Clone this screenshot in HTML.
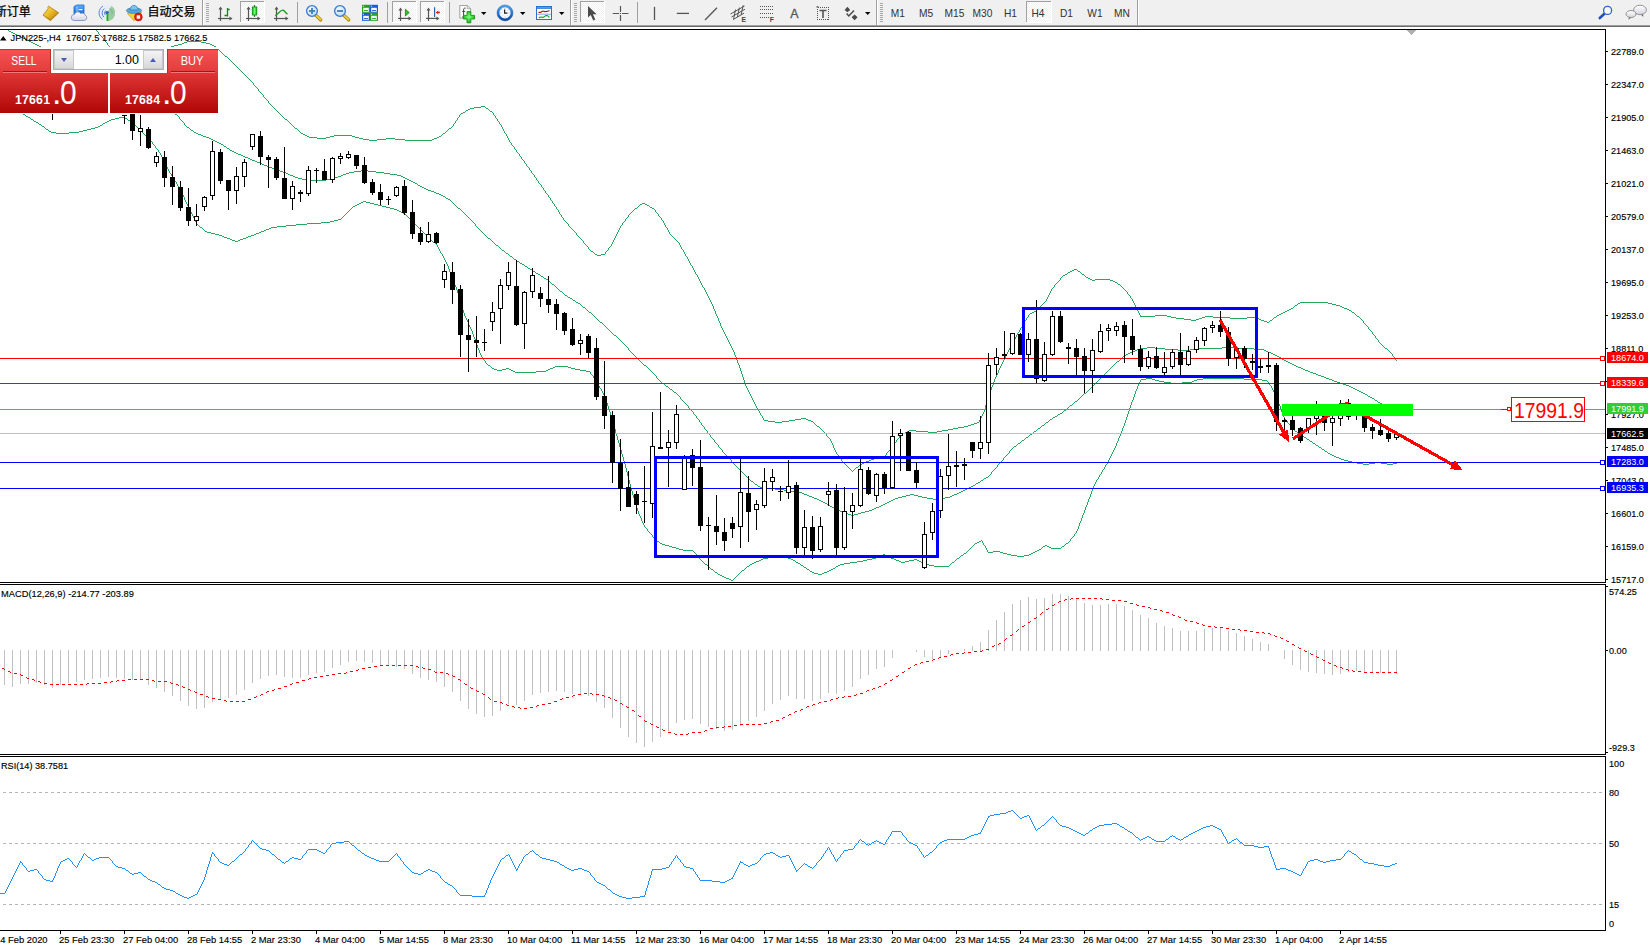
<!DOCTYPE html>
<html><head><meta charset="utf-8"><title>JPN225 H4</title>
<style>
html,body{margin:0;padding:0;background:#fff;}
body{width:1650px;height:950px;position:relative;overflow:hidden;font-family:'Liberation Sans',sans-serif;}
#tb{position:absolute;left:0;top:0;width:1650px;height:25px;background:#f0f0f0;}
#tbl1{position:absolute;left:0;top:25px;width:1650px;height:1px;background:#a0a0a0;}
#tbl2{position:absolute;left:0;top:26px;width:1650px;height:1px;background:#696969;}
#panelbg{position:absolute;left:0;top:47px;width:218px;height:67px;background:#fff;}
#panel{position:absolute;left:0;top:49px;width:218px;height:64px;}
#panel div{position:absolute;box-sizing:border-box;}
.sellT{left:0;top:0;width:51px;height:25px;background:linear-gradient(#f45252,#e23a3a);border-top:1px solid #c93030;border-right:1px solid #c02c2c;}
.buyT{left:167px;top:0;width:51px;height:25px;background:linear-gradient(#f45252,#e23a3a);border-top:1px solid #c93030;border-left:1px solid #c02c2c;}
.sellT span,.buyT span{position:absolute;left:0;right:0;top:4px;text-align:center;color:#fff;font-size:12px;line-height:14px;}
.sellT span{transform:scaleX(0.86);left:-2px}.buyT span{transform:scaleX(0.92);left:-2px}
.sellT:after,.buyT:after{content:"";position:absolute;left:3px;right:3px;top:21px;height:1px;background:#a81414;border-bottom:1px solid #f07878;}
.sellB{left:0;top:24px;width:108px;height:40px;background:linear-gradient(#df3535,#b00606);}
.buyB{left:110px;top:24px;width:108px;height:40px;background:linear-gradient(#df3535,#b00606);}
.sellB span,.buyB span{position:absolute;color:#fff;}
.s{font-size:12.3px;font-weight:bold;left:15px;top:20px;line-height:14px;letter-spacing:0.2px}
.dot{font-size:34px;left:52px;top:-0.5px;line-height:38px;}
.b{font-size:34px;left:60px;top:-0.5px;line-height:38px;transform:scaleX(0.88);transform-origin:left;}
.vol{left:53px;top:0;width:111px;height:21px;background:#fff;border:1px solid #a9b0bd;}
.sp{top:0;width:20px;height:19px;background:linear-gradient(#f4f4f4,#d8d8d8);border:1px solid #c8c8c8;}
.sp.l{left:0}.sp.r{right:0}
.inp{left:21px;top:0;width:67px;height:19px;text-align:right;padding-right:3px;font-size:12.5px;line-height:20px;color:#000;}
i.dn{position:absolute;left:6px;top:7px;border:3.5px solid transparent;border-top:4px solid #4a5bb5;border-bottom:0;}
i.up{position:absolute;left:6px;top:7px;border:3.5px solid transparent;border-bottom:4px solid #4a5bb5;border-top:0;}
</style></head>
<body>
<svg id="chart" width="1650" height="950" viewBox="0 0 1650 950" style="position:absolute;left:0;top:0"><defs><clipPath id="cm"><rect x="0" y="30" width="1605" height="552"/></clipPath></defs>
<g clip-path="url(#cm)" shape-rendering="crispEdges">
<path d="M96 30h1v1h-1zM97 31h1v1h-1zM98 32h1v1h-1zM98 33h1v1h-1zM99 34h1v1h-1zM100 35h1v1h-1zM101 36h1v1h-1zM102 37h1v1h-1zM103 38h1v1h-1zM103 39h1v1h-1zM104 40h1v1h-1zM105 41h1v1h-1zM187 41h14v1h-14zM106 42h1v1h-1zM184 42h3v1h-3zM201 42h5v1h-5zM107 43h1v1h-1zM182 43h2v1h-2zM206 43h4v1h-4zM107 44h1v1h-1zM178 44h4v1h-4zM210 44h2v1h-2zM108 45h1v1h-1zM174 45h4v1h-4zM212 45h2v1h-2zM109 46h1v1h-1zM171 46h3v1h-3zM214 46h2v1h-2zM110 47h1v1h-1zM169 47h2v1h-2zM216 47h1v1h-1zM111 48h2v1h-2zM167 48h2v1h-2zM217 48h1v1h-1zM113 49h1v1h-1zM166 49h1v1h-1zM218 49h1v1h-1zM114 50h1v1h-1zM164 50h2v1h-2zM219 50h1v1h-1zM115 51h2v1h-2zM163 51h1v1h-1zM220 51h1v1h-1zM117 52h1v1h-1zM161 52h2v1h-2zM221 52h1v1h-1zM118 53h1v1h-1zM159 53h2v1h-2zM222 53h1v1h-1zM119 54h2v1h-2zM158 54h1v1h-1zM223 54h1v1h-1zM121 55h1v1h-1zM156 55h2v1h-2zM224 55h1v1h-1zM122 56h1v1h-1zM154 56h2v1h-2zM225 56h2v1h-2zM123 57h2v1h-2zM152 57h2v1h-2zM227 57h1v1h-1zM125 58h2v1h-2zM149 58h3v1h-3zM228 58h1v1h-1zM127 59h4v1h-4zM147 59h2v1h-2zM229 59h1v1h-1zM131 60h4v1h-4zM144 60h3v1h-3zM230 60h1v1h-1zM135 61h4v1h-4zM142 61h2v1h-2zM231 61h1v1h-1zM139 62h3v1h-3zM232 62h1v1h-1zM233 63h1v1h-1zM234 64h1v1h-1zM235 65h1v1h-1zM236 66h1v1h-1zM237 67h1v1h-1zM238 68h1v1h-1zM239 69h1v1h-1zM240 70h1v1h-1zM241 71h1v1h-1zM242 72h1v1h-1zM243 73h1v1h-1zM244 74h1v1h-1zM245 75h1v1h-1zM246 76h1v1h-1zM247 77h1v1h-1zM248 78h1v1h-1zM249 79h1v1h-1zM250 80h1v1h-1zM251 81h1v1h-1zM252 82h1v1h-1zM253 83h1v1h-1zM253 84h1v1h-1zM254 85h1v1h-1zM255 86h1v1h-1zM256 87h1v1h-1zM257 88h1v1h-1zM258 89h1v1h-1zM258 90h1v1h-1zM259 91h1v1h-1zM260 92h1v1h-1zM261 93h1v1h-1zM262 94h1v1h-1zM263 95h1v1h-1zM263 96h1v1h-1zM264 97h1v1h-1zM265 98h1v1h-1zM266 99h1v1h-1zM267 100h1v1h-1zM268 101h1v1h-1zM268 102h1v1h-1zM269 103h1v1h-1zM270 104h1v1h-1zM271 105h1v1h-1zM272 106h1v1h-1zM481 106h4v1h-4zM273 107h1v1h-1zM474 107h7v1h-7zM485 107h1v1h-1zM274 108h1v1h-1zM470 108h4v1h-4zM486 108h2v1h-2zM275 109h1v1h-1zM468 109h2v1h-2zM488 109h1v1h-1zM276 110h1v1h-1zM466 110h2v1h-2zM489 110h1v1h-1zM277 111h1v1h-1zM465 111h1v1h-1zM490 111h2v1h-2zM278 112h1v1h-1zM463 112h2v1h-2zM492 112h1v1h-1zM279 113h1v1h-1zM461 113h2v1h-2zM493 113h1v1h-1zM280 114h1v1h-1zM460 114h1v1h-1zM493 114h1v1h-1zM281 115h1v1h-1zM459 115h1v1h-1zM494 115h1v1h-1zM282 116h1v1h-1zM459 116h1v1h-1zM495 116h1v1h-1zM283 117h1v1h-1zM458 117h1v1h-1zM495 117h1v1h-1zM284 118h1v1h-1zM457 118h1v1h-1zM496 118h1v1h-1zM285 119h2v1h-2zM457 119h1v1h-1zM497 119h1v1h-1zM287 120h1v1h-1zM456 120h1v1h-1zM497 120h1v1h-1zM288 121h1v1h-1zM455 121h1v1h-1zM498 121h1v1h-1zM289 122h1v1h-1zM455 122h1v1h-1zM499 122h1v1h-1zM290 123h1v1h-1zM454 123h1v1h-1zM499 123h1v1h-1zM291 124h1v1h-1zM453 124h1v1h-1zM500 124h1v1h-1zM292 125h1v1h-1zM453 125h1v1h-1zM501 125h1v1h-1zM293 126h1v1h-1zM452 126h1v1h-1zM501 126h1v1h-1zM294 127h1v1h-1zM451 127h1v1h-1zM502 127h1v1h-1zM295 128h2v1h-2zM449 128h2v1h-2zM502 128h1v1h-1zM297 129h1v1h-1zM448 129h1v1h-1zM503 129h1v1h-1zM298 130h1v1h-1zM447 130h1v1h-1zM503 130h1v1h-1zM299 131h1v1h-1zM446 131h1v1h-1zM504 131h1v1h-1zM300 132h1v1h-1zM445 132h1v1h-1zM504 132h1v1h-1zM301 133h2v1h-2zM443 133h2v1h-2zM505 133h1v1h-1zM303 134h2v1h-2zM442 134h1v1h-1zM506 134h1v1h-1zM305 135h2v1h-2zM334 135h18v1h-18zM441 135h1v1h-1zM506 135h1v1h-1zM307 136h2v1h-2zM330 136h4v1h-4zM352 136h3v1h-3zM439 136h2v1h-2zM507 136h1v1h-1zM309 137h8v1h-8zM326 137h4v1h-4zM355 137h4v1h-4zM437 137h2v1h-2zM507 137h1v1h-1zM317 138h9v1h-9zM359 138h4v1h-4zM386 138h9v1h-9zM434 138h3v1h-3zM508 138h1v1h-1zM363 139h6v1h-6zM377 139h9v1h-9zM395 139h10v1h-10zM432 139h2v1h-2zM508 139h1v1h-1zM369 140h8v1h-8zM405 140h27v1h-27zM509 140h1v1h-1zM509 141h1v1h-1zM510 142h1v1h-1zM511 143h1v1h-1zM511 144h1v1h-1zM512 145h1v1h-1zM513 146h1v1h-1zM514 147h1v1h-1zM514 148h1v1h-1zM515 149h1v1h-1zM516 150h1v1h-1zM516 151h1v1h-1zM517 152h1v1h-1zM518 153h1v1h-1zM519 154h1v1h-1zM519 155h1v1h-1zM520 156h1v1h-1zM521 157h1v1h-1zM521 158h1v1h-1zM522 159h1v1h-1zM523 160h1v1h-1zM524 161h1v1h-1zM524 162h1v1h-1zM525 163h1v1h-1zM526 164h1v1h-1zM526 165h1v1h-1zM527 166h1v1h-1zM528 167h1v1h-1zM529 168h1v1h-1zM529 169h1v1h-1zM530 170h1v1h-1zM531 171h1v1h-1zM531 172h1v1h-1zM532 173h1v1h-1zM533 174h1v1h-1zM534 175h1v1h-1zM534 176h1v1h-1zM535 177h1v1h-1zM536 178h1v1h-1zM536 179h1v1h-1zM537 180h1v1h-1zM538 181h1v1h-1zM538 182h1v1h-1zM539 183h1v1h-1zM540 184h1v1h-1zM541 185h1v1h-1zM541 186h1v1h-1zM542 187h1v1h-1zM543 188h1v1h-1zM543 189h1v1h-1zM544 190h1v1h-1zM545 191h1v1h-1zM545 192h1v1h-1zM546 193h1v1h-1zM547 194h1v1h-1zM548 195h1v1h-1zM548 196h1v1h-1zM549 197h1v1h-1zM550 198h1v1h-1zM550 199h1v1h-1zM551 200h1v1h-1zM552 201h1v1h-1zM552 202h1v1h-1zM553 203h1v1h-1zM642 203h3v1h-3zM554 204h1v1h-1zM640 204h2v1h-2zM645 204h2v1h-2zM554 205h1v1h-1zM639 205h1v1h-1zM647 205h2v1h-2zM555 206h1v1h-1zM638 206h1v1h-1zM649 206h1v1h-1zM556 207h1v1h-1zM637 207h1v1h-1zM650 207h2v1h-2zM556 208h1v1h-1zM635 208h2v1h-2zM652 208h2v1h-2zM557 209h1v1h-1zM634 209h1v1h-1zM654 209h1v1h-1zM558 210h1v1h-1zM633 210h1v1h-1zM655 210h1v1h-1zM558 211h1v1h-1zM632 211h1v1h-1zM655 211h1v1h-1zM559 212h1v1h-1zM631 212h1v1h-1zM656 212h1v1h-1zM559 213h1v1h-1zM630 213h1v1h-1zM657 213h1v1h-1zM560 214h1v1h-1zM629 214h1v1h-1zM658 214h1v1h-1zM561 215h1v1h-1zM628 215h1v1h-1zM658 215h1v1h-1zM561 216h1v1h-1zM628 216h1v1h-1zM659 216h1v1h-1zM562 217h1v1h-1zM627 217h1v1h-1zM660 217h1v1h-1zM563 218h1v1h-1zM626 218h1v1h-1zM661 218h1v1h-1zM563 219h1v1h-1zM625 219h1v1h-1zM661 219h1v1h-1zM564 220h1v1h-1zM625 220h1v1h-1zM662 220h1v1h-1zM565 221h1v1h-1zM624 221h1v1h-1zM663 221h1v1h-1zM566 222h1v1h-1zM623 222h1v1h-1zM663 222h1v1h-1zM567 223h1v1h-1zM622 223h1v1h-1zM664 223h1v1h-1zM568 224h1v1h-1zM622 224h1v1h-1zM664 224h1v1h-1zM568 225h1v1h-1zM621 225h1v1h-1zM665 225h1v1h-1zM569 226h1v1h-1zM620 226h1v1h-1zM665 226h1v1h-1zM570 227h1v1h-1zM620 227h1v1h-1zM666 227h1v1h-1zM571 228h1v1h-1zM619 228h1v1h-1zM667 228h1v1h-1zM572 229h1v1h-1zM619 229h1v1h-1zM667 229h1v1h-1zM573 230h1v1h-1zM618 230h1v1h-1zM668 230h1v1h-1zM574 231h1v1h-1zM618 231h1v1h-1zM668 231h1v1h-1zM575 232h1v1h-1zM617 232h1v1h-1zM669 232h1v1h-1zM576 233h1v1h-1zM617 233h1v1h-1zM669 233h1v1h-1zM576 234h1v1h-1zM616 234h1v1h-1zM670 234h1v1h-1zM577 235h1v1h-1zM616 235h1v1h-1zM671 235h1v1h-1zM578 236h1v1h-1zM615 236h1v1h-1zM672 236h1v1h-1zM579 237h1v1h-1zM615 237h1v1h-1zM673 237h1v1h-1zM580 238h1v1h-1zM614 238h1v1h-1zM674 238h1v1h-1zM581 239h1v1h-1zM614 239h1v1h-1zM675 239h1v1h-1zM582 240h1v1h-1zM613 240h1v1h-1zM676 240h1v1h-1zM583 241h1v1h-1zM613 241h1v1h-1zM677 241h1v1h-1zM583 242h1v1h-1zM612 242h1v1h-1zM678 242h1v1h-1zM584 243h1v1h-1zM612 243h1v1h-1zM679 243h1v1h-1zM585 244h1v1h-1zM611 244h1v1h-1zM679 244h1v1h-1zM586 245h1v1h-1zM611 245h1v1h-1zM680 245h1v1h-1zM587 246h1v1h-1zM610 246h1v1h-1zM680 246h1v1h-1zM588 247h1v1h-1zM609 247h1v1h-1zM681 247h1v1h-1zM588 248h1v1h-1zM608 248h1v1h-1zM681 248h1v1h-1zM589 249h1v1h-1zM608 249h1v1h-1zM682 249h1v1h-1zM590 250h1v1h-1zM607 250h1v1h-1zM683 250h1v1h-1zM591 251h2v1h-2zM606 251h1v1h-1zM683 251h1v1h-1zM593 252h1v1h-1zM605 252h1v1h-1zM684 252h1v1h-1zM594 253h1v1h-1zM605 253h1v1h-1zM684 253h1v1h-1zM595 254h2v1h-2zM601 254h4v1h-4zM685 254h1v1h-1zM597 255h4v1h-4zM685 255h1v1h-1zM686 256h1v1h-1zM687 257h1v1h-1zM687 258h1v1h-1zM688 259h1v1h-1zM688 260h1v1h-1zM689 261h1v1h-1zM689 262h1v1h-1zM690 263h1v1h-1zM690 264h1v1h-1zM691 265h1v1h-1zM692 266h1v1h-1zM692 267h1v1h-1zM693 268h1v1h-1zM693 269h1v1h-1zM1074 269h3v1h-3zM694 270h1v1h-1zM1072 270h2v1h-2zM1077 270h1v1h-1zM694 271h1v1h-1zM1070 271h2v1h-2zM1078 271h2v1h-2zM695 272h1v1h-1zM1068 272h2v1h-2zM1080 272h1v1h-1zM695 273h1v1h-1zM1067 273h1v1h-1zM1081 273h1v1h-1zM696 274h1v1h-1zM1065 274h2v1h-2zM1082 274h2v1h-2zM697 275h1v1h-1zM1063 275h2v1h-2zM1084 275h1v1h-1zM697 276h1v1h-1zM1062 276h1v1h-1zM1085 276h1v1h-1zM698 277h1v1h-1zM1061 277h1v1h-1zM1086 277h2v1h-2zM698 278h1v1h-1zM1060 278h1v1h-1zM1088 278h2v1h-2zM699 279h1v1h-1zM1060 279h1v1h-1zM1090 279h2v1h-2zM1095 279h15v1h-15zM699 280h1v1h-1zM1059 280h1v1h-1zM1092 280h3v1h-3zM1110 280h3v1h-3zM700 281h1v1h-1zM1058 281h1v1h-1zM1113 281h2v1h-2zM700 282h1v1h-1zM1057 282h1v1h-1zM1115 282h2v1h-2zM701 283h1v1h-1zM1056 283h1v1h-1zM1117 283h1v1h-1zM701 284h1v1h-1zM1055 284h1v1h-1zM1118 284h2v1h-2zM702 285h1v1h-1zM1054 285h1v1h-1zM1120 285h1v1h-1zM702 286h1v1h-1zM1054 286h1v1h-1zM1121 286h1v1h-1zM703 287h1v1h-1zM1053 287h1v1h-1zM1122 287h1v1h-1zM704 288h1v1h-1zM1052 288h1v1h-1zM1123 288h1v1h-1zM704 289h1v1h-1zM1051 289h1v1h-1zM1124 289h1v1h-1zM705 290h1v1h-1zM1051 290h1v1h-1zM1125 290h1v1h-1zM705 291h1v1h-1zM1050 291h1v1h-1zM1126 291h1v1h-1zM706 292h1v1h-1zM1050 292h1v1h-1zM1127 292h1v1h-1zM706 293h1v1h-1zM1049 293h1v1h-1zM1127 293h1v1h-1zM707 294h1v1h-1zM1049 294h1v1h-1zM1128 294h1v1h-1zM707 295h1v1h-1zM1048 295h1v1h-1zM1129 295h1v1h-1zM708 296h1v1h-1zM1048 296h1v1h-1zM1130 296h1v1h-1zM708 297h1v1h-1zM1047 297h1v1h-1zM1130 297h1v1h-1zM709 298h1v1h-1zM1047 298h1v1h-1zM1131 298h1v1h-1zM709 299h1v1h-1zM1046 299h1v1h-1zM1132 299h1v1h-1zM710 300h1v1h-1zM1046 300h1v1h-1zM1132 300h1v1h-1zM710 301h1v1h-1zM1045 301h1v1h-1zM1133 301h1v1h-1zM711 302h1v1h-1zM1044 302h1v1h-1zM1133 302h1v1h-1zM1300 302h28v1h-28zM711 303h1v1h-1zM1043 303h1v1h-1zM1134 303h1v1h-1zM1298 303h2v1h-2zM1328 303h4v1h-4zM712 304h1v1h-1zM1042 304h1v1h-1zM1134 304h1v1h-1zM1297 304h1v1h-1zM1332 304h4v1h-4zM712 305h1v1h-1zM1041 305h1v1h-1zM1135 305h1v1h-1zM1295 305h2v1h-2zM1336 305h4v1h-4zM713 306h1v1h-1zM1040 306h1v1h-1zM1135 306h1v1h-1zM1294 306h1v1h-1zM1340 306h2v1h-2zM713 307h1v1h-1zM1039 307h1v1h-1zM1136 307h1v1h-1zM1293 307h1v1h-1zM1342 307h2v1h-2zM713 308h1v1h-1zM1038 308h1v1h-1zM1136 308h1v1h-1zM1291 308h2v1h-2zM1344 308h3v1h-3zM714 309h1v1h-1zM1037 309h1v1h-1zM1137 309h1v1h-1zM1289 309h2v1h-2zM1347 309h2v1h-2zM714 310h1v1h-1zM1036 310h1v1h-1zM1137 310h1v1h-1zM1287 310h2v1h-2zM1349 310h2v1h-2zM715 311h1v1h-1zM1034 311h2v1h-2zM1138 311h1v1h-1zM1285 311h2v1h-2zM1351 311h1v1h-1zM715 312h1v1h-1zM1032 312h2v1h-2zM1138 312h1v1h-1zM1283 312h2v1h-2zM1352 312h2v1h-2zM715 313h1v1h-1zM1030 313h2v1h-2zM1139 313h1v1h-1zM1281 313h2v1h-2zM1354 313h1v1h-1zM716 314h1v1h-1zM1029 314h1v1h-1zM1139 314h1v1h-1zM1279 314h2v1h-2zM1355 314h1v1h-1zM716 315h1v1h-1zM1028 315h1v1h-1zM1140 315h1v1h-1zM1155 315h12v1h-12zM1277 315h2v1h-2zM1356 315h1v1h-1zM717 316h1v1h-1zM1028 316h1v1h-1zM1140 316h15v1h-15zM1167 316h4v1h-4zM1205 316h8v1h-8zM1276 316h1v1h-1zM1357 316h2v1h-2zM717 317h1v1h-1zM1027 317h1v1h-1zM1171 317h5v1h-5zM1202 317h3v1h-3zM1213 317h17v1h-17zM1247 317h9v1h-9zM1274 317h2v1h-2zM1359 317h1v1h-1zM718 318h1v1h-1zM1026 318h1v1h-1zM1176 318h8v1h-8zM1199 318h3v1h-3zM1230 318h17v1h-17zM1256 318h3v1h-3zM1273 318h1v1h-1zM1360 318h1v1h-1zM718 319h1v1h-1zM1026 319h1v1h-1zM1184 319h7v1h-7zM1196 319h3v1h-3zM1259 319h2v1h-2zM1272 319h1v1h-1zM1361 319h1v1h-1zM718 320h1v1h-1zM1025 320h1v1h-1zM1191 320h5v1h-5zM1261 320h3v1h-3zM1270 320h2v1h-2zM1362 320h1v1h-1zM719 321h1v1h-1zM1024 321h1v1h-1zM1264 321h3v1h-3zM1269 321h1v1h-1zM1363 321h1v1h-1zM719 322h1v1h-1zM1024 322h1v1h-1zM1267 322h2v1h-2zM1363 322h1v1h-1zM720 323h1v1h-1zM1023 323h1v1h-1zM1364 323h1v1h-1zM720 324h1v1h-1zM1023 324h1v1h-1zM1365 324h1v1h-1zM720 325h1v1h-1zM1022 325h1v1h-1zM1366 325h1v1h-1zM721 326h1v1h-1zM1022 326h1v1h-1zM1367 326h1v1h-1zM721 327h1v1h-1zM1021 327h1v1h-1zM1368 327h1v1h-1zM722 328h1v1h-1zM1020 328h1v1h-1zM1368 328h1v1h-1zM722 329h1v1h-1zM1020 329h1v1h-1zM1369 329h1v1h-1zM723 330h1v1h-1zM1019 330h1v1h-1zM1370 330h1v1h-1zM723 331h1v1h-1zM1019 331h1v1h-1zM1371 331h1v1h-1zM724 332h1v1h-1zM1018 332h1v1h-1zM1372 332h1v1h-1zM724 333h1v1h-1zM1017 333h1v1h-1zM1372 333h1v1h-1zM725 334h1v1h-1zM1017 334h1v1h-1zM1373 334h1v1h-1zM725 335h1v1h-1zM1016 335h1v1h-1zM1374 335h1v1h-1zM726 336h1v1h-1zM1016 336h1v1h-1zM1375 336h1v1h-1zM726 337h1v1h-1zM1015 337h1v1h-1zM1375 337h1v1h-1zM727 338h1v1h-1zM1015 338h1v1h-1zM1376 338h1v1h-1zM727 339h1v1h-1zM1014 339h1v1h-1zM1377 339h1v1h-1zM728 340h1v1h-1zM1013 340h1v1h-1zM1378 340h1v1h-1zM728 341h1v1h-1zM1013 341h1v1h-1zM1378 341h1v1h-1zM729 342h1v1h-1zM1012 342h1v1h-1zM1379 342h1v1h-1zM729 343h1v1h-1zM1012 343h1v1h-1zM1380 343h1v1h-1zM730 344h1v1h-1zM1011 344h1v1h-1zM1381 344h1v1h-1zM730 345h1v1h-1zM1011 345h1v1h-1zM1382 345h1v1h-1zM731 346h1v1h-1zM1010 346h1v1h-1zM1383 346h1v1h-1zM731 347h1v1h-1zM1010 347h1v1h-1zM1384 347h1v1h-1zM732 348h1v1h-1zM1009 348h1v1h-1zM1385 348h2v1h-2zM732 349h1v1h-1zM1009 349h1v1h-1zM1387 349h1v1h-1zM733 350h1v1h-1zM1008 350h1v1h-1zM1388 350h1v1h-1zM733 351h1v1h-1zM1008 351h1v1h-1zM1389 351h1v1h-1zM734 352h1v1h-1zM1007 352h1v1h-1zM1390 352h1v1h-1zM734 353h1v1h-1zM1007 353h1v1h-1zM1391 353h1v1h-1zM734 354h1v1h-1zM1006 354h1v1h-1zM1392 354h1v1h-1zM735 355h1v1h-1zM1006 355h1v1h-1zM1392 355h1v1h-1zM735 356h1v1h-1zM1005 356h1v1h-1zM1393 356h1v1h-1zM736 357h1v1h-1zM1005 357h1v1h-1zM1394 357h1v1h-1zM736 358h1v1h-1zM1004 358h1v1h-1zM1395 358h1v1h-1zM736 359h1v1h-1zM1004 359h1v1h-1zM1395 359h1v1h-1zM737 360h1v1h-1zM1003 360h1v1h-1zM1396 360h1v1h-1zM737 361h1v1h-1zM1003 361h1v1h-1zM737 362h1v1h-1zM1002 362h1v1h-1zM738 363h1v1h-1zM1002 363h1v1h-1zM738 364h1v1h-1zM1001 364h1v1h-1zM739 365h1v1h-1zM1001 365h1v1h-1zM739 366h1v1h-1zM1000 366h1v1h-1zM739 367h1v1h-1zM1000 367h1v1h-1zM740 368h1v1h-1zM999 368h1v1h-1zM740 369h1v1h-1zM999 369h1v1h-1zM740 370h1v1h-1zM998 370h1v1h-1zM741 371h1v1h-1zM998 371h1v1h-1zM741 372h1v1h-1zM998 372h1v1h-1zM741 373h1v1h-1zM997 373h1v1h-1zM742 374h1v1h-1zM997 374h1v1h-1zM742 375h1v1h-1zM996 375h1v1h-1zM742 376h1v1h-1zM996 376h1v1h-1zM743 377h1v1h-1zM995 377h1v1h-1zM743 378h1v1h-1zM995 378h1v1h-1zM743 379h1v1h-1zM994 379h1v1h-1zM744 380h1v1h-1zM994 380h1v1h-1zM744 381h1v1h-1zM994 381h1v1h-1zM744 382h1v1h-1zM993 382h1v1h-1zM745 383h1v1h-1zM993 383h1v1h-1zM745 384h1v1h-1zM993 384h1v1h-1zM745 385h1v1h-1zM992 385h1v1h-1zM746 386h1v1h-1zM992 386h1v1h-1zM746 387h1v1h-1zM991 387h1v1h-1zM747 388h1v1h-1zM991 388h1v1h-1zM747 389h1v1h-1zM991 389h1v1h-1zM748 390h1v1h-1zM990 390h1v1h-1zM748 391h1v1h-1zM990 391h1v1h-1zM749 392h1v1h-1zM990 392h1v1h-1zM749 393h1v1h-1zM989 393h1v1h-1zM750 394h1v1h-1zM989 394h1v1h-1zM750 395h1v1h-1zM988 395h1v1h-1zM751 396h1v1h-1zM988 396h1v1h-1zM751 397h1v1h-1zM988 397h1v1h-1zM752 398h1v1h-1zM987 398h1v1h-1zM752 399h1v1h-1zM987 399h1v1h-1zM753 400h1v1h-1zM987 400h1v1h-1zM753 401h1v1h-1zM987 401h1v1h-1zM754 402h1v1h-1zM986 402h1v1h-1zM754 403h1v1h-1zM986 403h1v1h-1zM755 404h1v1h-1zM986 404h1v1h-1zM755 405h1v1h-1zM985 405h1v1h-1zM756 406h1v1h-1zM985 406h1v1h-1zM756 407h1v1h-1zM985 407h1v1h-1zM757 408h1v1h-1zM985 408h1v1h-1zM758 409h1v1h-1zM984 409h1v1h-1zM758 410h1v1h-1zM984 410h1v1h-1zM759 411h1v1h-1zM984 411h1v1h-1zM759 412h1v1h-1zM983 412h1v1h-1zM760 413h1v1h-1zM983 413h1v1h-1zM760 414h1v1h-1zM982 414h1v1h-1zM761 415h1v1h-1zM982 415h1v1h-1zM762 416h1v1h-1zM981 416h1v1h-1zM762 417h1v1h-1zM981 417h1v1h-1zM763 418h1v1h-1zM801 418h5v1h-5zM980 418h1v1h-1zM763 419h1v1h-1zM795 419h6v1h-6zM806 419h2v1h-2zM980 419h1v1h-1zM764 420h4v1h-4zM789 420h6v1h-6zM808 420h3v1h-3zM979 420h1v1h-1zM768 421h7v1h-7zM782 421h7v1h-7zM811 421h2v1h-2zM979 421h1v1h-1zM775 422h7v1h-7zM813 422h1v1h-1zM977 422h2v1h-2zM814 423h1v1h-1zM974 423h3v1h-3zM815 424h1v1h-1zM971 424h3v1h-3zM816 425h1v1h-1zM968 425h3v1h-3zM817 426h2v1h-2zM964 426h4v1h-4zM819 427h1v1h-1zM958 427h6v1h-6zM820 428h1v1h-1zM953 428h5v1h-5zM821 429h1v1h-1zM948 429h5v1h-5zM822 430h1v1h-1zM909 430h7v1h-7zM942 430h6v1h-6zM823 431h1v1h-1zM907 431h2v1h-2zM916 431h12v1h-12zM937 431h5v1h-5zM824 432h1v1h-1zM905 432h2v1h-2zM928 432h9v1h-9zM825 433h1v1h-1zM903 433h2v1h-2zM826 434h1v1h-1zM901 434h2v1h-2zM826 435h1v1h-1zM900 435h1v1h-1zM827 436h1v1h-1zM899 436h1v1h-1zM828 437h1v1h-1zM899 437h1v1h-1zM829 438h1v1h-1zM898 438h1v1h-1zM830 439h1v1h-1zM897 439h1v1h-1zM830 440h1v1h-1zM896 440h1v1h-1zM831 441h1v1h-1zM896 441h1v1h-1zM831 442h1v1h-1zM895 442h1v1h-1zM832 443h1v1h-1zM894 443h1v1h-1zM832 444h1v1h-1zM893 444h1v1h-1zM833 445h1v1h-1zM893 445h1v1h-1zM833 446h1v1h-1zM892 446h1v1h-1zM833 447h1v1h-1zM891 447h1v1h-1zM834 448h1v1h-1zM890 448h1v1h-1zM834 449h1v1h-1zM890 449h1v1h-1zM835 450h1v1h-1zM889 450h1v1h-1zM835 451h1v1h-1zM888 451h1v1h-1zM836 452h1v1h-1zM887 452h1v1h-1zM836 453h1v1h-1zM886 453h1v1h-1zM837 454h1v1h-1zM886 454h1v1h-1zM838 455h1v1h-1zM885 455h1v1h-1zM838 456h1v1h-1zM882 456h3v1h-3zM839 457h1v1h-1zM878 457h4v1h-4zM840 458h1v1h-1zM874 458h4v1h-4zM841 459h1v1h-1zM871 459h3v1h-3zM841 460h1v1h-1zM869 460h2v1h-2zM842 461h1v1h-1zM866 461h3v1h-3zM843 462h1v1h-1zM864 462h2v1h-2zM844 463h1v1h-1zM862 463h2v1h-2zM845 464h1v1h-1zM860 464h2v1h-2zM846 465h1v1h-1zM859 465h1v1h-1zM847 466h1v1h-1zM858 466h1v1h-1zM848 467h1v1h-1zM856 467h2v1h-2zM849 468h1v1h-1zM855 468h1v1h-1zM850 469h1v1h-1zM854 469h1v1h-1zM851 470h1v1h-1zM853 470h1v1h-1zM852 471h1v1h-1z" fill="#24a95e"/>
<path d="M8 30h1v1h-1zM9 31h2v1h-2zM11 32h2v1h-2zM13 33h2v1h-2zM15 34h2v1h-2zM17 35h2v1h-2zM19 36h2v1h-2zM21 37h2v1h-2zM23 38h2v1h-2zM25 39h2v1h-2zM27 40h2v1h-2zM29 41h2v1h-2zM31 42h2v1h-2zM33 43h2v1h-2zM35 44h2v1h-2zM37 45h2v1h-2zM39 46h2v1h-2zM41 47h2v1h-2zM43 48h2v1h-2zM45 49h2v1h-2zM47 50h2v1h-2zM49 51h2v1h-2zM51 52h2v1h-2zM53 53h2v1h-2zM55 54h2v1h-2zM57 55h2v1h-2zM59 56h2v1h-2zM61 57h2v1h-2zM63 58h2v1h-2zM65 59h2v1h-2zM67 60h2v1h-2zM69 61h2v1h-2zM71 62h2v1h-2zM73 63h2v1h-2zM75 64h2v1h-2zM77 65h2v1h-2zM79 66h2v1h-2zM81 67h2v1h-2zM83 68h2v1h-2zM85 69h2v1h-2zM87 70h2v1h-2zM89 71h2v1h-2zM91 72h2v1h-2zM93 73h2v1h-2zM95 74h2v1h-2zM97 75h2v1h-2zM99 76h2v1h-2zM101 77h2v1h-2zM103 78h2v1h-2zM105 79h2v1h-2zM107 80h2v1h-2zM109 81h2v1h-2zM111 82h2v1h-2zM113 83h2v1h-2zM115 84h2v1h-2zM117 85h2v1h-2zM119 86h3v1h-3zM122 87h2v1h-2zM124 88h2v1h-2zM126 89h2v1h-2zM128 90h2v1h-2zM130 91h2v1h-2zM132 92h2v1h-2zM134 93h3v1h-3zM137 94h2v1h-2zM139 95h2v1h-2zM141 96h2v1h-2zM143 97h2v1h-2zM145 98h2v1h-2zM147 99h2v1h-2zM149 100h2v1h-2zM151 101h2v1h-2zM153 102h2v1h-2zM155 103h2v1h-2zM157 104h2v1h-2zM159 105h1v1h-1zM160 106h2v1h-2zM162 107h2v1h-2zM164 108h2v1h-2zM166 109h2v1h-2zM168 110h1v1h-1zM169 111h2v1h-2zM171 112h2v1h-2zM173 113h2v1h-2zM175 114h2v1h-2zM177 115h1v1h-1zM178 116h1v1h-1zM179 117h1v1h-1zM179 118h1v1h-1zM180 119h1v1h-1zM181 120h1v1h-1zM182 121h1v1h-1zM183 122h1v1h-1zM184 123h1v1h-1zM184 124h1v1h-1zM185 125h1v1h-1zM186 126h1v1h-1zM187 127h2v1h-2zM189 128h1v1h-1zM190 129h1v1h-1zM191 130h2v1h-2zM193 131h1v1h-1zM194 132h2v1h-2zM196 133h2v1h-2zM198 134h3v1h-3zM201 135h2v1h-2zM203 136h3v1h-3zM206 137h3v1h-3zM209 138h2v1h-2zM211 139h2v1h-2zM213 140h2v1h-2zM215 141h2v1h-2zM217 142h2v1h-2zM219 143h2v1h-2zM221 144h2v1h-2zM223 145h1v1h-1zM224 146h2v1h-2zM226 147h1v1h-1zM227 148h2v1h-2zM229 149h1v1h-1zM230 150h2v1h-2zM232 151h2v1h-2zM234 152h2v1h-2zM236 153h2v1h-2zM238 154h3v1h-3zM241 155h2v1h-2zM243 156h2v1h-2zM245 157h3v1h-3zM248 158h2v1h-2zM250 159h2v1h-2zM252 160h3v1h-3zM255 161h2v1h-2zM257 162h3v1h-3zM260 163h2v1h-2zM262 164h2v1h-2zM264 165h3v1h-3zM267 166h2v1h-2zM269 167h3v1h-3zM272 168h3v1h-3zM275 169h2v1h-2zM277 170h3v1h-3zM361 170h7v1h-7zM280 171h3v1h-3zM354 171h7v1h-7zM368 171h8v1h-8zM283 172h3v1h-3zM349 172h5v1h-5zM376 172h8v1h-8zM286 173h2v1h-2zM346 173h3v1h-3zM384 173h6v1h-6zM288 174h2v1h-2zM343 174h3v1h-3zM390 174h7v1h-7zM290 175h3v1h-3zM341 175h2v1h-2zM397 175h4v1h-4zM293 176h2v1h-2zM338 176h3v1h-3zM401 176h2v1h-2zM295 177h3v1h-3zM334 177h4v1h-4zM403 177h2v1h-2zM298 178h4v1h-4zM330 178h4v1h-4zM405 178h2v1h-2zM302 179h4v1h-4zM326 179h4v1h-4zM407 179h2v1h-2zM306 180h20v1h-20zM409 180h2v1h-2zM411 181h2v1h-2zM413 182h2v1h-2zM415 183h2v1h-2zM417 184h1v1h-1zM418 185h2v1h-2zM420 186h2v1h-2zM422 187h2v1h-2zM424 188h2v1h-2zM426 189h2v1h-2zM428 190h3v1h-3zM431 191h3v1h-3zM434 192h2v1h-2zM436 193h3v1h-3zM439 194h2v1h-2zM441 195h2v1h-2zM443 196h2v1h-2zM445 197h1v1h-1zM446 198h2v1h-2zM448 199h2v1h-2zM450 200h1v1h-1zM451 201h1v1h-1zM452 202h1v1h-1zM453 203h1v1h-1zM454 204h1v1h-1zM455 205h1v1h-1zM456 206h1v1h-1zM457 207h1v1h-1zM458 208h2v1h-2zM460 209h1v1h-1zM461 210h1v1h-1zM462 211h1v1h-1zM463 212h1v1h-1zM464 213h1v1h-1zM465 214h1v1h-1zM466 215h1v1h-1zM467 216h1v1h-1zM468 217h1v1h-1zM469 218h1v1h-1zM470 219h1v1h-1zM471 220h1v1h-1zM472 221h1v1h-1zM473 222h1v1h-1zM474 223h1v1h-1zM475 224h1v1h-1zM475 225h1v1h-1zM476 226h1v1h-1zM477 227h1v1h-1zM478 228h1v1h-1zM479 229h1v1h-1zM480 230h1v1h-1zM481 231h1v1h-1zM482 232h1v1h-1zM483 233h1v1h-1zM484 234h1v1h-1zM485 235h1v1h-1zM486 236h1v1h-1zM487 237h1v1h-1zM488 238h2v1h-2zM490 239h1v1h-1zM491 240h1v1h-1zM492 241h1v1h-1zM493 242h1v1h-1zM494 243h1v1h-1zM495 244h1v1h-1zM496 245h2v1h-2zM498 246h1v1h-1zM499 247h1v1h-1zM500 248h1v1h-1zM501 249h1v1h-1zM502 250h2v1h-2zM504 251h1v1h-1zM505 252h1v1h-1zM506 253h2v1h-2zM508 254h1v1h-1zM509 255h1v1h-1zM510 256h2v1h-2zM512 257h1v1h-1zM513 258h1v1h-1zM514 259h2v1h-2zM516 260h1v1h-1zM517 261h2v1h-2zM519 262h1v1h-1zM520 263h2v1h-2zM522 264h2v1h-2zM524 265h1v1h-1zM525 266h2v1h-2zM527 267h1v1h-1zM528 268h2v1h-2zM530 269h2v1h-2zM532 270h1v1h-1zM533 271h2v1h-2zM535 272h1v1h-1zM536 273h2v1h-2zM538 274h2v1h-2zM540 275h1v1h-1zM541 276h2v1h-2zM543 277h1v1h-1zM544 278h2v1h-2zM546 279h2v1h-2zM548 280h1v1h-1zM549 281h1v1h-1zM550 282h1v1h-1zM551 283h1v1h-1zM552 284h2v1h-2zM554 285h1v1h-1zM555 286h1v1h-1zM556 287h1v1h-1zM557 288h1v1h-1zM558 289h1v1h-1zM559 290h1v1h-1zM560 291h2v1h-2zM562 292h1v1h-1zM563 293h1v1h-1zM564 294h1v1h-1zM565 295h2v1h-2zM567 296h1v1h-1zM568 297h2v1h-2zM570 298h2v1h-2zM572 299h1v1h-1zM573 300h2v1h-2zM575 301h1v1h-1zM576 302h2v1h-2zM578 303h2v1h-2zM580 304h1v1h-1zM581 305h1v1h-1zM582 306h1v1h-1zM583 307h2v1h-2zM585 308h1v1h-1zM586 309h1v1h-1zM587 310h1v1h-1zM588 311h1v1h-1zM589 312h2v1h-2zM591 313h1v1h-1zM592 314h1v1h-1zM593 315h1v1h-1zM594 316h1v1h-1zM595 317h1v1h-1zM596 318h1v1h-1zM597 319h1v1h-1zM598 320h1v1h-1zM599 321h1v1h-1zM600 322h2v1h-2zM602 323h1v1h-1zM603 324h1v1h-1zM604 325h1v1h-1zM605 326h1v1h-1zM606 327h1v1h-1zM607 328h1v1h-1zM608 329h1v1h-1zM609 330h1v1h-1zM610 331h1v1h-1zM611 332h1v1h-1zM612 333h1v1h-1zM613 334h1v1h-1zM614 335h2v1h-2zM616 336h1v1h-1zM617 337h1v1h-1zM618 338h1v1h-1zM619 339h1v1h-1zM620 340h1v1h-1zM621 341h1v1h-1zM622 342h1v1h-1zM623 343h1v1h-1zM624 344h1v1h-1zM625 345h1v1h-1zM626 346h1v1h-1zM627 347h1v1h-1zM1147 347h8v1h-8zM1222 347h16v1h-16zM628 348h1v1h-1zM1141 348h6v1h-6zM1155 348h10v1h-10zM1198 348h24v1h-24zM1238 348h16v1h-16zM628 349h1v1h-1zM1137 349h4v1h-4zM1165 349h13v1h-13zM1190 349h8v1h-8zM1254 349h10v1h-10zM629 350h1v1h-1zM1135 350h2v1h-2zM1178 350h12v1h-12zM1264 350h2v1h-2zM630 351h1v1h-1zM1132 351h3v1h-3zM1266 351h2v1h-2zM631 352h1v1h-1zM1130 352h2v1h-2zM1268 352h3v1h-3zM632 353h1v1h-1zM1128 353h2v1h-2zM1271 353h2v1h-2zM633 354h1v1h-1zM1126 354h2v1h-2zM1273 354h2v1h-2zM634 355h1v1h-1zM1125 355h1v1h-1zM1275 355h2v1h-2zM635 356h1v1h-1zM1123 356h2v1h-2zM1277 356h2v1h-2zM636 357h1v1h-1zM1122 357h1v1h-1zM1279 357h2v1h-2zM637 358h1v1h-1zM1121 358h1v1h-1zM1281 358h1v1h-1zM638 359h1v1h-1zM1120 359h1v1h-1zM1282 359h2v1h-2zM639 360h1v1h-1zM1119 360h1v1h-1zM1284 360h2v1h-2zM640 361h1v1h-1zM1117 361h2v1h-2zM1286 361h2v1h-2zM641 362h1v1h-1zM1116 362h1v1h-1zM1288 362h2v1h-2zM642 363h1v1h-1zM1115 363h1v1h-1zM1290 363h2v1h-2zM643 364h1v1h-1zM1114 364h1v1h-1zM1292 364h2v1h-2zM644 365h2v1h-2zM1113 365h1v1h-1zM1294 365h2v1h-2zM646 366h1v1h-1zM1112 366h1v1h-1zM1296 366h2v1h-2zM647 367h1v1h-1zM1111 367h1v1h-1zM1298 367h3v1h-3zM648 368h1v1h-1zM1110 368h1v1h-1zM1301 368h2v1h-2zM649 369h1v1h-1zM1109 369h1v1h-1zM1303 369h2v1h-2zM650 370h1v1h-1zM1108 370h1v1h-1zM1305 370h3v1h-3zM651 371h1v1h-1zM1107 371h1v1h-1zM1308 371h2v1h-2zM652 372h1v1h-1zM1106 372h1v1h-1zM1310 372h3v1h-3zM653 373h1v1h-1zM1105 373h1v1h-1zM1313 373h3v1h-3zM654 374h1v1h-1zM1104 374h1v1h-1zM1316 374h2v1h-2zM655 375h1v1h-1zM1103 375h1v1h-1zM1318 375h3v1h-3zM656 376h1v1h-1zM1102 376h1v1h-1zM1321 376h3v1h-3zM656 377h1v1h-1zM1101 377h1v1h-1zM1324 377h2v1h-2zM657 378h1v1h-1zM1100 378h1v1h-1zM1326 378h3v1h-3zM658 379h1v1h-1zM1099 379h1v1h-1zM1329 379h3v1h-3zM659 380h1v1h-1zM1098 380h1v1h-1zM1332 380h2v1h-2zM660 381h1v1h-1zM1097 381h1v1h-1zM1334 381h3v1h-3zM661 382h1v1h-1zM1096 382h1v1h-1zM1337 382h3v1h-3zM662 383h2v1h-2zM1095 383h1v1h-1zM1340 383h3v1h-3zM664 384h1v1h-1zM1094 384h1v1h-1zM1343 384h3v1h-3zM665 385h1v1h-1zM1093 385h1v1h-1zM1346 385h3v1h-3zM666 386h2v1h-2zM1092 386h1v1h-1zM1349 386h2v1h-2zM668 387h1v1h-1zM1091 387h1v1h-1zM1351 387h2v1h-2zM669 388h1v1h-1zM1090 388h1v1h-1zM1353 388h2v1h-2zM670 389h2v1h-2zM1089 389h1v1h-1zM1355 389h2v1h-2zM672 390h1v1h-1zM1088 390h1v1h-1zM1357 390h2v1h-2zM673 391h1v1h-1zM1087 391h1v1h-1zM1359 391h2v1h-2zM674 392h2v1h-2zM1086 392h1v1h-1zM1361 392h2v1h-2zM676 393h1v1h-1zM1084 393h2v1h-2zM1363 393h2v1h-2zM677 394h1v1h-1zM1083 394h1v1h-1zM1365 394h2v1h-2zM678 395h1v1h-1zM1082 395h1v1h-1zM1367 395h1v1h-1zM679 396h1v1h-1zM1081 396h1v1h-1zM1368 396h2v1h-2zM680 397h1v1h-1zM1080 397h1v1h-1zM1370 397h2v1h-2zM680 398h1v1h-1zM1079 398h1v1h-1zM1372 398h2v1h-2zM681 399h1v1h-1zM1078 399h1v1h-1zM1374 399h1v1h-1zM682 400h1v1h-1zM1077 400h1v1h-1zM1375 400h2v1h-2zM683 401h1v1h-1zM1075 401h2v1h-2zM1377 401h1v1h-1zM684 402h1v1h-1zM1074 402h1v1h-1zM1378 402h2v1h-2zM685 403h1v1h-1zM1073 403h1v1h-1zM1380 403h2v1h-2zM686 404h1v1h-1zM1072 404h1v1h-1zM1382 404h1v1h-1zM687 405h1v1h-1zM1070 405h2v1h-2zM1383 405h2v1h-2zM688 406h1v1h-1zM1069 406h1v1h-1zM1385 406h1v1h-1zM688 407h1v1h-1zM1068 407h1v1h-1zM1386 407h1v1h-1zM689 408h1v1h-1zM1067 408h1v1h-1zM1387 408h2v1h-2zM690 409h1v1h-1zM1066 409h1v1h-1zM1389 409h1v1h-1zM691 410h1v1h-1zM1064 410h2v1h-2zM1390 410h2v1h-2zM692 411h1v1h-1zM1063 411h1v1h-1zM1392 411h1v1h-1zM693 412h1v1h-1zM1062 412h1v1h-1zM1393 412h1v1h-1zM693 413h1v1h-1zM1060 413h2v1h-2zM1394 413h2v1h-2zM694 414h1v1h-1zM1058 414h2v1h-2zM1396 414h1v1h-1zM695 415h1v1h-1zM1057 415h1v1h-1zM696 416h1v1h-1zM1055 416h2v1h-2zM696 417h1v1h-1zM1053 417h2v1h-2zM697 418h1v1h-1zM1052 418h1v1h-1zM698 419h1v1h-1zM1050 419h2v1h-2zM699 420h1v1h-1zM1049 420h1v1h-1zM699 421h1v1h-1zM1048 421h1v1h-1zM700 422h1v1h-1zM1046 422h2v1h-2zM701 423h1v1h-1zM1045 423h1v1h-1zM701 424h1v1h-1zM1044 424h1v1h-1zM702 425h1v1h-1zM1042 425h2v1h-2zM703 426h1v1h-1zM1041 426h1v1h-1zM704 427h1v1h-1zM1040 427h1v1h-1zM704 428h1v1h-1zM1038 428h2v1h-2zM705 429h1v1h-1zM1037 429h1v1h-1zM706 430h1v1h-1zM1036 430h1v1h-1zM707 431h1v1h-1zM1034 431h2v1h-2zM707 432h1v1h-1zM1033 432h1v1h-1zM708 433h1v1h-1zM1032 433h1v1h-1zM709 434h1v1h-1zM1030 434h2v1h-2zM710 435h1v1h-1zM1029 435h1v1h-1zM710 436h1v1h-1zM1028 436h1v1h-1zM711 437h1v1h-1zM1026 437h2v1h-2zM712 438h1v1h-1zM1025 438h1v1h-1zM713 439h1v1h-1zM1024 439h1v1h-1zM714 440h1v1h-1zM1022 440h2v1h-2zM714 441h1v1h-1zM1021 441h1v1h-1zM715 442h1v1h-1zM1020 442h1v1h-1zM716 443h1v1h-1zM1018 443h2v1h-2zM717 444h1v1h-1zM1017 444h1v1h-1zM718 445h1v1h-1zM1016 445h1v1h-1zM718 446h1v1h-1zM1014 446h2v1h-2zM719 447h1v1h-1zM1013 447h1v1h-1zM720 448h1v1h-1zM1012 448h1v1h-1zM721 449h1v1h-1zM1011 449h1v1h-1zM722 450h1v1h-1zM1010 450h1v1h-1zM722 451h1v1h-1zM1009 451h1v1h-1zM723 452h1v1h-1zM1009 452h1v1h-1zM724 453h1v1h-1zM1008 453h1v1h-1zM725 454h1v1h-1zM1007 454h1v1h-1zM726 455h1v1h-1zM1006 455h1v1h-1zM727 456h1v1h-1zM1005 456h1v1h-1zM728 457h1v1h-1zM1004 457h1v1h-1zM729 458h1v1h-1zM1003 458h1v1h-1zM730 459h1v1h-1zM1003 459h1v1h-1zM731 460h1v1h-1zM1002 460h1v1h-1zM731 461h1v1h-1zM1001 461h1v1h-1zM732 462h1v1h-1zM1000 462h1v1h-1zM733 463h1v1h-1zM999 463h1v1h-1zM734 464h1v1h-1zM998 464h1v1h-1zM735 465h1v1h-1zM997 465h1v1h-1zM736 466h1v1h-1zM997 466h1v1h-1zM737 467h1v1h-1zM996 467h1v1h-1zM738 468h1v1h-1zM995 468h1v1h-1zM739 469h1v1h-1zM994 469h1v1h-1zM740 470h1v1h-1zM993 470h1v1h-1zM741 471h1v1h-1zM992 471h1v1h-1zM742 472h1v1h-1zM991 472h1v1h-1zM743 473h1v1h-1zM991 473h1v1h-1zM744 474h1v1h-1zM990 474h1v1h-1zM745 475h1v1h-1zM989 475h1v1h-1zM746 476h1v1h-1zM988 476h1v1h-1zM747 477h1v1h-1zM986 477h2v1h-2zM748 478h1v1h-1zM984 478h2v1h-2zM749 479h1v1h-1zM983 479h1v1h-1zM750 480h1v1h-1zM981 480h2v1h-2zM751 481h2v1h-2zM980 481h1v1h-1zM753 482h1v1h-1zM978 482h2v1h-2zM754 483h1v1h-1zM976 483h2v1h-2zM755 484h2v1h-2zM975 484h1v1h-1zM757 485h1v1h-1zM973 485h2v1h-2zM758 486h2v1h-2zM971 486h2v1h-2zM760 487h5v1h-5zM969 487h2v1h-2zM765 488h10v1h-10zM967 488h2v1h-2zM775 489h9v1h-9zM965 489h2v1h-2zM784 490h6v1h-6zM963 490h2v1h-2zM790 491h7v1h-7zM961 491h2v1h-2zM797 492h5v1h-5zM959 492h2v1h-2zM802 493h2v1h-2zM957 493h2v1h-2zM804 494h3v1h-3zM910 494h4v1h-4zM954 494h3v1h-3zM807 495h2v1h-2zM906 495h4v1h-4zM914 495h4v1h-4zM952 495h2v1h-2zM809 496h3v1h-3zM902 496h4v1h-4zM918 496h4v1h-4zM950 496h2v1h-2zM812 497h2v1h-2zM898 497h4v1h-4zM922 497h5v1h-5zM945 497h5v1h-5zM814 498h3v1h-3zM895 498h3v1h-3zM927 498h6v1h-6zM939 498h6v1h-6zM817 499h2v1h-2zM893 499h2v1h-2zM933 499h6v1h-6zM819 500h2v1h-2zM891 500h2v1h-2zM821 501h2v1h-2zM889 501h2v1h-2zM823 502h2v1h-2zM887 502h2v1h-2zM825 503h2v1h-2zM885 503h2v1h-2zM827 504h2v1h-2zM883 504h2v1h-2zM829 505h1v1h-1zM881 505h2v1h-2zM830 506h2v1h-2zM879 506h2v1h-2zM832 507h2v1h-2zM876 507h3v1h-3zM834 508h2v1h-2zM874 508h2v1h-2zM836 509h2v1h-2zM872 509h2v1h-2zM838 510h2v1h-2zM869 510h3v1h-3zM840 511h2v1h-2zM865 511h4v1h-4zM842 512h3v1h-3zM861 512h4v1h-4zM845 513h3v1h-3zM858 513h3v1h-3zM848 514h3v1h-3zM854 514h4v1h-4zM851 515h3v1h-3z" fill="#24a95e"/>
<path d="M4 100h1v1h-1zM5 101h2v1h-2zM7 102h1v1h-1zM8 103h1v1h-1zM9 104h2v1h-2zM11 105h1v1h-1zM12 106h2v1h-2zM14 107h1v1h-1zM15 108h1v1h-1zM16 109h2v1h-2zM18 110h1v1h-1zM19 111h2v1h-2zM21 112h1v1h-1zM22 113h1v1h-1zM23 114h2v1h-2zM25 115h1v1h-1zM26 116h2v1h-2zM28 117h2v1h-2zM119 117h6v1h-6zM30 118h1v1h-1zM115 118h4v1h-4zM125 118h2v1h-2zM31 119h2v1h-2zM111 119h4v1h-4zM127 119h1v1h-1zM33 120h1v1h-1zM109 120h2v1h-2zM128 120h2v1h-2zM34 121h2v1h-2zM107 121h2v1h-2zM130 121h2v1h-2zM36 122h2v1h-2zM105 122h2v1h-2zM132 122h1v1h-1zM38 123h1v1h-1zM103 123h2v1h-2zM133 123h1v1h-1zM39 124h2v1h-2zM102 124h1v1h-1zM134 124h1v1h-1zM41 125h1v1h-1zM100 125h2v1h-2zM135 125h1v1h-1zM42 126h2v1h-2zM98 126h2v1h-2zM136 126h1v1h-1zM44 127h1v1h-1zM95 127h3v1h-3zM137 127h1v1h-1zM45 128h1v1h-1zM91 128h4v1h-4zM138 128h1v1h-1zM46 129h2v1h-2zM87 129h4v1h-4zM139 129h1v1h-1zM48 130h1v1h-1zM83 130h4v1h-4zM140 130h1v1h-1zM49 131h2v1h-2zM79 131h4v1h-4zM141 131h1v1h-1zM51 132h5v1h-5zM69 132h10v1h-10zM142 132h1v1h-1zM56 133h13v1h-13zM143 133h1v1h-1zM144 134h1v1h-1zM145 135h1v1h-1zM146 136h1v1h-1zM147 137h1v1h-1zM148 138h1v1h-1zM149 139h1v1h-1zM150 140h1v1h-1zM151 141h1v1h-1zM152 142h1v1h-1zM152 143h1v1h-1zM153 144h1v1h-1zM154 145h1v1h-1zM155 146h1v1h-1zM155 147h1v1h-1zM156 148h1v1h-1zM157 149h1v1h-1zM158 150h1v1h-1zM158 151h1v1h-1zM159 152h1v1h-1zM160 153h1v1h-1zM160 154h1v1h-1zM161 155h1v1h-1zM161 156h1v1h-1zM162 157h1v1h-1zM162 158h1v1h-1zM163 159h1v1h-1zM163 160h1v1h-1zM164 161h1v1h-1zM164 162h1v1h-1zM165 163h1v1h-1zM165 164h1v1h-1zM166 165h1v1h-1zM166 166h1v1h-1zM167 167h1v1h-1zM167 168h1v1h-1zM168 169h1v1h-1zM168 170h1v1h-1zM169 171h1v1h-1zM169 172h1v1h-1zM170 173h1v1h-1zM171 174h1v1h-1zM171 175h1v1h-1zM172 176h1v1h-1zM172 177h1v1h-1zM173 178h1v1h-1zM174 179h1v1h-1zM174 180h1v1h-1zM175 181h1v1h-1zM176 182h1v1h-1zM176 183h1v1h-1zM177 184h1v1h-1zM177 185h1v1h-1zM178 186h1v1h-1zM179 187h1v1h-1zM179 188h1v1h-1zM180 189h1v1h-1zM180 190h1v1h-1zM181 191h1v1h-1zM181 192h1v1h-1zM182 193h1v1h-1zM182 194h1v1h-1zM183 195h1v1h-1zM183 196h1v1h-1zM184 197h1v1h-1zM184 198h1v1h-1zM184 199h1v1h-1zM185 200h1v1h-1zM185 201h1v1h-1zM363 201h3v1h-3zM186 202h1v1h-1zM361 202h2v1h-2zM366 202h4v1h-4zM186 203h1v1h-1zM359 203h2v1h-2zM370 203h4v1h-4zM187 204h1v1h-1zM357 204h2v1h-2zM374 204h4v1h-4zM187 205h1v1h-1zM355 205h2v1h-2zM378 205h4v1h-4zM188 206h1v1h-1zM353 206h2v1h-2zM382 206h4v1h-4zM188 207h1v1h-1zM352 207h1v1h-1zM386 207h4v1h-4zM189 208h1v1h-1zM351 208h1v1h-1zM390 208h4v1h-4zM189 209h1v1h-1zM350 209h1v1h-1zM394 209h3v1h-3zM190 210h1v1h-1zM349 210h1v1h-1zM397 210h2v1h-2zM190 211h1v1h-1zM348 211h1v1h-1zM399 211h2v1h-2zM191 212h1v1h-1zM347 212h1v1h-1zM401 212h2v1h-2zM191 213h1v1h-1zM346 213h1v1h-1zM403 213h2v1h-2zM192 214h1v1h-1zM345 214h1v1h-1zM405 214h1v1h-1zM192 215h1v1h-1zM344 215h1v1h-1zM406 215h1v1h-1zM193 216h1v1h-1zM343 216h1v1h-1zM407 216h1v1h-1zM193 217h1v1h-1zM342 217h1v1h-1zM408 217h1v1h-1zM194 218h1v1h-1zM341 218h1v1h-1zM409 218h1v1h-1zM194 219h1v1h-1zM338 219h3v1h-3zM410 219h1v1h-1zM195 220h1v1h-1zM334 220h4v1h-4zM411 220h1v1h-1zM195 221h1v1h-1zM330 221h4v1h-4zM412 221h1v1h-1zM196 222h1v1h-1zM321 222h9v1h-9zM413 222h1v1h-1zM196 223h1v1h-1zM307 223h14v1h-14zM414 223h1v1h-1zM197 224h1v1h-1zM296 224h11v1h-11zM415 224h1v1h-1zM198 225h1v1h-1zM286 225h10v1h-10zM416 225h1v1h-1zM199 226h1v1h-1zM277 226h9v1h-9zM417 226h1v1h-1zM200 227h2v1h-2zM271 227h6v1h-6zM418 227h1v1h-1zM202 228h1v1h-1zM269 228h2v1h-2zM419 228h1v1h-1zM203 229h1v1h-1zM266 229h3v1h-3zM420 229h1v1h-1zM204 230h1v1h-1zM264 230h2v1h-2zM421 230h1v1h-1zM205 231h2v1h-2zM261 231h3v1h-3zM422 231h1v1h-1zM207 232h4v1h-4zM259 232h2v1h-2zM423 232h1v1h-1zM211 233h4v1h-4zM256 233h3v1h-3zM424 233h1v1h-1zM215 234h4v1h-4zM254 234h2v1h-2zM425 234h1v1h-1zM219 235h3v1h-3zM251 235h3v1h-3zM426 235h1v1h-1zM222 236h2v1h-2zM248 236h3v1h-3zM427 236h1v1h-1zM224 237h3v1h-3zM246 237h2v1h-2zM428 237h1v1h-1zM227 238h3v1h-3zM243 238h3v1h-3zM429 238h1v1h-1zM230 239h2v1h-2zM240 239h3v1h-3zM430 239h1v1h-1zM232 240h3v1h-3zM238 240h2v1h-2zM431 240h1v1h-1zM235 241h3v1h-3zM432 241h1v1h-1zM433 242h2v1h-2zM435 243h1v1h-1zM436 244h1v1h-1zM437 245h1v1h-1zM437 246h1v1h-1zM438 247h1v1h-1zM438 248h1v1h-1zM439 249h1v1h-1zM439 250h1v1h-1zM440 251h1v1h-1zM440 252h1v1h-1zM441 253h1v1h-1zM442 254h1v1h-1zM442 255h1v1h-1zM443 256h1v1h-1zM443 257h1v1h-1zM444 258h1v1h-1zM444 259h1v1h-1zM445 260h1v1h-1zM445 261h1v1h-1zM446 262h1v1h-1zM446 263h1v1h-1zM447 264h1v1h-1zM447 265h1v1h-1zM448 266h1v1h-1zM448 267h1v1h-1zM448 268h1v1h-1zM449 269h1v1h-1zM449 270h1v1h-1zM449 271h1v1h-1zM450 272h1v1h-1zM450 273h1v1h-1zM451 274h1v1h-1zM451 275h1v1h-1zM451 276h1v1h-1zM452 277h1v1h-1zM452 278h1v1h-1zM453 279h1v1h-1zM453 280h1v1h-1zM453 281h1v1h-1zM454 282h1v1h-1zM454 283h1v1h-1zM454 284h1v1h-1zM455 285h1v1h-1zM455 286h1v1h-1zM456 287h1v1h-1zM456 288h1v1h-1zM456 289h1v1h-1zM457 290h1v1h-1zM457 291h1v1h-1zM457 292h1v1h-1zM458 293h1v1h-1zM458 294h1v1h-1zM458 295h1v1h-1zM458 296h1v1h-1zM459 297h1v1h-1zM459 298h1v1h-1zM459 299h1v1h-1zM460 300h1v1h-1zM460 301h1v1h-1zM460 302h1v1h-1zM461 303h1v1h-1zM461 304h1v1h-1zM461 305h1v1h-1zM462 306h1v1h-1zM462 307h1v1h-1zM462 308h1v1h-1zM462 309h1v1h-1zM463 310h1v1h-1zM463 311h1v1h-1zM463 312h1v1h-1zM464 313h1v1h-1zM464 314h1v1h-1zM464 315h1v1h-1zM465 316h1v1h-1zM465 317h1v1h-1zM466 318h1v1h-1zM466 319h1v1h-1zM467 320h1v1h-1zM467 321h1v1h-1zM468 322h1v1h-1zM468 323h1v1h-1zM468 324h1v1h-1zM469 325h1v1h-1zM469 326h1v1h-1zM470 327h1v1h-1zM470 328h1v1h-1zM471 329h1v1h-1zM471 330h1v1h-1zM472 331h1v1h-1zM472 332h1v1h-1zM472 333h1v1h-1zM473 334h1v1h-1zM473 335h1v1h-1zM473 336h1v1h-1zM474 337h1v1h-1zM474 338h1v1h-1zM475 339h1v1h-1zM475 340h1v1h-1zM475 341h1v1h-1zM476 342h1v1h-1zM476 343h1v1h-1zM476 344h1v1h-1zM477 345h1v1h-1zM477 346h1v1h-1zM477 347h1v1h-1zM478 348h1v1h-1zM478 349h1v1h-1zM479 350h1v1h-1zM479 351h1v1h-1zM479 352h1v1h-1zM480 353h1v1h-1zM480 354h1v1h-1zM481 355h1v1h-1zM481 356h1v1h-1zM482 357h1v1h-1zM483 358h1v1h-1zM483 359h1v1h-1zM484 360h1v1h-1zM485 361h1v1h-1zM485 362h1v1h-1zM486 363h1v1h-1zM487 364h1v1h-1zM488 365h2v1h-2zM490 366h1v1h-1zM555 366h13v1h-13zM491 367h1v1h-1zM553 367h2v1h-2zM568 367h3v1h-3zM492 368h2v1h-2zM506 368h3v1h-3zM550 368h3v1h-3zM571 368h4v1h-4zM494 369h3v1h-3zM502 369h4v1h-4zM509 369h2v1h-2zM548 369h2v1h-2zM575 369h5v1h-5zM497 370h5v1h-5zM511 370h2v1h-2zM546 370h2v1h-2zM580 370h6v1h-6zM513 371h2v1h-2zM536 371h10v1h-10zM586 371h4v1h-4zM515 372h21v1h-21zM590 372h1v1h-1zM590 373h1v1h-1zM591 374h1v1h-1zM592 375h1v1h-1zM593 376h1v1h-1zM593 377h1v1h-1zM594 378h1v1h-1zM1146 378h6v1h-6zM1203 378h41v1h-41zM595 379h1v1h-1zM1141 379h5v1h-5zM1152 379h3v1h-3zM1197 379h6v1h-6zM1244 379h18v1h-18zM595 380h1v1h-1zM1140 380h1v1h-1zM1155 380h4v1h-4zM1194 380h3v1h-3zM1262 380h5v1h-5zM596 381h1v1h-1zM1140 381h1v1h-1zM1159 381h5v1h-5zM1192 381h2v1h-2zM1267 381h1v1h-1zM596 382h1v1h-1zM1139 382h1v1h-1zM1164 382h7v1h-7zM1182 382h10v1h-10zM1268 382h1v1h-1zM597 383h1v1h-1zM1139 383h1v1h-1zM1171 383h11v1h-11zM1268 383h1v1h-1zM598 384h1v1h-1zM1138 384h1v1h-1zM1269 384h1v1h-1zM598 385h1v1h-1zM1138 385h1v1h-1zM1270 385h1v1h-1zM599 386h1v1h-1zM1137 386h1v1h-1zM1271 386h1v1h-1zM599 387h1v1h-1zM1137 387h1v1h-1zM1271 387h1v1h-1zM600 388h1v1h-1zM1137 388h1v1h-1zM1272 388h1v1h-1zM601 389h1v1h-1zM1136 389h1v1h-1zM1272 389h1v1h-1zM601 390h1v1h-1zM1136 390h1v1h-1zM1273 390h1v1h-1zM602 391h1v1h-1zM1135 391h1v1h-1zM1273 391h1v1h-1zM602 392h1v1h-1zM1135 392h1v1h-1zM1274 392h1v1h-1zM603 393h1v1h-1zM1135 393h1v1h-1zM1274 393h1v1h-1zM603 394h1v1h-1zM1134 394h1v1h-1zM1275 394h1v1h-1zM604 395h1v1h-1zM1134 395h1v1h-1zM1275 395h1v1h-1zM604 396h1v1h-1zM1134 396h1v1h-1zM1275 396h1v1h-1zM605 397h1v1h-1zM1133 397h1v1h-1zM1276 397h1v1h-1zM605 398h1v1h-1zM1133 398h1v1h-1zM1276 398h1v1h-1zM605 399h1v1h-1zM1133 399h1v1h-1zM1277 399h1v1h-1zM606 400h1v1h-1zM1132 400h1v1h-1zM1277 400h1v1h-1zM606 401h1v1h-1zM1132 401h1v1h-1zM1278 401h1v1h-1zM606 402h1v1h-1zM1131 402h1v1h-1zM1278 402h1v1h-1zM607 403h1v1h-1zM1131 403h1v1h-1zM1278 403h1v1h-1zM607 404h1v1h-1zM1131 404h1v1h-1zM1279 404h1v1h-1zM607 405h1v1h-1zM1130 405h1v1h-1zM1279 405h1v1h-1zM608 406h1v1h-1zM1130 406h1v1h-1zM1280 406h1v1h-1zM608 407h1v1h-1zM1130 407h1v1h-1zM1280 407h1v1h-1zM608 408h1v1h-1zM1129 408h1v1h-1zM1280 408h1v1h-1zM609 409h1v1h-1zM1129 409h1v1h-1zM1281 409h1v1h-1zM609 410h1v1h-1zM1129 410h1v1h-1zM1281 410h1v1h-1zM609 411h1v1h-1zM1128 411h1v1h-1zM1281 411h1v1h-1zM610 412h1v1h-1zM1128 412h1v1h-1zM1282 412h1v1h-1zM610 413h1v1h-1zM1128 413h1v1h-1zM1282 413h1v1h-1zM610 414h1v1h-1zM1127 414h1v1h-1zM1283 414h1v1h-1zM610 415h1v1h-1zM1127 415h1v1h-1zM1283 415h1v1h-1zM611 416h1v1h-1zM1127 416h1v1h-1zM1283 416h1v1h-1zM611 417h1v1h-1zM1126 417h1v1h-1zM1284 417h1v1h-1zM611 418h1v1h-1zM1126 418h1v1h-1zM1284 418h1v1h-1zM612 419h1v1h-1zM1126 419h1v1h-1zM1285 419h1v1h-1zM612 420h1v1h-1zM1125 420h1v1h-1zM1286 420h1v1h-1zM612 421h1v1h-1zM1125 421h1v1h-1zM1287 421h1v1h-1zM613 422h1v1h-1zM1125 422h1v1h-1zM1287 422h1v1h-1zM613 423h1v1h-1zM1124 423h1v1h-1zM1288 423h1v1h-1zM613 424h1v1h-1zM1124 424h1v1h-1zM1289 424h1v1h-1zM613 425h1v1h-1zM1124 425h1v1h-1zM1290 425h1v1h-1zM614 426h1v1h-1zM1123 426h1v1h-1zM1291 426h1v1h-1zM614 427h1v1h-1zM1123 427h1v1h-1zM1292 427h1v1h-1zM614 428h1v1h-1zM1122 428h1v1h-1zM1292 428h1v1h-1zM615 429h1v1h-1zM1122 429h1v1h-1zM1293 429h1v1h-1zM615 430h1v1h-1zM1122 430h1v1h-1zM1294 430h1v1h-1zM615 431h1v1h-1zM1121 431h1v1h-1zM1295 431h2v1h-2zM615 432h1v1h-1zM1121 432h1v1h-1zM1297 432h1v1h-1zM616 433h1v1h-1zM1120 433h1v1h-1zM1298 433h2v1h-2zM616 434h1v1h-1zM1120 434h1v1h-1zM1300 434h1v1h-1zM616 435h1v1h-1zM1120 435h1v1h-1zM1301 435h2v1h-2zM617 436h1v1h-1zM1119 436h1v1h-1zM1303 436h1v1h-1zM617 437h1v1h-1zM1119 437h1v1h-1zM1304 437h2v1h-2zM617 438h1v1h-1zM1118 438h1v1h-1zM1306 438h1v1h-1zM617 439h1v1h-1zM1118 439h1v1h-1zM1307 439h2v1h-2zM618 440h1v1h-1zM1118 440h1v1h-1zM1309 440h1v1h-1zM618 441h1v1h-1zM1117 441h1v1h-1zM1310 441h2v1h-2zM618 442h1v1h-1zM1117 442h1v1h-1zM1312 442h1v1h-1zM619 443h1v1h-1zM1116 443h1v1h-1zM1313 443h2v1h-2zM619 444h1v1h-1zM1116 444h1v1h-1zM1315 444h1v1h-1zM619 445h1v1h-1zM1116 445h1v1h-1zM1316 445h2v1h-2zM619 446h1v1h-1zM1115 446h1v1h-1zM1318 446h1v1h-1zM620 447h1v1h-1zM1115 447h1v1h-1zM1319 447h2v1h-2zM620 448h1v1h-1zM1114 448h1v1h-1zM1321 448h1v1h-1zM620 449h1v1h-1zM1114 449h1v1h-1zM1322 449h2v1h-2zM621 450h1v1h-1zM1113 450h1v1h-1zM1324 450h1v1h-1zM621 451h1v1h-1zM1113 451h1v1h-1zM1325 451h2v1h-2zM621 452h1v1h-1zM1112 452h1v1h-1zM1327 452h1v1h-1zM621 453h1v1h-1zM1112 453h1v1h-1zM1328 453h2v1h-2zM622 454h1v1h-1zM1111 454h1v1h-1zM1330 454h2v1h-2zM622 455h1v1h-1zM1111 455h1v1h-1zM1332 455h2v1h-2zM622 456h1v1h-1zM1110 456h1v1h-1zM1334 456h2v1h-2zM623 457h1v1h-1zM1110 457h1v1h-1zM1336 457h3v1h-3zM623 458h1v1h-1zM1109 458h1v1h-1zM1339 458h2v1h-2zM623 459h1v1h-1zM1109 459h1v1h-1zM1341 459h3v1h-3zM623 460h1v1h-1zM1108 460h1v1h-1zM1344 460h4v1h-4zM624 461h1v1h-1zM1108 461h1v1h-1zM1348 461h4v1h-4zM624 462h1v1h-1zM1107 462h1v1h-1zM1352 462h5v1h-5zM1375 462h6v1h-6zM624 463h1v1h-1zM1107 463h1v1h-1zM1357 463h6v1h-6zM1369 463h6v1h-6zM1381 463h6v1h-6zM1393 463h4v1h-4zM625 464h1v1h-1zM1106 464h1v1h-1zM1363 464h6v1h-6zM1387 464h6v1h-6zM625 465h1v1h-1zM1105 465h1v1h-1zM625 466h1v1h-1zM1105 466h1v1h-1zM625 467h1v1h-1zM1104 467h1v1h-1zM626 468h1v1h-1zM1104 468h1v1h-1zM626 469h1v1h-1zM1103 469h1v1h-1zM626 470h1v1h-1zM1102 470h1v1h-1zM626 471h1v1h-1zM1102 471h1v1h-1zM627 472h1v1h-1zM1101 472h1v1h-1zM627 473h1v1h-1zM1101 473h1v1h-1zM627 474h1v1h-1zM1100 474h1v1h-1zM627 475h1v1h-1zM1099 475h1v1h-1zM628 476h1v1h-1zM1099 476h1v1h-1zM628 477h1v1h-1zM1098 477h1v1h-1zM628 478h1v1h-1zM1098 478h1v1h-1zM628 479h1v1h-1zM1097 479h1v1h-1zM629 480h1v1h-1zM1096 480h1v1h-1zM629 481h1v1h-1zM1096 481h1v1h-1zM629 482h1v1h-1zM1095 482h1v1h-1zM629 483h1v1h-1zM1095 483h1v1h-1zM630 484h1v1h-1zM1094 484h1v1h-1zM630 485h1v1h-1zM1094 485h1v1h-1zM630 486h1v1h-1zM1093 486h1v1h-1zM630 487h1v1h-1zM1093 487h1v1h-1zM631 488h1v1h-1zM1093 488h1v1h-1zM631 489h1v1h-1zM1092 489h1v1h-1zM631 490h1v1h-1zM1092 490h1v1h-1zM632 491h1v1h-1zM1091 491h1v1h-1zM632 492h1v1h-1zM1091 492h1v1h-1zM632 493h1v1h-1zM1091 493h1v1h-1zM632 494h1v1h-1zM1090 494h1v1h-1zM633 495h1v1h-1zM1090 495h1v1h-1zM633 496h1v1h-1zM1090 496h1v1h-1zM633 497h1v1h-1zM1089 497h1v1h-1zM634 498h1v1h-1zM1089 498h1v1h-1zM634 499h1v1h-1zM1088 499h1v1h-1zM634 500h1v1h-1zM1088 500h1v1h-1zM635 501h1v1h-1zM1088 501h1v1h-1zM635 502h1v1h-1zM1087 502h1v1h-1zM635 503h1v1h-1zM1087 503h1v1h-1zM636 504h1v1h-1zM1087 504h1v1h-1zM636 505h1v1h-1zM1086 505h1v1h-1zM636 506h1v1h-1zM1086 506h1v1h-1zM636 507h1v1h-1zM1085 507h1v1h-1zM637 508h1v1h-1zM1085 508h1v1h-1zM637 509h1v1h-1zM1085 509h1v1h-1zM637 510h1v1h-1zM1084 510h1v1h-1zM638 511h1v1h-1zM1084 511h1v1h-1zM638 512h1v1h-1zM1084 512h1v1h-1zM638 513h1v1h-1zM1083 513h1v1h-1zM639 514h1v1h-1zM1083 514h1v1h-1zM639 515h1v1h-1zM1082 515h1v1h-1zM640 516h1v1h-1zM1082 516h1v1h-1zM640 517h1v1h-1zM1082 517h1v1h-1zM641 518h1v1h-1zM1081 518h1v1h-1zM641 519h1v1h-1zM1081 519h1v1h-1zM641 520h1v1h-1zM1081 520h1v1h-1zM642 521h1v1h-1zM1080 521h1v1h-1zM642 522h1v1h-1zM1080 522h1v1h-1zM643 523h1v1h-1zM1079 523h1v1h-1zM643 524h1v1h-1zM1079 524h1v1h-1zM644 525h1v1h-1zM1079 525h1v1h-1zM644 526h1v1h-1zM1078 526h1v1h-1zM645 527h1v1h-1zM1078 527h1v1h-1zM646 528h1v1h-1zM1078 528h1v1h-1zM647 529h1v1h-1zM1077 529h1v1h-1zM647 530h1v1h-1zM1077 530h1v1h-1zM648 531h1v1h-1zM1076 531h1v1h-1zM649 532h1v1h-1zM1076 532h1v1h-1zM650 533h1v1h-1zM1075 533h1v1h-1zM651 534h1v1h-1zM1074 534h1v1h-1zM652 535h1v1h-1zM1074 535h1v1h-1zM652 536h1v1h-1zM1073 536h1v1h-1zM653 537h1v1h-1zM1072 537h1v1h-1zM654 538h1v1h-1zM1071 538h1v1h-1zM655 539h1v1h-1zM1070 539h1v1h-1zM656 540h1v1h-1zM981 540h1v1h-1zM1070 540h1v1h-1zM657 541h2v1h-2zM979 541h2v1h-2zM982 541h1v1h-1zM1069 541h1v1h-1zM659 542h1v1h-1zM977 542h2v1h-2zM982 542h1v1h-1zM1068 542h1v1h-1zM660 543h2v1h-2zM975 543h2v1h-2zM983 543h1v1h-1zM1066 543h2v1h-2zM662 544h3v1h-3zM974 544h1v1h-1zM983 544h1v1h-1zM1065 544h1v1h-1zM665 545h4v1h-4zM973 545h1v1h-1zM984 545h1v1h-1zM1045 545h2v1h-2zM1064 545h1v1h-1zM669 546h3v1h-3zM972 546h1v1h-1zM985 546h1v1h-1zM1043 546h2v1h-2zM1047 546h2v1h-2zM1062 546h2v1h-2zM672 547h4v1h-4zM971 547h1v1h-1zM985 547h1v1h-1zM1042 547h1v1h-1zM1049 547h2v1h-2zM1061 547h1v1h-1zM676 548h3v1h-3zM970 548h1v1h-1zM986 548h1v1h-1zM1041 548h1v1h-1zM1051 548h10v1h-10zM679 549h4v1h-4zM969 549h1v1h-1zM986 549h1v1h-1zM1039 549h2v1h-2zM683 550h10v1h-10zM968 550h1v1h-1zM987 550h1v1h-1zM1037 550h2v1h-2zM693 551h1v1h-1zM967 551h1v1h-1zM987 551h1v1h-1zM993 551h7v1h-7zM1035 551h2v1h-2zM694 552h1v1h-1zM966 552h1v1h-1zM988 552h5v1h-5zM1000 552h3v1h-3zM1033 552h2v1h-2zM695 553h1v1h-1zM964 553h2v1h-2zM1003 553h4v1h-4zM1031 553h2v1h-2zM696 554h1v1h-1zM883 554h2v1h-2zM963 554h1v1h-1zM1007 554h4v1h-4zM1029 554h2v1h-2zM696 555h1v1h-1zM881 555h2v1h-2zM885 555h2v1h-2zM961 555h2v1h-2zM1011 555h6v1h-6zM1024 555h5v1h-5zM697 556h1v1h-1zM776 556h7v1h-7zM878 556h3v1h-3zM887 556h2v1h-2zM960 556h1v1h-1zM1017 556h7v1h-7zM698 557h1v1h-1zM768 557h8v1h-8zM783 557h5v1h-5zM876 557h2v1h-2zM889 557h2v1h-2zM959 557h1v1h-1zM699 558h1v1h-1zM763 558h5v1h-5zM788 558h3v1h-3zM872 558h4v1h-4zM891 558h3v1h-3zM957 558h2v1h-2zM700 559h1v1h-1zM761 559h2v1h-2zM791 559h2v1h-2zM867 559h5v1h-5zM894 559h2v1h-2zM914 559h3v1h-3zM956 559h1v1h-1zM701 560h1v1h-1zM759 560h2v1h-2zM793 560h2v1h-2zM863 560h4v1h-4zM896 560h3v1h-3zM909 560h5v1h-5zM917 560h2v1h-2zM955 560h1v1h-1zM702 561h1v1h-1zM756 561h3v1h-3zM795 561h1v1h-1zM857 561h6v1h-6zM899 561h2v1h-2zM905 561h4v1h-4zM919 561h2v1h-2zM954 561h1v1h-1zM703 562h1v1h-1zM754 562h2v1h-2zM796 562h2v1h-2zM850 562h7v1h-7zM901 562h4v1h-4zM921 562h2v1h-2zM952 562h2v1h-2zM704 563h1v1h-1zM752 563h2v1h-2zM798 563h2v1h-2zM844 563h6v1h-6zM923 563h2v1h-2zM951 563h1v1h-1zM705 564h2v1h-2zM750 564h2v1h-2zM800 564h1v1h-1zM840 564h4v1h-4zM925 564h4v1h-4zM950 564h1v1h-1zM707 565h1v1h-1zM749 565h1v1h-1zM801 565h2v1h-2zM838 565h2v1h-2zM929 565h5v1h-5zM949 565h1v1h-1zM708 566h1v1h-1zM747 566h2v1h-2zM803 566h1v1h-1zM836 566h2v1h-2zM934 566h15v1h-15zM709 567h1v1h-1zM746 567h1v1h-1zM804 567h2v1h-2zM835 567h1v1h-1zM710 568h1v1h-1zM745 568h1v1h-1zM806 568h1v1h-1zM833 568h2v1h-2zM711 569h2v1h-2zM744 569h1v1h-1zM807 569h2v1h-2zM831 569h2v1h-2zM713 570h1v1h-1zM742 570h2v1h-2zM809 570h1v1h-1zM829 570h2v1h-2zM714 571h1v1h-1zM741 571h1v1h-1zM810 571h2v1h-2zM827 571h2v1h-2zM715 572h2v1h-2zM740 572h1v1h-1zM812 572h2v1h-2zM824 572h3v1h-3zM717 573h1v1h-1zM739 573h1v1h-1zM814 573h4v1h-4zM822 573h2v1h-2zM718 574h2v1h-2zM738 574h1v1h-1zM818 574h4v1h-4zM720 575h2v1h-2zM737 575h1v1h-1zM722 576h2v1h-2zM736 576h1v1h-1zM724 577h2v1h-2zM735 577h1v1h-1zM726 578h3v1h-3zM734 578h1v1h-1zM729 579h2v1h-2zM733 579h1v1h-1zM731 580h2v1h-2z" fill="#24a95e"/>
<rect x="0" y="358" width="1605" height="1" fill="#ff0000"/>
<rect x="0" y="383" width="1605" height="1" fill="#ff0000"/>
<rect x="0" y="409" width="1605" height="1" fill="#32cd32"/>
<rect x="0" y="433" width="1605" height="1" fill="#c0c0c0"/>
<rect x="0" y="462" width="1605" height="1" fill="#0000ff"/>
<rect x="0" y="488" width="1605" height="1" fill="#0000ff"/>
<rect x="52" y="110" width="1" height="10" fill="#000"/>
<rect x="124" y="115" width="1" height="9" fill="#000"/>
<rect x="122" y="115" width="5" height="1" fill="#000"/>
<rect x="132" y="100" width="1" height="40" fill="#000"/>
<rect x="130" y="100" width="5" height="31" fill="#000"/>
<rect x="140" y="115" width="1" height="31" fill="#000"/>
<rect x="138.5" y="128.5" width="4" height="3" fill="#fff" stroke="#000" stroke-width="1"/>
<rect x="148" y="127" width="1" height="22" fill="#000"/>
<rect x="146" y="129" width="5" height="19" fill="#000"/>
<rect x="156" y="152" width="1" height="15" fill="#000"/>
<rect x="154.5" y="156.5" width="4" height="6" fill="#fff" stroke="#000" stroke-width="1"/>
<rect x="164" y="151" width="1" height="36" fill="#000"/>
<rect x="162" y="157" width="5" height="21" fill="#000"/>
<rect x="172" y="166" width="1" height="39" fill="#000"/>
<rect x="170" y="177" width="5" height="10" fill="#000"/>
<rect x="180" y="181" width="1" height="30" fill="#000"/>
<rect x="178" y="187" width="5" height="21" fill="#000"/>
<rect x="188" y="188" width="1" height="38" fill="#000"/>
<rect x="186" y="207" width="5" height="14" fill="#000"/>
<rect x="196" y="204" width="1" height="22" fill="#000"/>
<rect x="194.5" y="216.5" width="4" height="4" fill="#fff" stroke="#000" stroke-width="1"/>
<rect x="204" y="196" width="1" height="15" fill="#000"/>
<rect x="202.5" y="197.5" width="4" height="9" fill="#fff" stroke="#000" stroke-width="1"/>
<rect x="212" y="141" width="1" height="59" fill="#000"/>
<rect x="210.5" y="151.5" width="4" height="44" fill="#fff" stroke="#000" stroke-width="1"/>
<rect x="220" y="149" width="1" height="35" fill="#000"/>
<rect x="218" y="152" width="5" height="29" fill="#000"/>
<rect x="228" y="180" width="1" height="30" fill="#000"/>
<rect x="226" y="180" width="5" height="11" fill="#000"/>
<rect x="236" y="167" width="1" height="37" fill="#000"/>
<rect x="234.5" y="176.5" width="4" height="14" fill="#fff" stroke="#000" stroke-width="1"/>
<rect x="244" y="159" width="1" height="28" fill="#000"/>
<rect x="242.5" y="162.5" width="4" height="14" fill="#fff" stroke="#000" stroke-width="1"/>
<rect x="252" y="134" width="1" height="16" fill="#000"/>
<rect x="250.5" y="134.5" width="4" height="12" fill="#fff" stroke="#000" stroke-width="1"/>
<rect x="260" y="131" width="1" height="34" fill="#000"/>
<rect x="258" y="136" width="5" height="21" fill="#000"/>
<rect x="268" y="155" width="1" height="33" fill="#000"/>
<rect x="266" y="157" width="5" height="3" fill="#000"/>
<rect x="276" y="157" width="1" height="23" fill="#000"/>
<rect x="274" y="159" width="5" height="19" fill="#000"/>
<rect x="284" y="147" width="1" height="52" fill="#000"/>
<rect x="282" y="178" width="5" height="21" fill="#000"/>
<rect x="292" y="181" width="1" height="29" fill="#000"/>
<rect x="290.5" y="186.5" width="4" height="12" fill="#fff" stroke="#000" stroke-width="1"/>
<rect x="300" y="190" width="1" height="12" fill="#000"/>
<rect x="298" y="192" width="5" height="2" fill="#000"/>
<rect x="308" y="166" width="1" height="30" fill="#000"/>
<rect x="306.5" y="170.5" width="4" height="23" fill="#fff" stroke="#000" stroke-width="1"/>
<rect x="316" y="168" width="1" height="15" fill="#000"/>
<rect x="314" y="170" width="5" height="1" fill="#000"/>
<rect x="324" y="159" width="1" height="21" fill="#000"/>
<rect x="322" y="171" width="5" height="9" fill="#000"/>
<rect x="332" y="157" width="1" height="26" fill="#000"/>
<rect x="330.5" y="158.5" width="4" height="21" fill="#fff" stroke="#000" stroke-width="1"/>
<rect x="340" y="153" width="1" height="11" fill="#000"/>
<rect x="338.5" y="156.5" width="4" height="2" fill="#fff" stroke="#000" stroke-width="1"/>
<rect x="348" y="151" width="1" height="8" fill="#000"/>
<rect x="346.5" y="154.5" width="4" height="3" fill="#fff" stroke="#000" stroke-width="1"/>
<rect x="356" y="155" width="1" height="14" fill="#000"/>
<rect x="354" y="155" width="5" height="11" fill="#000"/>
<rect x="364" y="157" width="1" height="27" fill="#000"/>
<rect x="362" y="165" width="5" height="18" fill="#000"/>
<rect x="372" y="179" width="1" height="16" fill="#000"/>
<rect x="370" y="182" width="5" height="11" fill="#000"/>
<rect x="380" y="184" width="1" height="21" fill="#000"/>
<rect x="378" y="192" width="5" height="8" fill="#000"/>
<rect x="388" y="196" width="1" height="9" fill="#000"/>
<rect x="386" y="199" width="5" height="1" fill="#000"/>
<rect x="396" y="186" width="1" height="11" fill="#000"/>
<rect x="394.5" y="187.5" width="4" height="8" fill="#fff" stroke="#000" stroke-width="1"/>
<rect x="404" y="180" width="1" height="35" fill="#000"/>
<rect x="402" y="186" width="5" height="27" fill="#000"/>
<rect x="412" y="200" width="1" height="39" fill="#000"/>
<rect x="410" y="212" width="5" height="22" fill="#000"/>
<rect x="420" y="227" width="1" height="18" fill="#000"/>
<rect x="418" y="233" width="5" height="9" fill="#000"/>
<rect x="428" y="222" width="1" height="21" fill="#000"/>
<rect x="426.5" y="234.5" width="4" height="7" fill="#fff" stroke="#000" stroke-width="1"/>
<rect x="436" y="232" width="1" height="12" fill="#000"/>
<rect x="434" y="233" width="5" height="10" fill="#000"/>
<rect x="444" y="264" width="1" height="24" fill="#000"/>
<rect x="442.5" y="271.5" width="4" height="8" fill="#fff" stroke="#000" stroke-width="1"/>
<rect x="452" y="262" width="1" height="42" fill="#000"/>
<rect x="450" y="272" width="5" height="18" fill="#000"/>
<rect x="460" y="285" width="1" height="72" fill="#000"/>
<rect x="458" y="289" width="5" height="46" fill="#000"/>
<rect x="468" y="319" width="1" height="53" fill="#000"/>
<rect x="466" y="335" width="5" height="5" fill="#000"/>
<rect x="476" y="316" width="1" height="41" fill="#000"/>
<rect x="474" y="340" width="5" height="3" fill="#000"/>
<rect x="484" y="329" width="1" height="22" fill="#000"/>
<rect x="482" y="342" width="5" height="1" fill="#000"/>
<rect x="492" y="302" width="1" height="29" fill="#000"/>
<rect x="490.5" y="312.5" width="4" height="9" fill="#fff" stroke="#000" stroke-width="1"/>
<rect x="500" y="279" width="1" height="65" fill="#000"/>
<rect x="498.5" y="285.5" width="4" height="23" fill="#fff" stroke="#000" stroke-width="1"/>
<rect x="508" y="262" width="1" height="28" fill="#000"/>
<rect x="506.5" y="272.5" width="4" height="13" fill="#fff" stroke="#000" stroke-width="1"/>
<rect x="516" y="260" width="1" height="66" fill="#000"/>
<rect x="514" y="286" width="5" height="39" fill="#000"/>
<rect x="524" y="291" width="1" height="58" fill="#000"/>
<rect x="522.5" y="292.5" width="4" height="31" fill="#fff" stroke="#000" stroke-width="1"/>
<rect x="532" y="268" width="1" height="30" fill="#000"/>
<rect x="530.5" y="275.5" width="4" height="16" fill="#fff" stroke="#000" stroke-width="1"/>
<rect x="540" y="287" width="1" height="20" fill="#000"/>
<rect x="538" y="293" width="5" height="6" fill="#000"/>
<rect x="548" y="276" width="1" height="37" fill="#000"/>
<rect x="546" y="299" width="5" height="6" fill="#000"/>
<rect x="556" y="299" width="1" height="31" fill="#000"/>
<rect x="554" y="304" width="5" height="10" fill="#000"/>
<rect x="564" y="312" width="1" height="23" fill="#000"/>
<rect x="562" y="313" width="5" height="18" fill="#000"/>
<rect x="572" y="318" width="1" height="28" fill="#000"/>
<rect x="570" y="329" width="5" height="16" fill="#000"/>
<rect x="580" y="334" width="1" height="21" fill="#000"/>
<rect x="578.5" y="340.5" width="4" height="3" fill="#fff" stroke="#000" stroke-width="1"/>
<rect x="588" y="334" width="1" height="24" fill="#000"/>
<rect x="586" y="336" width="5" height="17" fill="#000"/>
<rect x="596" y="338" width="1" height="62" fill="#000"/>
<rect x="594" y="348" width="5" height="49" fill="#000"/>
<rect x="604" y="361" width="1" height="68" fill="#000"/>
<rect x="602" y="396" width="5" height="20" fill="#000"/>
<rect x="612" y="411" width="1" height="72" fill="#000"/>
<rect x="610" y="415" width="5" height="48" fill="#000"/>
<rect x="620" y="439" width="1" height="72" fill="#000"/>
<rect x="618" y="463" width="5" height="26" fill="#000"/>
<rect x="628" y="471" width="1" height="36" fill="#000"/>
<rect x="626" y="487" width="5" height="20" fill="#000"/>
<rect x="636" y="491" width="1" height="23" fill="#000"/>
<rect x="634" y="494" width="5" height="11" fill="#000"/>
<rect x="644" y="466" width="1" height="57" fill="#000"/>
<rect x="642" y="501" width="5" height="1" fill="#000"/>
<rect x="652" y="412" width="1" height="106" fill="#000"/>
<rect x="650.5" y="446.5" width="4" height="57" fill="#fff" stroke="#000" stroke-width="1"/>
<rect x="660" y="392" width="1" height="57" fill="#000"/>
<rect x="658" y="447" width="5" height="2" fill="#000"/>
<rect x="668" y="430" width="1" height="57" fill="#000"/>
<rect x="666.5" y="442.5" width="4" height="5" fill="#fff" stroke="#000" stroke-width="1"/>
<rect x="676" y="405" width="1" height="44" fill="#000"/>
<rect x="674.5" y="414.5" width="4" height="28" fill="#fff" stroke="#000" stroke-width="1"/>
<rect x="684" y="455" width="1" height="35" fill="#000"/>
<rect x="682.5" y="457.5" width="4" height="32" fill="#fff" stroke="#000" stroke-width="1"/>
<rect x="692" y="449" width="1" height="37" fill="#000"/>
<rect x="690" y="455" width="5" height="13" fill="#000"/>
<rect x="700" y="440" width="1" height="91" fill="#000"/>
<rect x="698" y="467" width="5" height="59" fill="#000"/>
<rect x="708" y="517" width="1" height="53" fill="#000"/>
<rect x="706" y="525" width="5" height="1" fill="#000"/>
<rect x="716" y="495" width="1" height="50" fill="#000"/>
<rect x="714" y="526" width="5" height="6" fill="#000"/>
<rect x="724" y="518" width="1" height="33" fill="#000"/>
<rect x="722" y="532" width="5" height="9" fill="#000"/>
<rect x="732" y="517" width="1" height="21" fill="#000"/>
<rect x="730" y="523" width="5" height="6" fill="#000"/>
<rect x="740" y="459" width="1" height="89" fill="#000"/>
<rect x="738.5" y="492.5" width="4" height="34" fill="#fff" stroke="#000" stroke-width="1"/>
<rect x="748" y="476" width="1" height="66" fill="#000"/>
<rect x="746" y="493" width="5" height="19" fill="#000"/>
<rect x="756" y="500" width="1" height="30" fill="#000"/>
<rect x="754.5" y="504.5" width="4" height="5" fill="#fff" stroke="#000" stroke-width="1"/>
<rect x="764" y="468" width="1" height="40" fill="#000"/>
<rect x="762.5" y="481.5" width="4" height="24" fill="#fff" stroke="#000" stroke-width="1"/>
<rect x="772" y="469" width="1" height="22" fill="#000"/>
<rect x="770.5" y="477.5" width="4" height="4" fill="#fff" stroke="#000" stroke-width="1"/>
<rect x="780" y="486" width="1" height="15" fill="#000"/>
<rect x="778" y="491" width="5" height="1" fill="#000"/>
<rect x="788" y="460" width="1" height="39" fill="#000"/>
<rect x="786.5" y="486.5" width="4" height="6" fill="#fff" stroke="#000" stroke-width="1"/>
<rect x="796" y="482" width="1" height="72" fill="#000"/>
<rect x="794" y="485" width="5" height="63" fill="#000"/>
<rect x="804" y="510" width="1" height="45" fill="#000"/>
<rect x="802.5" y="527.5" width="4" height="20" fill="#fff" stroke="#000" stroke-width="1"/>
<rect x="812" y="516" width="1" height="43" fill="#000"/>
<rect x="810" y="527" width="5" height="24" fill="#000"/>
<rect x="820" y="517" width="1" height="35" fill="#000"/>
<rect x="818.5" y="526.5" width="4" height="23" fill="#fff" stroke="#000" stroke-width="1"/>
<rect x="828" y="482" width="1" height="24" fill="#000"/>
<rect x="826.5" y="491.5" width="4" height="3" fill="#fff" stroke="#000" stroke-width="1"/>
<rect x="836" y="484" width="1" height="71" fill="#000"/>
<rect x="834" y="490" width="5" height="58" fill="#000"/>
<rect x="844" y="487" width="1" height="63" fill="#000"/>
<rect x="842.5" y="511.5" width="4" height="36" fill="#fff" stroke="#000" stroke-width="1"/>
<rect x="852" y="493" width="1" height="36" fill="#000"/>
<rect x="850.5" y="505.5" width="4" height="6" fill="#fff" stroke="#000" stroke-width="1"/>
<rect x="860" y="459" width="1" height="48" fill="#000"/>
<rect x="858.5" y="469.5" width="4" height="36" fill="#fff" stroke="#000" stroke-width="1"/>
<rect x="868" y="467" width="1" height="28" fill="#000"/>
<rect x="866" y="470" width="5" height="24" fill="#000"/>
<rect x="876" y="473" width="1" height="29" fill="#000"/>
<rect x="874.5" y="474.5" width="4" height="21" fill="#fff" stroke="#000" stroke-width="1"/>
<rect x="884" y="472" width="1" height="22" fill="#000"/>
<rect x="882" y="474" width="5" height="14" fill="#000"/>
<rect x="892" y="421" width="1" height="68" fill="#000"/>
<rect x="890.5" y="436.5" width="4" height="51" fill="#fff" stroke="#000" stroke-width="1"/>
<rect x="900" y="429" width="1" height="42" fill="#000"/>
<rect x="898.5" y="433.5" width="4" height="2" fill="#fff" stroke="#000" stroke-width="1"/>
<rect x="908" y="431" width="1" height="40" fill="#000"/>
<rect x="906" y="432" width="5" height="39" fill="#000"/>
<rect x="916" y="462" width="1" height="26" fill="#000"/>
<rect x="914" y="470" width="5" height="13" fill="#000"/>
<rect x="924" y="522" width="1" height="47" fill="#000"/>
<rect x="922.5" y="534.5" width="4" height="33" fill="#fff" stroke="#000" stroke-width="1"/>
<rect x="932" y="503" width="1" height="37" fill="#000"/>
<rect x="930.5" y="511.5" width="4" height="21" fill="#fff" stroke="#000" stroke-width="1"/>
<rect x="940" y="469" width="1" height="49" fill="#000"/>
<rect x="938.5" y="476.5" width="4" height="34" fill="#fff" stroke="#000" stroke-width="1"/>
<rect x="948" y="434" width="1" height="56" fill="#000"/>
<rect x="946.5" y="466.5" width="4" height="9" fill="#fff" stroke="#000" stroke-width="1"/>
<rect x="956" y="451" width="1" height="36" fill="#000"/>
<rect x="954" y="465" width="5" height="2" fill="#000"/>
<rect x="964" y="458" width="1" height="22" fill="#000"/>
<rect x="962" y="464" width="5" height="2" fill="#000"/>
<rect x="972" y="442" width="1" height="16" fill="#000"/>
<rect x="970" y="442" width="5" height="9" fill="#000"/>
<rect x="980" y="416" width="1" height="43" fill="#000"/>
<rect x="978.5" y="442.5" width="4" height="6" fill="#fff" stroke="#000" stroke-width="1"/>
<rect x="988" y="353" width="1" height="101" fill="#000"/>
<rect x="986.5" y="365.5" width="4" height="77" fill="#fff" stroke="#000" stroke-width="1"/>
<rect x="996" y="348" width="1" height="27" fill="#000"/>
<rect x="994.5" y="357.5" width="4" height="7" fill="#fff" stroke="#000" stroke-width="1"/>
<rect x="1004" y="331" width="1" height="28" fill="#000"/>
<rect x="1002.5" y="354.5" width="4" height="1" fill="#fff" stroke="#000" stroke-width="1"/>
<rect x="1012" y="333" width="1" height="22" fill="#000"/>
<rect x="1010.5" y="333.5" width="4" height="20" fill="#fff" stroke="#000" stroke-width="1"/>
<rect x="1020" y="333" width="1" height="22" fill="#000"/>
<rect x="1018" y="334" width="5" height="21" fill="#000"/>
<rect x="1028" y="333" width="1" height="29" fill="#000"/>
<rect x="1026.5" y="339.5" width="4" height="15" fill="#fff" stroke="#000" stroke-width="1"/>
<rect x="1036" y="300" width="1" height="83" fill="#000"/>
<rect x="1034" y="339" width="5" height="40" fill="#000"/>
<rect x="1044" y="342" width="1" height="40" fill="#000"/>
<rect x="1042.5" y="354.5" width="4" height="26" fill="#fff" stroke="#000" stroke-width="1"/>
<rect x="1052" y="311" width="1" height="45" fill="#000"/>
<rect x="1050.5" y="316.5" width="4" height="38" fill="#fff" stroke="#000" stroke-width="1"/>
<rect x="1060" y="311" width="1" height="32" fill="#000"/>
<rect x="1058" y="316" width="5" height="26" fill="#000"/>
<rect x="1068" y="343" width="1" height="21" fill="#000"/>
<rect x="1066" y="347" width="5" height="2" fill="#000"/>
<rect x="1076" y="339" width="1" height="36" fill="#000"/>
<rect x="1074" y="348" width="5" height="9" fill="#000"/>
<rect x="1084" y="348" width="1" height="45" fill="#000"/>
<rect x="1082" y="356" width="5" height="15" fill="#000"/>
<rect x="1092" y="339" width="1" height="54" fill="#000"/>
<rect x="1090.5" y="350.5" width="4" height="20" fill="#fff" stroke="#000" stroke-width="1"/>
<rect x="1100" y="324" width="1" height="29" fill="#000"/>
<rect x="1098.5" y="331.5" width="4" height="20" fill="#fff" stroke="#000" stroke-width="1"/>
<rect x="1108" y="324" width="1" height="17" fill="#000"/>
<rect x="1106.5" y="328.5" width="4" height="2" fill="#fff" stroke="#000" stroke-width="1"/>
<rect x="1116" y="322" width="1" height="14" fill="#000"/>
<rect x="1114.5" y="326.5" width="4" height="4" fill="#fff" stroke="#000" stroke-width="1"/>
<rect x="1124" y="321" width="1" height="42" fill="#000"/>
<rect x="1122" y="325" width="5" height="12" fill="#000"/>
<rect x="1132" y="319" width="1" height="36" fill="#000"/>
<rect x="1130" y="336" width="5" height="14" fill="#000"/>
<rect x="1140" y="345" width="1" height="26" fill="#000"/>
<rect x="1138" y="349" width="5" height="18" fill="#000"/>
<rect x="1148" y="351" width="1" height="18" fill="#000"/>
<rect x="1146.5" y="357.5" width="4" height="9" fill="#fff" stroke="#000" stroke-width="1"/>
<rect x="1156" y="347" width="1" height="22" fill="#000"/>
<rect x="1154" y="356" width="5" height="12" fill="#000"/>
<rect x="1164" y="352" width="1" height="23" fill="#000"/>
<rect x="1162.5" y="367.5" width="4" height="5" fill="#fff" stroke="#000" stroke-width="1"/>
<rect x="1172" y="349" width="1" height="20" fill="#000"/>
<rect x="1170.5" y="352.5" width="4" height="14" fill="#fff" stroke="#000" stroke-width="1"/>
<rect x="1180" y="333" width="1" height="42" fill="#000"/>
<rect x="1178" y="352" width="5" height="13" fill="#000"/>
<rect x="1188" y="346" width="1" height="20" fill="#000"/>
<rect x="1186.5" y="351.5" width="4" height="13" fill="#fff" stroke="#000" stroke-width="1"/>
<rect x="1196" y="337" width="1" height="16" fill="#000"/>
<rect x="1194.5" y="340.5" width="4" height="9" fill="#fff" stroke="#000" stroke-width="1"/>
<rect x="1204" y="327" width="1" height="19" fill="#000"/>
<rect x="1202.5" y="328.5" width="4" height="12" fill="#fff" stroke="#000" stroke-width="1"/>
<rect x="1212" y="321" width="1" height="12" fill="#000"/>
<rect x="1210.5" y="325.5" width="4" height="2" fill="#fff" stroke="#000" stroke-width="1"/>
<rect x="1220" y="311" width="1" height="26" fill="#000"/>
<rect x="1218" y="325" width="5" height="7" fill="#000"/>
<rect x="1228" y="327" width="1" height="39" fill="#000"/>
<rect x="1226" y="332" width="5" height="27" fill="#000"/>
<rect x="1236" y="347" width="1" height="22" fill="#000"/>
<rect x="1234.5" y="348.5" width="4" height="9" fill="#fff" stroke="#000" stroke-width="1"/>
<rect x="1244" y="346" width="1" height="22" fill="#000"/>
<rect x="1242" y="348" width="5" height="11" fill="#000"/>
<rect x="1252" y="354" width="1" height="16" fill="#000"/>
<rect x="1250" y="361" width="5" height="2" fill="#000"/>
<rect x="1260" y="359" width="1" height="14" fill="#000"/>
<rect x="1258" y="366" width="5" height="2" fill="#000"/>
<rect x="1268" y="352" width="1" height="21" fill="#000"/>
<rect x="1266" y="365" width="5" height="2" fill="#000"/>
<rect x="1276" y="363" width="1" height="68" fill="#000"/>
<rect x="1274" y="365" width="5" height="57" fill="#000"/>
<rect x="1284" y="418" width="1" height="12" fill="#000"/>
<rect x="1282" y="420" width="5" height="2" fill="#000"/>
<rect x="1292" y="416" width="1" height="20" fill="#000"/>
<rect x="1290" y="420" width="5" height="10" fill="#000"/>
<rect x="1300" y="427" width="1" height="16" fill="#000"/>
<rect x="1298" y="428" width="5" height="13" fill="#000"/>
<rect x="1308" y="418" width="1" height="15" fill="#000"/>
<rect x="1306.5" y="418.5" width="4" height="9" fill="#fff" stroke="#000" stroke-width="1"/>
<rect x="1316" y="401" width="1" height="34" fill="#000"/>
<rect x="1314.5" y="410.5" width="4" height="8" fill="#fff" stroke="#000" stroke-width="1"/>
<rect x="1324" y="416" width="1" height="15" fill="#000"/>
<rect x="1322" y="416" width="5" height="7" fill="#000"/>
<rect x="1332" y="416" width="1" height="30" fill="#000"/>
<rect x="1330.5" y="418.5" width="4" height="4" fill="#fff" stroke="#000" stroke-width="1"/>
<rect x="1340" y="400" width="1" height="26" fill="#000"/>
<rect x="1338.5" y="412.5" width="4" height="6" fill="#fff" stroke="#000" stroke-width="1"/>
<rect x="1348" y="399" width="1" height="21" fill="#000"/>
<rect x="1346.5" y="403.5" width="4" height="13" fill="#fff" stroke="#000" stroke-width="1"/>
<rect x="1356" y="404" width="1" height="16" fill="#000"/>
<rect x="1354" y="410" width="5" height="6" fill="#000"/>
<rect x="1364" y="414" width="1" height="18" fill="#000"/>
<rect x="1362" y="416" width="5" height="12" fill="#000"/>
<rect x="1372" y="424" width="1" height="15" fill="#000"/>
<rect x="1370" y="427" width="5" height="4" fill="#000"/>
<rect x="1380" y="419" width="1" height="17" fill="#000"/>
<rect x="1378" y="430" width="5" height="5" fill="#000"/>
<rect x="1388" y="431" width="1" height="11" fill="#000"/>
<rect x="1386" y="433" width="5" height="6" fill="#000"/>
<rect x="1396" y="432" width="1" height="8" fill="#000"/>
<rect x="1394.5" y="433.5" width="4" height="4" fill="#fff" stroke="#000" stroke-width="1"/>
<rect x="655.5" y="457.5" width="282" height="99" fill="none" stroke="#0000ff" stroke-width="3"/>
<rect x="1023.5" y="308.5" width="233" height="68" fill="none" stroke="#0000ff" stroke-width="3"/>
<line x1="1220" y1="320" x2="1284.6" y2="433.8" stroke="#ff0000" stroke-width="3.2"/><polygon points="1289.5,442.5 1279.2,434.5 1287.9,429.6" fill="#ff0000"/>
<line x1="1293" y1="438.8" x2="1340.3" y2="407.6" stroke="#ff0000" stroke-width="3.2"/><polygon points="1349.5,401.6 1341.7,413.3 1335.6,404.2" fill="#ff0000"/>
<line x1="1362" y1="414" x2="1454.3" y2="465.6" stroke="#ff0000" stroke-width="3.2"/><polygon points="1463.0,470.5 1450.1,469.0 1455.0,460.3" fill="#ff0000"/>
<rect x="1282" y="404" width="131" height="12" fill="#00ff00"/>
<rect x="1501" y="409" width="7" height="1" fill="#ff0000"/>
<rect x="1507.5" y="407.5" width="3" height="3" fill="#fff" stroke="#ff0000" stroke-width="1"/>
<rect x="1511.5" y="397.5" width="73" height="24" fill="#fff" stroke="#ff0000" stroke-width="1"/>
<polygon points="1406,30 1416,30 1411,35" fill="#b0b0b0"/>
<rect x="1600.5" y="356.5" width="4" height="4" fill="#fff" stroke="#ff0000" stroke-width="1"/>
<rect x="1600.5" y="381.5" width="4" height="4" fill="#fff" stroke="#ff0000" stroke-width="1"/>
<rect x="1600.5" y="460.5" width="4" height="4" fill="#fff" stroke="#0000ff" stroke-width="1"/>
<rect x="1600.5" y="486.5" width="4" height="4" fill="#fff" stroke="#0000ff" stroke-width="1"/>
</g>
<text x="1514" y="417.5" font-family="'Liberation Sans', sans-serif" font-size="22" fill="#ff0000" textLength="70" lengthAdjust="spacingAndGlyphs">17991.9</text>
<g shape-rendering="crispEdges">
<rect x="0" y="29" width="1606" height="1" fill="#000"/>
<rect x="0" y="582" width="1606" height="1" fill="#000"/>
<rect x="0" y="584" width="1606" height="1" fill="#000"/>
<rect x="0" y="754" width="1606" height="1" fill="#000"/>
<rect x="0" y="756" width="1606" height="1" fill="#000"/>
<rect x="0" y="930" width="1606" height="1" fill="#000"/>
<rect x="1605" y="29" width="1" height="554" fill="#000"/>
<rect x="1605" y="584" width="1" height="171" fill="#000"/>
<rect x="1605" y="756" width="1" height="175" fill="#000"/>
<rect x="1606" y="579" width="2" height="1" fill="#000"/>
<rect x="1606" y="546" width="2" height="1" fill="#000"/>
<rect x="1606" y="513" width="2" height="1" fill="#000"/>
<rect x="1606" y="480" width="2" height="1" fill="#000"/>
<rect x="1606" y="447" width="2" height="1" fill="#000"/>
<rect x="1606" y="414" width="2" height="1" fill="#000"/>
<rect x="1606" y="381" width="2" height="1" fill="#000"/>
<rect x="1606" y="348" width="2" height="1" fill="#000"/>
<rect x="1606" y="315" width="2" height="1" fill="#000"/>
<rect x="1606" y="282" width="2" height="1" fill="#000"/>
<rect x="1606" y="249" width="2" height="1" fill="#000"/>
<rect x="1606" y="216" width="2" height="1" fill="#000"/>
<rect x="1606" y="183" width="2" height="1" fill="#000"/>
<rect x="1606" y="150" width="2" height="1" fill="#000"/>
<rect x="1606" y="117" width="2" height="1" fill="#000"/>
<rect x="1606" y="84" width="2" height="1" fill="#000"/>
<rect x="1606" y="51" width="2" height="1" fill="#000"/>
</g>
<g font-family="'Liberation Sans', sans-serif" font-size="9.8" fill="#000" stroke="#000" stroke-width="0.15"><text transform="translate(1611 583) scale(0.93 1)">15717.0</text><text transform="translate(1611 550) scale(0.93 1)">16159.0</text><text transform="translate(1611 517) scale(0.93 1)">16601.0</text><text transform="translate(1611 484) scale(0.93 1)">17043.0</text><text transform="translate(1611 451) scale(0.93 1)">17485.0</text><text transform="translate(1611 418) scale(0.93 1)">17927.0</text><text transform="translate(1611 385) scale(0.93 1)">18369.0</text><text transform="translate(1611 352) scale(0.93 1)">18811.0</text><text transform="translate(1611 319) scale(0.93 1)">19253.0</text><text transform="translate(1611 286) scale(0.93 1)">19695.0</text><text transform="translate(1611 253) scale(0.93 1)">20137.0</text><text transform="translate(1611 220) scale(0.93 1)">20579.0</text><text transform="translate(1611 187) scale(0.93 1)">21021.0</text><text transform="translate(1611 154) scale(0.93 1)">21463.0</text><text transform="translate(1611 121) scale(0.93 1)">21905.0</text><text transform="translate(1611 88) scale(0.93 1)">22347.0</text><text transform="translate(1611 55) scale(0.93 1)">22789.0</text></g>
<g shape-rendering="crispEdges">
<rect x="1607" y="352" width="41" height="11" fill="#ff0000"/>
<rect x="1607" y="377" width="41" height="11" fill="#ff0000"/>
<rect x="1607" y="403" width="41" height="11" fill="#32cd32"/>
<rect x="1607" y="428" width="41" height="11" fill="#000000"/>
<rect x="1607" y="456" width="41" height="11" fill="#0000ff"/>
<rect x="1607" y="482" width="41" height="11" fill="#0000ff"/>
</g>
<g font-family="'Liberation Sans', sans-serif" font-size="9.8" fill="#fff"><text transform="translate(1611 361) scale(0.93 1)">18674.0</text><text transform="translate(1611 386) scale(0.93 1)">18339.6</text><text transform="translate(1611 412) scale(0.93 1)">17991.9</text><text transform="translate(1611 437) scale(0.93 1)">17662.5</text><text transform="translate(1611 465) scale(0.93 1)">17283.0</text><text transform="translate(1611 491) scale(0.93 1)">16935.3</text></g>
<g shape-rendering="crispEdges">
<rect x="4" y="650" width="1" height="35" fill="#c0c0c0"/>
<rect x="12" y="650" width="1" height="37" fill="#c0c0c0"/>
<rect x="20" y="650" width="1" height="34" fill="#c0c0c0"/>
<rect x="28" y="650" width="1" height="34" fill="#c0c0c0"/>
<rect x="36" y="650" width="1" height="33" fill="#c0c0c0"/>
<rect x="44" y="650" width="1" height="35" fill="#c0c0c0"/>
<rect x="52" y="650" width="1" height="38" fill="#c0c0c0"/>
<rect x="60" y="650" width="1" height="35" fill="#c0c0c0"/>
<rect x="68" y="650" width="1" height="33" fill="#c0c0c0"/>
<rect x="76" y="650" width="1" height="32" fill="#c0c0c0"/>
<rect x="84" y="650" width="1" height="30" fill="#c0c0c0"/>
<rect x="92" y="650" width="1" height="29" fill="#c0c0c0"/>
<rect x="100" y="650" width="1" height="28" fill="#c0c0c0"/>
<rect x="108" y="650" width="1" height="27" fill="#c0c0c0"/>
<rect x="116" y="650" width="1" height="28" fill="#c0c0c0"/>
<rect x="124" y="650" width="1" height="29" fill="#c0c0c0"/>
<rect x="132" y="650" width="1" height="30" fill="#c0c0c0"/>
<rect x="140" y="650" width="1" height="30" fill="#c0c0c0"/>
<rect x="148" y="650" width="1" height="35" fill="#c0c0c0"/>
<rect x="156" y="650" width="1" height="38" fill="#c0c0c0"/>
<rect x="164" y="650" width="1" height="42" fill="#c0c0c0"/>
<rect x="172" y="650" width="1" height="46" fill="#c0c0c0"/>
<rect x="180" y="650" width="1" height="51" fill="#c0c0c0"/>
<rect x="188" y="650" width="1" height="56" fill="#c0c0c0"/>
<rect x="196" y="650" width="1" height="59" fill="#c0c0c0"/>
<rect x="204" y="650" width="1" height="58" fill="#c0c0c0"/>
<rect x="212" y="650" width="1" height="52" fill="#c0c0c0"/>
<rect x="220" y="650" width="1" height="50" fill="#c0c0c0"/>
<rect x="228" y="650" width="1" height="48" fill="#c0c0c0"/>
<rect x="236" y="650" width="1" height="45" fill="#c0c0c0"/>
<rect x="244" y="650" width="1" height="40" fill="#c0c0c0"/>
<rect x="252" y="650" width="1" height="33" fill="#c0c0c0"/>
<rect x="260" y="650" width="1" height="29" fill="#c0c0c0"/>
<rect x="268" y="650" width="1" height="26" fill="#c0c0c0"/>
<rect x="276" y="650" width="1" height="25" fill="#c0c0c0"/>
<rect x="284" y="650" width="1" height="27" fill="#c0c0c0"/>
<rect x="292" y="650" width="1" height="28" fill="#c0c0c0"/>
<rect x="300" y="650" width="1" height="28" fill="#c0c0c0"/>
<rect x="308" y="650" width="1" height="25" fill="#c0c0c0"/>
<rect x="316" y="650" width="1" height="23" fill="#c0c0c0"/>
<rect x="324" y="650" width="1" height="22" fill="#c0c0c0"/>
<rect x="332" y="650" width="1" height="18" fill="#c0c0c0"/>
<rect x="340" y="650" width="1" height="15" fill="#c0c0c0"/>
<rect x="348" y="650" width="1" height="12" fill="#c0c0c0"/>
<rect x="356" y="650" width="1" height="11" fill="#c0c0c0"/>
<rect x="364" y="650" width="1" height="12" fill="#c0c0c0"/>
<rect x="372" y="650" width="1" height="13" fill="#c0c0c0"/>
<rect x="380" y="650" width="1" height="15" fill="#c0c0c0"/>
<rect x="388" y="650" width="1" height="16" fill="#c0c0c0"/>
<rect x="396" y="650" width="1" height="17" fill="#c0c0c0"/>
<rect x="404" y="650" width="1" height="19" fill="#c0c0c0"/>
<rect x="412" y="650" width="1" height="24" fill="#c0c0c0"/>
<rect x="420" y="650" width="1" height="28" fill="#c0c0c0"/>
<rect x="428" y="650" width="1" height="30" fill="#c0c0c0"/>
<rect x="436" y="650" width="1" height="32" fill="#c0c0c0"/>
<rect x="444" y="650" width="1" height="37" fill="#c0c0c0"/>
<rect x="452" y="650" width="1" height="42" fill="#c0c0c0"/>
<rect x="460" y="650" width="1" height="51" fill="#c0c0c0"/>
<rect x="468" y="650" width="1" height="59" fill="#c0c0c0"/>
<rect x="476" y="650" width="1" height="64" fill="#c0c0c0"/>
<rect x="484" y="650" width="1" height="67" fill="#c0c0c0"/>
<rect x="492" y="650" width="1" height="66" fill="#c0c0c0"/>
<rect x="500" y="650" width="1" height="61" fill="#c0c0c0"/>
<rect x="508" y="650" width="1" height="54" fill="#c0c0c0"/>
<rect x="516" y="650" width="1" height="55" fill="#c0c0c0"/>
<rect x="524" y="650" width="1" height="51" fill="#c0c0c0"/>
<rect x="532" y="650" width="1" height="45" fill="#c0c0c0"/>
<rect x="540" y="650" width="1" height="43" fill="#c0c0c0"/>
<rect x="548" y="650" width="1" height="42" fill="#c0c0c0"/>
<rect x="556" y="650" width="1" height="41" fill="#c0c0c0"/>
<rect x="564" y="650" width="1" height="42" fill="#c0c0c0"/>
<rect x="572" y="650" width="1" height="44" fill="#c0c0c0"/>
<rect x="580" y="650" width="1" height="45" fill="#c0c0c0"/>
<rect x="588" y="650" width="1" height="46" fill="#c0c0c0"/>
<rect x="596" y="650" width="1" height="52" fill="#c0c0c0"/>
<rect x="604" y="650" width="1" height="58" fill="#c0c0c0"/>
<rect x="612" y="650" width="1" height="68" fill="#c0c0c0"/>
<rect x="620" y="650" width="1" height="78" fill="#c0c0c0"/>
<rect x="628" y="650" width="1" height="87" fill="#c0c0c0"/>
<rect x="636" y="650" width="1" height="93" fill="#c0c0c0"/>
<rect x="644" y="650" width="1" height="97" fill="#c0c0c0"/>
<rect x="652" y="650" width="1" height="92" fill="#c0c0c0"/>
<rect x="660" y="650" width="1" height="87" fill="#c0c0c0"/>
<rect x="668" y="650" width="1" height="81" fill="#c0c0c0"/>
<rect x="676" y="650" width="1" height="73" fill="#c0c0c0"/>
<rect x="684" y="650" width="1" height="70" fill="#c0c0c0"/>
<rect x="692" y="650" width="1" height="69" fill="#c0c0c0"/>
<rect x="700" y="650" width="1" height="74" fill="#c0c0c0"/>
<rect x="708" y="650" width="1" height="77" fill="#c0c0c0"/>
<rect x="716" y="650" width="1" height="79" fill="#c0c0c0"/>
<rect x="724" y="650" width="1" height="81" fill="#c0c0c0"/>
<rect x="732" y="650" width="1" height="80" fill="#c0c0c0"/>
<rect x="740" y="650" width="1" height="76" fill="#c0c0c0"/>
<rect x="748" y="650" width="1" height="71" fill="#c0c0c0"/>
<rect x="756" y="650" width="1" height="67" fill="#c0c0c0"/>
<rect x="764" y="650" width="1" height="61" fill="#c0c0c0"/>
<rect x="772" y="650" width="1" height="54" fill="#c0c0c0"/>
<rect x="780" y="650" width="1" height="50" fill="#c0c0c0"/>
<rect x="788" y="650" width="1" height="46" fill="#c0c0c0"/>
<rect x="796" y="650" width="1" height="49" fill="#c0c0c0"/>
<rect x="804" y="650" width="1" height="49" fill="#c0c0c0"/>
<rect x="812" y="650" width="1" height="51" fill="#c0c0c0"/>
<rect x="820" y="650" width="1" height="49" fill="#c0c0c0"/>
<rect x="828" y="650" width="1" height="43" fill="#c0c0c0"/>
<rect x="836" y="650" width="1" height="44" fill="#c0c0c0"/>
<rect x="844" y="650" width="1" height="41" fill="#c0c0c0"/>
<rect x="852" y="650" width="1" height="37" fill="#c0c0c0"/>
<rect x="860" y="650" width="1" height="29" fill="#c0c0c0"/>
<rect x="868" y="650" width="1" height="25" fill="#c0c0c0"/>
<rect x="876" y="650" width="1" height="19" fill="#c0c0c0"/>
<rect x="884" y="650" width="1" height="17" fill="#c0c0c0"/>
<rect x="892" y="650" width="1" height="8" fill="#c0c0c0"/>
<rect x="916" y="650" width="1" height="2" fill="#c0c0c0"/>
<rect x="924" y="650" width="1" height="7" fill="#c0c0c0"/>
<rect x="932" y="650" width="1" height="9" fill="#c0c0c0"/>
<rect x="940" y="650" width="1" height="7" fill="#c0c0c0"/>
<rect x="948" y="650" width="1" height="4" fill="#c0c0c0"/>
<rect x="964" y="649" width="1" height="2" fill="#c0c0c0"/>
<rect x="972" y="646" width="1" height="5" fill="#c0c0c0"/>
<rect x="980" y="642" width="1" height="9" fill="#c0c0c0"/>
<rect x="988" y="630" width="1" height="21" fill="#c0c0c0"/>
<rect x="996" y="620" width="1" height="31" fill="#c0c0c0"/>
<rect x="1004" y="612" width="1" height="39" fill="#c0c0c0"/>
<rect x="1012" y="604" width="1" height="47" fill="#c0c0c0"/>
<rect x="1020" y="600" width="1" height="51" fill="#c0c0c0"/>
<rect x="1028" y="597" width="1" height="54" fill="#c0c0c0"/>
<rect x="1036" y="599" width="1" height="52" fill="#c0c0c0"/>
<rect x="1044" y="598" width="1" height="53" fill="#c0c0c0"/>
<rect x="1052" y="594" width="1" height="57" fill="#c0c0c0"/>
<rect x="1060" y="594" width="1" height="57" fill="#c0c0c0"/>
<rect x="1068" y="596" width="1" height="55" fill="#c0c0c0"/>
<rect x="1076" y="599" width="1" height="52" fill="#c0c0c0"/>
<rect x="1084" y="603" width="1" height="48" fill="#c0c0c0"/>
<rect x="1092" y="605" width="1" height="46" fill="#c0c0c0"/>
<rect x="1100" y="605" width="1" height="46" fill="#c0c0c0"/>
<rect x="1108" y="604" width="1" height="47" fill="#c0c0c0"/>
<rect x="1116" y="604" width="1" height="47" fill="#c0c0c0"/>
<rect x="1124" y="606" width="1" height="45" fill="#c0c0c0"/>
<rect x="1132" y="610" width="1" height="41" fill="#c0c0c0"/>
<rect x="1140" y="615" width="1" height="36" fill="#c0c0c0"/>
<rect x="1148" y="618" width="1" height="33" fill="#c0c0c0"/>
<rect x="1156" y="623" width="1" height="28" fill="#c0c0c0"/>
<rect x="1164" y="626" width="1" height="25" fill="#c0c0c0"/>
<rect x="1172" y="628" width="1" height="23" fill="#c0c0c0"/>
<rect x="1180" y="631" width="1" height="20" fill="#c0c0c0"/>
<rect x="1188" y="631" width="1" height="20" fill="#c0c0c0"/>
<rect x="1196" y="631" width="1" height="20" fill="#c0c0c0"/>
<rect x="1204" y="629" width="1" height="22" fill="#c0c0c0"/>
<rect x="1212" y="628" width="1" height="23" fill="#c0c0c0"/>
<rect x="1220" y="628" width="1" height="23" fill="#c0c0c0"/>
<rect x="1228" y="631" width="1" height="20" fill="#c0c0c0"/>
<rect x="1236" y="633" width="1" height="18" fill="#c0c0c0"/>
<rect x="1244" y="636" width="1" height="15" fill="#c0c0c0"/>
<rect x="1252" y="639" width="1" height="12" fill="#c0c0c0"/>
<rect x="1260" y="642" width="1" height="9" fill="#c0c0c0"/>
<rect x="1268" y="644" width="1" height="7" fill="#c0c0c0"/>
<rect x="1284" y="650" width="1" height="9" fill="#c0c0c0"/>
<rect x="1292" y="650" width="1" height="15" fill="#c0c0c0"/>
<rect x="1300" y="650" width="1" height="20" fill="#c0c0c0"/>
<rect x="1308" y="650" width="1" height="22" fill="#c0c0c0"/>
<rect x="1316" y="650" width="1" height="23" fill="#c0c0c0"/>
<rect x="1324" y="650" width="1" height="24" fill="#c0c0c0"/>
<rect x="1332" y="650" width="1" height="25" fill="#c0c0c0"/>
<rect x="1340" y="650" width="1" height="24" fill="#c0c0c0"/>
<rect x="1348" y="650" width="1" height="22" fill="#c0c0c0"/>
<rect x="1356" y="650" width="1" height="21" fill="#c0c0c0"/>
<rect x="1364" y="650" width="1" height="22" fill="#c0c0c0"/>
<rect x="1372" y="650" width="1" height="23" fill="#c0c0c0"/>
<rect x="1380" y="650" width="1" height="23" fill="#c0c0c0"/>
<rect x="1388" y="650" width="1" height="24" fill="#c0c0c0"/>
<rect x="1396" y="650" width="1" height="24" fill="#c0c0c0"/>
<path d="M1071 598h2v1h-2zM1076 598h3v1h-3zM1082 598h3v1h-3zM1088 598h3v1h-3zM1094 598h3v1h-3zM1100 598h2v1h-2zM1065 599h2v1h-2zM1070 599h1v1h-1zM1102 599h1v1h-1zM1106 599h3v1h-3zM1064 600h1v1h-1zM1112 600h3v1h-3zM1118 600h3v1h-3zM1059 601h2v1h-2zM1124 601h3v1h-3zM1058 602h1v1h-1zM1130 603h3v1h-3zM1054 604h1v1h-1zM1136 604h1v1h-1zM1052 605h2v1h-2zM1137 605h2v1h-2zM1142 606h3v1h-3zM1148 607h2v1h-2zM1048 608h1v1h-1zM1150 608h1v1h-1zM1046 609h2v1h-2zM1154 609h3v1h-3zM1160 610h2v1h-2zM1162 611h1v1h-1zM1042 612h1v1h-1zM1166 612h3v1h-3zM1041 613h1v1h-1zM1040 614h1v1h-1zM1172 614h1v1h-1zM1173 615h2v1h-2zM1178 616h1v1h-1zM1036 617h1v1h-1zM1179 617h2v1h-2zM1034 618h2v1h-2zM1184 619h1v1h-1zM1185 620h2v1h-2zM1030 621h1v1h-1zM1190 621h3v1h-3zM1028 622h2v1h-2zM1196 622h1v1h-1zM1197 623h2v1h-2zM1202 624h1v1h-1zM1024 625h1v1h-1zM1203 625h2v1h-2zM1022 626h2v1h-2zM1208 626h3v1h-3zM1214 626h1v1h-1zM1215 627h2v1h-2zM1220 627h3v1h-3zM1226 628h3v1h-3zM1018 629h1v1h-1zM1232 629h3v1h-3zM1238 629h2v1h-2zM1017 630h1v1h-1zM1240 630h1v1h-1zM1244 630h3v1h-3zM1016 631h1v1h-1zM1250 631h3v1h-3zM1256 632h3v1h-3zM1262 632h2v1h-2zM1264 633h1v1h-1zM1268 633h2v1h-2zM1012 634h1v1h-1zM1270 634h1v1h-1zM1010 635h2v1h-2zM1274 635h1v1h-1zM1275 636h2v1h-2zM1280 637h1v1h-1zM1006 638h1v1h-1zM1281 638h2v1h-2zM1005 639h1v1h-1zM1004 640h1v1h-1zM1286 640h1v1h-1zM1287 641h2v1h-2zM999 643h2v1h-2zM998 644h1v1h-1zM1292 644h2v1h-2zM994 645h1v1h-1zM1294 645h1v1h-1zM992 646h2v1h-2zM1298 647h1v1h-1zM1299 648h2v1h-2zM986 649h3v1h-3zM982 650h1v1h-1zM1304 650h1v1h-1zM974 651h3v1h-3zM980 651h2v1h-2zM1305 651h2v1h-2zM964 652h1v1h-1zM968 652h3v1h-3zM956 653h3v1h-3zM962 653h2v1h-2zM1310 653h1v1h-1zM951 654h2v1h-2zM1311 654h2v1h-2zM950 655h1v1h-1zM944 656h3v1h-3zM1316 656h1v1h-1zM939 657h2v1h-2zM1317 657h2v1h-2zM938 658h1v1h-1zM933 659h2v1h-2zM1322 659h1v1h-1zM932 660h1v1h-1zM1323 660h2v1h-2zM926 661h3v1h-3zM921 662h2v1h-2zM1328 662h1v1h-1zM920 663h1v1h-1zM1329 663h2v1h-2zM915 664h2v1h-2zM-4 665h2v1h-2zM380 665h3v1h-3zM386 665h3v1h-3zM392 665h3v1h-3zM398 665h3v1h-3zM404 665h3v1h-3zM410 665h3v1h-3zM914 665h1v1h-1zM1334 665h2v1h-2zM-2 666h1v1h-1zM374 666h3v1h-3zM416 666h2v1h-2zM1336 666h1v1h-1zM368 667h3v1h-3zM418 667h1v1h-1zM422 667h1v1h-1zM910 667h1v1h-1zM1340 667h2v1h-2zM2 668h2v1h-2zM362 668h3v1h-3zM423 668h2v1h-2zM908 668h2v1h-2zM1342 668h1v1h-1zM4 669h1v1h-1zM358 669h1v1h-1zM428 669h3v1h-3zM1346 669h2v1h-2zM356 670h2v1h-2zM1348 670h1v1h-1zM1352 670h1v1h-1zM8 671h2v1h-2zM350 671h3v1h-3zM434 671h1v1h-1zM904 671h1v1h-1zM1353 671h2v1h-2zM1358 671h3v1h-3zM10 672h1v1h-1zM346 672h1v1h-1zM435 672h2v1h-2zM440 672h3v1h-3zM902 672h2v1h-2zM1364 672h3v1h-3zM1370 672h3v1h-3zM1376 672h3v1h-3zM1382 672h3v1h-3zM1388 672h3v1h-3zM1394 672h3v1h-3zM14 673h3v1h-3zM338 673h3v1h-3zM344 673h2v1h-2zM446 673h2v1h-2zM20 674h1v1h-1zM332 674h3v1h-3zM448 674h1v1h-1zM21 675h2v1h-2zM326 675h3v1h-3zM452 675h1v1h-1zM898 675h1v1h-1zM320 676h3v1h-3zM453 676h2v1h-2zM896 676h2v1h-2zM26 677h1v1h-1zM314 677h3v1h-3zM27 678h2v1h-2zM309 678h2v1h-2zM32 679h2v1h-2zM128 679h3v1h-3zM134 679h3v1h-3zM140 679h3v1h-3zM146 679h3v1h-3zM308 679h1v1h-1zM458 679h2v1h-2zM892 679h1v1h-1zM34 680h1v1h-1zM117 680h2v1h-2zM122 680h3v1h-3zM152 680h2v1h-2zM302 680h3v1h-3zM460 680h1v1h-1zM890 680h2v1h-2zM38 681h2v1h-2zM111 681h2v1h-2zM116 681h1v1h-1zM154 681h1v1h-1zM158 681h3v1h-3zM164 681h3v1h-3zM40 682h1v1h-1zM104 682h3v1h-3zM110 682h1v1h-1zM170 682h1v1h-1zM296 682h3v1h-3zM44 683h3v1h-3zM87 683h2v1h-2zM92 683h3v1h-3zM98 683h3v1h-3zM171 683h2v1h-2zM292 683h1v1h-1zM464 683h1v1h-1zM885 683h2v1h-2zM50 684h3v1h-3zM56 684h3v1h-3zM62 684h3v1h-3zM68 684h3v1h-3zM74 684h3v1h-3zM80 684h3v1h-3zM86 684h1v1h-1zM176 684h2v1h-2zM290 684h2v1h-2zM465 684h2v1h-2zM884 684h1v1h-1zM178 685h1v1h-1zM182 686h1v1h-1zM284 686h3v1h-3zM879 686h2v1h-2zM183 687h2v1h-2zM470 687h1v1h-1zM878 687h1v1h-1zM278 688h3v1h-3zM471 688h2v1h-2zM873 688h2v1h-2zM188 689h2v1h-2zM274 689h1v1h-1zM872 689h1v1h-1zM190 690h1v1h-1zM272 690h2v1h-2zM476 690h1v1h-1zM867 690h2v1h-2zM194 691h1v1h-1zM267 691h2v1h-2zM477 691h2v1h-2zM866 691h1v1h-1zM195 692h2v1h-2zM266 692h1v1h-1zM482 693h1v1h-1zM584 693h3v1h-3zM590 693h2v1h-2zM860 693h3v1h-3zM200 694h3v1h-3zM261 694h2v1h-2zM483 694h2v1h-2zM578 694h3v1h-3zM592 694h1v1h-1zM596 694h3v1h-3zM856 694h1v1h-1zM260 695h1v1h-1zM573 695h2v1h-2zM602 695h2v1h-2zM854 695h2v1h-2zM206 696h2v1h-2zM256 696h1v1h-1zM572 696h1v1h-1zM604 696h1v1h-1zM844 696h1v1h-1zM848 696h3v1h-3zM208 697h1v1h-1zM254 697h2v1h-2zM488 697h1v1h-1zM566 697h3v1h-3zM608 697h2v1h-2zM838 697h1v1h-1zM842 697h2v1h-2zM212 698h3v1h-3zM489 698h1v1h-1zM562 698h1v1h-1zM610 698h1v1h-1zM836 698h2v1h-2zM218 699h3v1h-3zM248 699h3v1h-3zM490 699h1v1h-1zM560 699h2v1h-2zM614 699h1v1h-1zM831 699h2v1h-2zM224 700h2v1h-2zM615 700h2v1h-2zM830 700h1v1h-1zM226 701h1v1h-1zM230 701h3v1h-3zM236 701h3v1h-3zM242 701h3v1h-3zM494 701h3v1h-3zM554 701h3v1h-3zM824 701h3v1h-3zM500 702h2v1h-2zM819 702h2v1h-2zM502 703h1v1h-1zM548 703h3v1h-3zM620 703h2v1h-2zM818 703h1v1h-1zM506 704h1v1h-1zM542 704h3v1h-3zM622 704h1v1h-1zM813 704h2v1h-2zM507 705h2v1h-2zM537 705h2v1h-2zM812 705h1v1h-1zM512 706h2v1h-2zM536 706h1v1h-1zM626 706h1v1h-1zM807 706h2v1h-2zM514 707h1v1h-1zM518 707h2v1h-2zM530 707h3v1h-3zM627 707h2v1h-2zM806 707h1v1h-1zM520 708h1v1h-1zM524 708h3v1h-3zM801 709h2v1h-2zM632 710h2v1h-2zM800 710h1v1h-1zM634 711h1v1h-1zM795 711h2v1h-2zM794 712h1v1h-1zM789 714h2v1h-2zM638 715h1v1h-1zM788 715h1v1h-1zM639 716h2v1h-2zM783 717h2v1h-2zM782 718h1v1h-1zM644 720h1v1h-1zM776 720h3v1h-3zM645 721h2v1h-2zM771 721h2v1h-2zM770 722h1v1h-1zM650 723h1v1h-1zM764 723h3v1h-3zM651 724h2v1h-2zM740 724h3v1h-3zM746 724h3v1h-3zM752 724h3v1h-3zM758 724h3v1h-3zM734 725h3v1h-3zM656 726h1v1h-1zM724 726h1v1h-1zM728 726h3v1h-3zM657 727h2v1h-2zM716 727h3v1h-3zM722 727h2v1h-2zM710 728h3v1h-3zM662 729h1v1h-1zM663 730h2v1h-2zM705 730h2v1h-2zM704 731h1v1h-1zM668 732h3v1h-3zM692 732h3v1h-3zM698 732h3v1h-3zM674 733h1v1h-1zM688 733h1v1h-1zM675 734h2v1h-2zM680 734h3v1h-3zM686 734h2v1h-2z" fill="#ff0000"/>
<rect x="1606" y="586" width="2" height="1" fill="#000"/>
<rect x="1606" y="650" width="2" height="1" fill="#000"/>
<rect x="1606" y="752" width="2" height="1" fill="#000"/>
</g>
<g font-family="'Liberation Sans', sans-serif" font-size="9.8" fill="#000" stroke="#000" stroke-width="0.15"><text transform="translate(1 597) scale(0.95 1)">MACD(12,26,9) -214.77 -203.89</text><text transform="translate(1609 595) scale(0.93 1)">574.25</text><text transform="translate(1609 654) scale(0.93 1)">0.00</text><text transform="translate(1609 751) scale(0.93 1)">-929.3</text></g>
<g shape-rendering="crispEdges">
<line x1="3" y1="792.5" x2="1605" y2="792.5" stroke="#b4b4b4" stroke-width="1" stroke-dasharray="3 3"/>
<line x1="3" y1="843.5" x2="1605" y2="843.5" stroke="#b4b4b4" stroke-width="1" stroke-dasharray="3 3"/>
<line x1="3" y1="904.5" x2="1605" y2="904.5" stroke="#b4b4b4" stroke-width="1" stroke-dasharray="3 3"/>
<path d="M1011 810h2v1h-2zM1008 811h3v1h-3zM1013 811h1v1h-1zM1006 812h2v1h-2zM1014 812h1v1h-1zM1000 813h6v1h-6zM1015 813h1v1h-1zM994 814h6v1h-6zM1016 814h1v1h-1zM990 815h4v1h-4zM1017 815h1v1h-1zM1027 815h2v1h-2zM988 816h2v1h-2zM1018 816h1v1h-1zM1024 816h3v1h-3zM1029 816h1v1h-1zM1052 816h1v1h-1zM988 817h1v1h-1zM1019 817h1v1h-1zM1022 817h2v1h-2zM1029 817h1v1h-1zM1051 817h1v1h-1zM1053 817h1v1h-1zM987 818h1v1h-1zM1020 818h2v1h-2zM1030 818h1v1h-1zM1050 818h1v1h-1zM1054 818h1v1h-1zM987 819h1v1h-1zM1030 819h1v1h-1zM1049 819h1v1h-1zM1055 819h1v1h-1zM986 820h1v1h-1zM1031 820h1v1h-1zM1048 820h1v1h-1zM1056 820h1v1h-1zM986 821h1v1h-1zM1031 821h1v1h-1zM1047 821h1v1h-1zM1056 821h1v1h-1zM985 822h1v1h-1zM1032 822h1v1h-1zM1046 822h1v1h-1zM1057 822h1v1h-1zM985 823h1v1h-1zM1032 823h1v1h-1zM1045 823h1v1h-1zM1058 823h1v1h-1zM1112 823h5v1h-5zM984 824h1v1h-1zM1033 824h1v1h-1zM1044 824h1v1h-1zM1059 824h1v1h-1zM1104 824h8v1h-8zM1117 824h2v1h-2zM984 825h1v1h-1zM1033 825h1v1h-1zM1042 825h2v1h-2zM1060 825h2v1h-2zM1099 825h5v1h-5zM1119 825h1v1h-1zM1210 825h3v1h-3zM983 826h1v1h-1zM1034 826h1v1h-1zM1041 826h1v1h-1zM1062 826h4v1h-4zM1097 826h2v1h-2zM1120 826h2v1h-2zM1206 826h4v1h-4zM1213 826h2v1h-2zM983 827h1v1h-1zM1034 827h1v1h-1zM1040 827h1v1h-1zM1066 827h3v1h-3zM1095 827h2v1h-2zM1122 827h2v1h-2zM1203 827h3v1h-3zM1215 827h2v1h-2zM982 828h1v1h-1zM1035 828h1v1h-1zM1038 828h2v1h-2zM1069 828h2v1h-2zM1093 828h2v1h-2zM1124 828h1v1h-1zM1201 828h2v1h-2zM1217 828h2v1h-2zM982 829h1v1h-1zM1035 829h1v1h-1zM1037 829h1v1h-1zM1071 829h2v1h-2zM1092 829h1v1h-1zM1125 829h2v1h-2zM1199 829h2v1h-2zM1219 829h2v1h-2zM981 830h1v1h-1zM1036 830h1v1h-1zM1073 830h2v1h-2zM1090 830h2v1h-2zM1127 830h1v1h-1zM1197 830h2v1h-2zM1221 830h1v1h-1zM892 831h9v1h-9zM981 831h1v1h-1zM1075 831h2v1h-2zM1089 831h1v1h-1zM1128 831h2v1h-2zM1195 831h2v1h-2zM1221 831h1v1h-1zM891 832h1v1h-1zM901 832h1v1h-1zM980 832h1v1h-1zM1077 832h2v1h-2zM1088 832h1v1h-1zM1130 832h2v1h-2zM1193 832h2v1h-2zM1222 832h1v1h-1zM891 833h1v1h-1zM902 833h1v1h-1zM978 833h3v1h-3zM1079 833h2v1h-2zM1086 833h2v1h-2zM1132 833h1v1h-1zM1191 833h2v1h-2zM1222 833h1v1h-1zM890 834h1v1h-1zM902 834h1v1h-1zM974 834h4v1h-4zM1081 834h2v1h-2zM1085 834h1v1h-1zM1133 834h1v1h-1zM1189 834h2v1h-2zM1223 834h1v1h-1zM890 835h1v1h-1zM903 835h1v1h-1zM971 835h3v1h-3zM1083 835h2v1h-2zM1134 835h1v1h-1zM1172 835h1v1h-1zM1188 835h1v1h-1zM1223 835h1v1h-1zM889 836h1v1h-1zM904 836h1v1h-1zM969 836h2v1h-2zM1135 836h1v1h-1zM1147 836h2v1h-2zM1170 836h2v1h-2zM1173 836h2v1h-2zM1186 836h2v1h-2zM1224 836h1v1h-1zM888 837h1v1h-1zM905 837h1v1h-1zM967 837h2v1h-2zM1136 837h2v1h-2zM1145 837h2v1h-2zM1149 837h2v1h-2zM1169 837h1v1h-1zM1175 837h1v1h-1zM1184 837h2v1h-2zM1225 837h1v1h-1zM888 838h1v1h-1zM906 838h1v1h-1zM965 838h2v1h-2zM1138 838h1v1h-1zM1143 838h2v1h-2zM1151 838h1v1h-1zM1168 838h1v1h-1zM1176 838h2v1h-2zM1183 838h1v1h-1zM1225 838h1v1h-1zM1236 838h1v1h-1zM860 839h1v1h-1zM887 839h1v1h-1zM906 839h1v1h-1zM947 839h18v1h-18zM1139 839h1v1h-1zM1141 839h2v1h-2zM1152 839h2v1h-2zM1166 839h2v1h-2zM1178 839h2v1h-2zM1181 839h2v1h-2zM1226 839h1v1h-1zM1234 839h2v1h-2zM1237 839h1v1h-1zM252 840h1v1h-1zM859 840h1v1h-1zM861 840h1v1h-1zM876 840h1v1h-1zM886 840h1v1h-1zM907 840h1v1h-1zM944 840h3v1h-3zM1140 840h1v1h-1zM1154 840h2v1h-2zM1165 840h1v1h-1zM1180 840h1v1h-1zM1226 840h1v1h-1zM1232 840h2v1h-2zM1238 840h1v1h-1zM251 841h1v1h-1zM253 841h1v1h-1zM344 841h5v1h-5zM858 841h1v1h-1zM862 841h2v1h-2zM874 841h2v1h-2zM877 841h2v1h-2zM886 841h1v1h-1zM908 841h1v1h-1zM942 841h2v1h-2zM1156 841h9v1h-9zM1227 841h1v1h-1zM1231 841h1v1h-1zM1239 841h1v1h-1zM251 842h1v1h-1zM254 842h1v1h-1zM336 842h8v1h-8zM349 842h1v1h-1zM858 842h1v1h-1zM864 842h1v1h-1zM872 842h2v1h-2zM879 842h2v1h-2zM885 842h1v1h-1zM909 842h2v1h-2zM940 842h2v1h-2zM1227 842h1v1h-1zM1229 842h2v1h-2zM1240 842h2v1h-2zM250 843h1v1h-1zM255 843h1v1h-1zM332 843h4v1h-4zM350 843h1v1h-1zM857 843h1v1h-1zM865 843h1v1h-1zM871 843h1v1h-1zM881 843h2v1h-2zM885 843h1v1h-1zM911 843h2v1h-2zM939 843h1v1h-1zM1228 843h1v1h-1zM1242 843h1v1h-1zM249 844h1v1h-1zM256 844h1v1h-1zM331 844h1v1h-1zM351 844h1v1h-1zM856 844h1v1h-1zM866 844h2v1h-2zM869 844h2v1h-2zM883 844h2v1h-2zM913 844h2v1h-2zM938 844h1v1h-1zM1243 844h1v1h-1zM248 845h1v1h-1zM257 845h1v1h-1zM330 845h1v1h-1zM352 845h2v1h-2zM855 845h1v1h-1zM868 845h1v1h-1zM915 845h2v1h-2zM937 845h1v1h-1zM1244 845h10v1h-10zM248 846h1v1h-1zM258 846h1v1h-1zM330 846h1v1h-1zM354 846h1v1h-1zM854 846h1v1h-1zM917 846h1v1h-1zM936 846h1v1h-1zM1254 846h4v1h-4zM1264 846h5v1h-5zM247 847h1v1h-1zM259 847h1v1h-1zM329 847h1v1h-1zM355 847h1v1h-1zM828 847h1v1h-1zM854 847h1v1h-1zM917 847h1v1h-1zM936 847h1v1h-1zM1258 847h6v1h-6zM1268 847h1v1h-1zM246 848h1v1h-1zM260 848h2v1h-2zM328 848h1v1h-1zM356 848h1v1h-1zM827 848h1v1h-1zM829 848h1v1h-1zM853 848h1v1h-1zM918 848h1v1h-1zM935 848h1v1h-1zM1269 848h1v1h-1zM245 849h1v1h-1zM262 849h4v1h-4zM308 849h9v1h-9zM327 849h1v1h-1zM357 849h1v1h-1zM827 849h1v1h-1zM829 849h1v1h-1zM848 849h5v1h-5zM919 849h1v1h-1zM934 849h1v1h-1zM1269 849h1v1h-1zM245 850h1v1h-1zM266 850h3v1h-3zM307 850h1v1h-1zM317 850h2v1h-2zM326 850h1v1h-1zM358 850h2v1h-2zM532 850h1v1h-1zM826 850h1v1h-1zM830 850h1v1h-1zM844 850h4v1h-4zM919 850h1v1h-1zM933 850h1v1h-1zM1269 850h1v1h-1zM1348 850h1v1h-1zM244 851h1v1h-1zM269 851h1v1h-1zM306 851h1v1h-1zM319 851h2v1h-2zM326 851h1v1h-1zM360 851h1v1h-1zM530 851h2v1h-2zM533 851h1v1h-1zM825 851h1v1h-1zM830 851h1v1h-1zM843 851h1v1h-1zM920 851h1v1h-1zM932 851h1v1h-1zM1270 851h1v1h-1zM1347 851h1v1h-1zM1349 851h2v1h-2zM212 852h1v1h-1zM243 852h1v1h-1zM270 852h1v1h-1zM306 852h1v1h-1zM321 852h2v1h-2zM325 852h1v1h-1zM361 852h1v1h-1zM529 852h1v1h-1zM534 852h1v1h-1zM770 852h3v1h-3zM825 852h1v1h-1zM831 852h1v1h-1zM843 852h1v1h-1zM921 852h1v1h-1zM930 852h2v1h-2zM1270 852h1v1h-1zM1346 852h1v1h-1zM1351 852h1v1h-1zM84 853h1v1h-1zM212 853h2v1h-2zM242 853h1v1h-1zM271 853h1v1h-1zM305 853h1v1h-1zM323 853h2v1h-2zM362 853h2v1h-2zM396 853h1v1h-1zM528 853h1v1h-1zM535 853h1v1h-1zM766 853h4v1h-4zM773 853h2v1h-2zM824 853h1v1h-1zM831 853h1v1h-1zM842 853h1v1h-1zM921 853h1v1h-1zM929 853h1v1h-1zM1270 853h1v1h-1zM1345 853h1v1h-1zM1352 853h2v1h-2zM83 854h1v1h-1zM85 854h1v1h-1zM211 854h1v1h-1zM214 854h1v1h-1zM240 854h2v1h-2zM272 854h2v1h-2zM304 854h1v1h-1zM364 854h1v1h-1zM395 854h1v1h-1zM397 854h1v1h-1zM508 854h1v1h-1zM526 854h2v1h-2zM536 854h2v1h-2zM764 854h2v1h-2zM775 854h1v1h-1zM823 854h1v1h-1zM832 854h1v1h-1zM841 854h1v1h-1zM922 854h1v1h-1zM928 854h1v1h-1zM1271 854h1v1h-1zM1344 854h1v1h-1zM1354 854h2v1h-2zM83 855h1v1h-1zM86 855h1v1h-1zM211 855h1v1h-1zM214 855h1v1h-1zM239 855h1v1h-1zM274 855h1v1h-1zM303 855h1v1h-1zM365 855h2v1h-2zM394 855h1v1h-1zM397 855h1v1h-1zM506 855h2v1h-2zM509 855h1v1h-1zM525 855h1v1h-1zM538 855h1v1h-1zM676 855h1v1h-1zM763 855h1v1h-1zM776 855h2v1h-2zM786 855h3v1h-3zM823 855h1v1h-1zM833 855h1v1h-1zM840 855h1v1h-1zM923 855h1v1h-1zM926 855h2v1h-2zM1271 855h1v1h-1zM1344 855h1v1h-1zM1356 855h1v1h-1zM82 856h1v1h-1zM87 856h1v1h-1zM211 856h1v1h-1zM215 856h1v1h-1zM238 856h1v1h-1zM275 856h1v1h-1zM302 856h1v1h-1zM367 856h2v1h-2zM393 856h1v1h-1zM398 856h1v1h-1zM505 856h1v1h-1zM509 856h1v1h-1zM524 856h1v1h-1zM539 856h1v1h-1zM675 856h1v1h-1zM677 856h1v1h-1zM762 856h1v1h-1zM778 856h2v1h-2zM782 856h4v1h-4zM789 856h1v1h-1zM822 856h1v1h-1zM833 856h1v1h-1zM840 856h1v1h-1zM923 856h1v1h-1zM925 856h1v1h-1zM1271 856h1v1h-1zM1343 856h1v1h-1zM1357 856h1v1h-1zM82 857h1v1h-1zM88 857h2v1h-2zM99 857h10v1h-10zM210 857h1v1h-1zM216 857h1v1h-1zM237 857h1v1h-1zM276 857h1v1h-1zM292 857h2v1h-2zM302 857h1v1h-1zM369 857h2v1h-2zM392 857h1v1h-1zM399 857h1v1h-1zM504 857h1v1h-1zM510 857h1v1h-1zM523 857h1v1h-1zM540 857h2v1h-2zM675 857h1v1h-1zM677 857h1v1h-1zM761 857h1v1h-1zM780 857h2v1h-2zM789 857h1v1h-1zM821 857h1v1h-1zM834 857h1v1h-1zM839 857h1v1h-1zM924 857h1v1h-1zM1272 857h1v1h-1zM1342 857h1v1h-1zM1358 857h1v1h-1zM67 858h2v1h-2zM81 858h1v1h-1zM90 858h1v1h-1zM96 858h3v1h-3zM109 858h1v1h-1zM210 858h1v1h-1zM217 858h1v1h-1zM236 858h1v1h-1zM277 858h1v1h-1zM290 858h2v1h-2zM294 858h4v1h-4zM301 858h1v1h-1zM371 858h3v1h-3zM391 858h1v1h-1zM400 858h1v1h-1zM502 858h2v1h-2zM510 858h1v1h-1zM523 858h1v1h-1zM542 858h4v1h-4zM674 858h1v1h-1zM678 858h1v1h-1zM760 858h1v1h-1zM790 858h1v1h-1zM821 858h1v1h-1zM834 858h1v1h-1zM838 858h1v1h-1zM1272 858h1v1h-1zM1341 858h1v1h-1zM1359 858h1v1h-1zM65 859h2v1h-2zM69 859h1v1h-1zM81 859h1v1h-1zM91 859h1v1h-1zM94 859h2v1h-2zM110 859h1v1h-1zM210 859h1v1h-1zM218 859h1v1h-1zM235 859h1v1h-1zM278 859h2v1h-2zM289 859h1v1h-1zM298 859h3v1h-3zM374 859h2v1h-2zM390 859h1v1h-1zM400 859h1v1h-1zM501 859h1v1h-1zM511 859h1v1h-1zM522 859h1v1h-1zM546 859h4v1h-4zM673 859h1v1h-1zM679 859h1v1h-1zM760 859h1v1h-1zM790 859h1v1h-1zM820 859h1v1h-1zM835 859h1v1h-1zM837 859h1v1h-1zM1273 859h1v1h-1zM1314 859h4v1h-4zM1336 859h5v1h-5zM1360 859h2v1h-2zM63 860h2v1h-2zM70 860h1v1h-1zM80 860h1v1h-1zM92 860h2v1h-2zM111 860h1v1h-1zM210 860h1v1h-1zM218 860h1v1h-1zM234 860h1v1h-1zM280 860h1v1h-1zM288 860h1v1h-1zM376 860h3v1h-3zM389 860h1v1h-1zM401 860h1v1h-1zM500 860h1v1h-1zM511 860h1v1h-1zM522 860h1v1h-1zM550 860h4v1h-4zM673 860h1v1h-1zM680 860h1v1h-1zM759 860h1v1h-1zM791 860h1v1h-1zM819 860h1v1h-1zM835 860h1v1h-1zM837 860h1v1h-1zM1273 860h1v1h-1zM1310 860h4v1h-4zM1318 860h2v1h-2zM1330 860h6v1h-6zM1362 860h1v1h-1zM20 861h1v1h-1zM61 861h2v1h-2zM71 861h1v1h-1zM79 861h1v1h-1zM112 861h1v1h-1zM209 861h1v1h-1zM219 861h1v1h-1zM232 861h2v1h-2zM281 861h1v1h-1zM286 861h2v1h-2zM379 861h10v1h-10zM402 861h1v1h-1zM500 861h1v1h-1zM512 861h1v1h-1zM521 861h1v1h-1zM554 861h3v1h-3zM672 861h1v1h-1zM680 861h1v1h-1zM740 861h1v1h-1zM758 861h1v1h-1zM791 861h1v1h-1zM818 861h1v1h-1zM836 861h1v1h-1zM1273 861h1v1h-1zM1308 861h2v1h-2zM1320 861h3v1h-3zM1326 861h4v1h-4zM1363 861h1v1h-1zM20 862h2v1h-2zM60 862h1v1h-1zM72 862h1v1h-1zM79 862h1v1h-1zM112 862h1v1h-1zM209 862h1v1h-1zM220 862h2v1h-2zM231 862h1v1h-1zM282 862h2v1h-2zM285 862h1v1h-1zM403 862h1v1h-1zM499 862h1v1h-1zM512 862h1v1h-1zM521 862h1v1h-1zM557 862h2v1h-2zM671 862h1v1h-1zM681 862h1v1h-1zM740 862h3v1h-3zM757 862h1v1h-1zM792 862h1v1h-1zM817 862h1v1h-1zM1274 862h1v1h-1zM1307 862h1v1h-1zM1323 862h3v1h-3zM1364 862h4v1h-4zM19 863h1v1h-1zM22 863h1v1h-1zM60 863h1v1h-1zM72 863h1v1h-1zM78 863h1v1h-1zM113 863h1v1h-1zM209 863h1v1h-1zM222 863h2v1h-2zM230 863h1v1h-1zM284 863h1v1h-1zM403 863h1v1h-1zM499 863h1v1h-1zM513 863h1v1h-1zM520 863h1v1h-1zM559 863h1v1h-1zM671 863h1v1h-1zM682 863h1v1h-1zM739 863h1v1h-1zM743 863h1v1h-1zM755 863h2v1h-2zM792 863h1v1h-1zM804 863h1v1h-1zM816 863h1v1h-1zM1274 863h1v1h-1zM1307 863h1v1h-1zM1368 863h6v1h-6zM1395 863h2v1h-2zM19 864h1v1h-1zM22 864h1v1h-1zM59 864h1v1h-1zM73 864h1v1h-1zM78 864h1v1h-1zM114 864h1v1h-1zM208 864h1v1h-1zM224 864h3v1h-3zM229 864h1v1h-1zM404 864h1v1h-1zM498 864h1v1h-1zM513 864h1v1h-1zM519 864h1v1h-1zM560 864h2v1h-2zM670 864h1v1h-1zM683 864h1v1h-1zM739 864h1v1h-1zM744 864h2v1h-2zM752 864h3v1h-3zM793 864h1v1h-1zM803 864h1v1h-1zM805 864h2v1h-2zM816 864h1v1h-1zM1274 864h1v1h-1zM1306 864h1v1h-1zM1374 864h4v1h-4zM1392 864h3v1h-3zM18 865h1v1h-1zM23 865h1v1h-1zM59 865h1v1h-1zM74 865h1v1h-1zM77 865h1v1h-1zM115 865h1v1h-1zM208 865h1v1h-1zM227 865h2v1h-2zM405 865h1v1h-1zM498 865h1v1h-1zM514 865h1v1h-1zM519 865h1v1h-1zM562 865h2v1h-2zM669 865h1v1h-1zM683 865h1v1h-1zM738 865h1v1h-1zM746 865h2v1h-2zM750 865h2v1h-2zM793 865h1v1h-1zM802 865h1v1h-1zM807 865h1v1h-1zM815 865h1v1h-1zM1275 865h1v1h-1zM1306 865h1v1h-1zM1378 865h6v1h-6zM1390 865h2v1h-2zM18 866h1v1h-1zM24 866h1v1h-1zM58 866h1v1h-1zM75 866h1v1h-1zM77 866h1v1h-1zM116 866h2v1h-2zM208 866h1v1h-1zM406 866h1v1h-1zM497 866h1v1h-1zM514 866h1v1h-1zM518 866h1v1h-1zM564 866h1v1h-1zM669 866h1v1h-1zM684 866h2v1h-2zM738 866h1v1h-1zM748 866h2v1h-2zM794 866h1v1h-1zM801 866h1v1h-1zM808 866h2v1h-2zM814 866h1v1h-1zM1275 866h1v1h-1zM1305 866h1v1h-1zM1384 866h6v1h-6zM17 867h1v1h-1zM25 867h1v1h-1zM58 867h1v1h-1zM76 867h1v1h-1zM118 867h4v1h-4zM207 867h1v1h-1zM407 867h1v1h-1zM497 867h1v1h-1zM515 867h1v1h-1zM518 867h1v1h-1zM565 867h2v1h-2zM666 867h3v1h-3zM686 867h4v1h-4zM737 867h1v1h-1zM794 867h1v1h-1zM800 867h1v1h-1zM810 867h2v1h-2zM813 867h1v1h-1zM1275 867h1v1h-1zM1305 867h1v1h-1zM17 868h1v1h-1zM26 868h1v1h-1zM57 868h1v1h-1zM122 868h3v1h-3zM207 868h1v1h-1zM408 868h1v1h-1zM496 868h1v1h-1zM515 868h1v1h-1zM517 868h1v1h-1zM567 868h2v1h-2zM578 868h4v1h-4zM662 868h4v1h-4zM690 868h3v1h-3zM737 868h1v1h-1zM795 868h1v1h-1zM799 868h1v1h-1zM812 868h1v1h-1zM1276 868h1v1h-1zM1280 868h6v1h-6zM1304 868h1v1h-1zM16 869h1v1h-1zM26 869h1v1h-1zM34 869h3v1h-3zM57 869h1v1h-1zM125 869h1v1h-1zM207 869h1v1h-1zM409 869h1v1h-1zM428 869h2v1h-2zM496 869h1v1h-1zM516 869h2v1h-2zM569 869h2v1h-2zM574 869h4v1h-4zM582 869h2v1h-2zM652 869h10v1h-10zM693 869h1v1h-1zM736 869h1v1h-1zM795 869h1v1h-1zM798 869h1v1h-1zM1276 869h4v1h-4zM1286 869h2v1h-2zM1303 869h1v1h-1zM16 870h1v1h-1zM27 870h1v1h-1zM30 870h4v1h-4zM37 870h1v1h-1zM57 870h1v1h-1zM126 870h2v1h-2zM206 870h1v1h-1zM410 870h1v1h-1zM426 870h2v1h-2zM430 870h2v1h-2zM495 870h1v1h-1zM516 870h1v1h-1zM571 870h3v1h-3zM584 870h3v1h-3zM652 870h1v1h-1zM693 870h1v1h-1zM736 870h1v1h-1zM796 870h2v1h-2zM1288 870h3v1h-3zM1303 870h1v1h-1zM15 871h1v1h-1zM28 871h2v1h-2zM38 871h1v1h-1zM56 871h1v1h-1zM128 871h1v1h-1zM206 871h1v1h-1zM411 871h1v1h-1zM424 871h2v1h-2zM432 871h3v1h-3zM495 871h1v1h-1zM587 871h2v1h-2zM651 871h1v1h-1zM694 871h1v1h-1zM735 871h1v1h-1zM796 871h1v1h-1zM1291 871h2v1h-2zM1302 871h1v1h-1zM15 872h1v1h-1zM38 872h1v1h-1zM56 872h1v1h-1zM129 872h1v1h-1zM138 872h3v1h-3zM206 872h1v1h-1zM412 872h2v1h-2zM423 872h1v1h-1zM435 872h2v1h-2zM494 872h1v1h-1zM589 872h1v1h-1zM651 872h1v1h-1zM695 872h1v1h-1zM735 872h1v1h-1zM1293 872h2v1h-2zM1302 872h1v1h-1zM14 873h1v1h-1zM39 873h1v1h-1zM55 873h1v1h-1zM130 873h2v1h-2zM134 873h4v1h-4zM141 873h1v1h-1zM206 873h1v1h-1zM414 873h4v1h-4zM421 873h2v1h-2zM437 873h1v1h-1zM494 873h1v1h-1zM590 873h1v1h-1zM651 873h1v1h-1zM695 873h1v1h-1zM734 873h1v1h-1zM1295 873h2v1h-2zM1301 873h1v1h-1zM14 874h1v1h-1zM40 874h1v1h-1zM55 874h1v1h-1zM132 874h2v1h-2zM142 874h1v1h-1zM205 874h1v1h-1zM418 874h3v1h-3zM438 874h1v1h-1zM493 874h1v1h-1zM590 874h1v1h-1zM651 874h1v1h-1zM696 874h1v1h-1zM734 874h1v1h-1zM1297 874h2v1h-2zM1301 874h1v1h-1zM13 875h1v1h-1zM41 875h1v1h-1zM55 875h1v1h-1zM143 875h1v1h-1zM205 875h1v1h-1zM439 875h1v1h-1zM493 875h1v1h-1zM591 875h1v1h-1zM650 875h1v1h-1zM697 875h1v1h-1zM733 875h1v1h-1zM1299 875h2v1h-2zM13 876h1v1h-1zM42 876h1v1h-1zM54 876h1v1h-1zM144 876h2v1h-2zM205 876h1v1h-1zM440 876h1v1h-1zM492 876h1v1h-1zM592 876h1v1h-1zM650 876h1v1h-1zM697 876h1v1h-1zM733 876h1v1h-1zM12 877h1v1h-1zM42 877h1v1h-1zM54 877h1v1h-1zM146 877h1v1h-1zM204 877h1v1h-1zM440 877h1v1h-1zM492 877h1v1h-1zM593 877h1v1h-1zM650 877h1v1h-1zM698 877h1v1h-1zM732 877h1v1h-1zM12 878h1v1h-1zM43 878h1v1h-1zM53 878h1v1h-1zM147 878h1v1h-1zM204 878h1v1h-1zM441 878h1v1h-1zM491 878h1v1h-1zM594 878h1v1h-1zM649 878h1v1h-1zM699 878h1v1h-1zM731 878h2v1h-2zM11 879h1v1h-1zM44 879h2v1h-2zM53 879h1v1h-1zM148 879h2v1h-2zM204 879h1v1h-1zM442 879h1v1h-1zM491 879h1v1h-1zM594 879h1v1h-1zM649 879h1v1h-1zM699 879h1v1h-1zM729 879h2v1h-2zM11 880h1v1h-1zM46 880h4v1h-4zM52 880h1v1h-1zM150 880h2v1h-2zM203 880h1v1h-1zM443 880h1v1h-1zM490 880h1v1h-1zM595 880h1v1h-1zM649 880h1v1h-1zM700 880h12v1h-12zM727 880h2v1h-2zM10 881h1v1h-1zM50 881h3v1h-3zM152 881h3v1h-3zM203 881h1v1h-1zM444 881h1v1h-1zM490 881h1v1h-1zM596 881h1v1h-1zM648 881h1v1h-1zM712 881h8v1h-8zM725 881h2v1h-2zM10 882h1v1h-1zM155 882h2v1h-2zM202 882h1v1h-1zM445 882h2v1h-2zM490 882h1v1h-1zM597 882h2v1h-2zM648 882h1v1h-1zM720 882h5v1h-5zM9 883h1v1h-1zM157 883h1v1h-1zM202 883h1v1h-1zM447 883h1v1h-1zM489 883h1v1h-1zM599 883h2v1h-2zM648 883h1v1h-1zM9 884h1v1h-1zM158 884h2v1h-2zM201 884h1v1h-1zM448 884h2v1h-2zM489 884h1v1h-1zM601 884h2v1h-2zM648 884h1v1h-1zM8 885h1v1h-1zM160 885h1v1h-1zM201 885h1v1h-1zM450 885h2v1h-2zM488 885h1v1h-1zM603 885h2v1h-2zM647 885h1v1h-1zM8 886h1v1h-1zM161 886h1v1h-1zM200 886h1v1h-1zM452 886h1v1h-1zM488 886h1v1h-1zM605 886h1v1h-1zM647 886h1v1h-1zM7 887h1v1h-1zM162 887h2v1h-2zM200 887h1v1h-1zM453 887h1v1h-1zM488 887h1v1h-1zM606 887h1v1h-1zM647 887h1v1h-1zM7 888h1v1h-1zM164 888h2v1h-2zM199 888h1v1h-1zM454 888h1v1h-1zM487 888h1v1h-1zM607 888h1v1h-1zM646 888h1v1h-1zM6 889h1v1h-1zM166 889h4v1h-4zM199 889h1v1h-1zM455 889h1v1h-1zM487 889h1v1h-1zM608 889h2v1h-2zM646 889h1v1h-1zM6 890h1v1h-1zM170 890h3v1h-3zM198 890h1v1h-1zM456 890h1v1h-1zM486 890h1v1h-1zM610 890h1v1h-1zM646 890h1v1h-1zM5 891h1v1h-1zM173 891h2v1h-2zM198 891h1v1h-1zM456 891h1v1h-1zM486 891h1v1h-1zM611 891h1v1h-1zM645 891h1v1h-1zM5 892h1v1h-1zM175 892h1v1h-1zM197 892h1v1h-1zM457 892h1v1h-1zM486 892h1v1h-1zM612 892h1v1h-1zM645 892h1v1h-1zM0 893h5v1h-5zM176 893h2v1h-2zM197 893h1v1h-1zM458 893h1v1h-1zM485 893h1v1h-1zM613 893h2v1h-2zM645 893h1v1h-1zM-4 894h4v1h-4zM178 894h2v1h-2zM195 894h2v1h-2zM459 894h1v1h-1zM485 894h1v1h-1zM615 894h2v1h-2zM645 894h1v1h-1zM180 895h2v1h-2zM193 895h2v1h-2zM460 895h12v1h-12zM484 895h1v1h-1zM617 895h2v1h-2zM644 895h1v1h-1zM182 896h2v1h-2zM191 896h2v1h-2zM472 896h13v1h-13zM619 896h3v1h-3zM640 896h5v1h-5zM184 897h3v1h-3zM189 897h2v1h-2zM622 897h4v1h-4zM632 897h8v1h-8zM187 898h2v1h-2zM626 898h6v1h-6z" fill="#1e90ff"/>
</g>
<g font-family="'Liberation Sans', sans-serif" font-size="9.8" fill="#000" stroke="#000" stroke-width="0.15"><text transform="translate(1 769) scale(0.934 1)">RSI(14) 38.7581</text><text transform="translate(1609 767) scale(0.93 1)">100</text><text transform="translate(1609 796) scale(0.93 1)">80</text><text transform="translate(1609 847) scale(0.93 1)">50</text><text transform="translate(1609 908) scale(0.93 1)">15</text><text transform="translate(1609 927) scale(0.93 1)">0</text></g>
<g shape-rendering="crispEdges">
<rect x="60" y="931" width="1" height="3" fill="#000"/>
<rect x="124" y="931" width="1" height="3" fill="#000"/>
<rect x="188" y="931" width="1" height="3" fill="#000"/>
<rect x="252" y="931" width="1" height="3" fill="#000"/>
<rect x="316" y="931" width="1" height="3" fill="#000"/>
<rect x="380" y="931" width="1" height="3" fill="#000"/>
<rect x="444" y="931" width="1" height="3" fill="#000"/>
<rect x="508" y="931" width="1" height="3" fill="#000"/>
<rect x="572" y="931" width="1" height="3" fill="#000"/>
<rect x="636" y="931" width="1" height="3" fill="#000"/>
<rect x="700" y="931" width="1" height="3" fill="#000"/>
<rect x="764" y="931" width="1" height="3" fill="#000"/>
<rect x="828" y="931" width="1" height="3" fill="#000"/>
<rect x="892" y="931" width="1" height="3" fill="#000"/>
<rect x="956" y="931" width="1" height="3" fill="#000"/>
<rect x="1020" y="931" width="1" height="3" fill="#000"/>
<rect x="1084" y="931" width="1" height="3" fill="#000"/>
<rect x="1148" y="931" width="1" height="3" fill="#000"/>
<rect x="1212" y="931" width="1" height="3" fill="#000"/>
<rect x="1276" y="931" width="1" height="3" fill="#000"/>
<rect x="1340" y="931" width="1" height="3" fill="#000"/>
</g>
<g font-family="'Liberation Sans', sans-serif" font-size="9.8" fill="#000" stroke="#000" stroke-width="0.15"><text transform="translate(-5 943) scale(0.955 1)">24 Feb 2020</text><text transform="translate(59 943) scale(0.955 1)">25 Feb 23:30</text><text transform="translate(123 943) scale(0.955 1)">27 Feb 04:00</text><text transform="translate(187 943) scale(0.955 1)">28 Feb 14:55</text><text transform="translate(251 943) scale(0.955 1)">2 Mar 23:30</text><text transform="translate(315 943) scale(0.955 1)">4 Mar 04:00</text><text transform="translate(379 943) scale(0.955 1)">5 Mar 14:55</text><text transform="translate(443 943) scale(0.955 1)">8 Mar 23:30</text><text transform="translate(507 943) scale(0.955 1)">10 Mar 04:00</text><text transform="translate(571 943) scale(0.955 1)">11 Mar 14:55</text><text transform="translate(635 943) scale(0.955 1)">12 Mar 23:30</text><text transform="translate(699 943) scale(0.955 1)">16 Mar 04:00</text><text transform="translate(763 943) scale(0.955 1)">17 Mar 14:55</text><text transform="translate(827 943) scale(0.955 1)">18 Mar 23:30</text><text transform="translate(891 943) scale(0.955 1)">20 Mar 04:00</text><text transform="translate(955 943) scale(0.955 1)">23 Mar 14:55</text><text transform="translate(1019 943) scale(0.955 1)">24 Mar 23:30</text><text transform="translate(1083 943) scale(0.955 1)">26 Mar 04:00</text><text transform="translate(1147 943) scale(0.955 1)">27 Mar 14:55</text><text transform="translate(1211 943) scale(0.955 1)">30 Mar 23:30</text><text transform="translate(1275 943) scale(0.955 1)">1 Apr 04:00</text><text transform="translate(1339 943) scale(0.955 1)">2 Apr 14:55</text></g>
<polygon points="0,40.5 6.5,40.5 3.2,36" fill="#000"/>
<text x="10.5" y="41" font-family="'Liberation Sans', sans-serif" font-size="9.8" fill="#000" stroke="#000" stroke-width="0.15" xml:space="preserve" textLength="197" lengthAdjust="spacingAndGlyphs">JPN225-,H4  17607.5 17682.5 17582.5 17662.5</text></svg>
<div id="tb"><svg width="1650" height="25" viewBox="0 0 1650 25" style="position:absolute;left:0;top:0">
<defs>
<linearGradient id="gy" x1="0" y1="0" x2="1" y2="1"><stop offset="0" stop-color="#ffe680"/><stop offset="0.5" stop-color="#e8b820"/><stop offset="1" stop-color="#b07a08"/></linearGradient>
<linearGradient id="gb" x1="0" y1="0" x2="0" y2="1"><stop offset="0" stop-color="#5bb4ff"/><stop offset="1" stop-color="#1464d2"/></linearGradient>
<linearGradient id="gg" x1="0" y1="0" x2="1" y2="0"><stop offset="0" stop-color="#10b010"/><stop offset="0.5" stop-color="#70ff70"/><stop offset="1" stop-color="#10b010"/></linearGradient>
<radialGradient id="gl" cx="0.4" cy="0.35" r="0.7"><stop offset="0" stop-color="#f4faff"/><stop offset="1" stop-color="#b9d9f7"/></radialGradient>
<linearGradient id="gw" x1="0" y1="0" x2="0" y2="1"><stop offset="0" stop-color="#ffffff"/><stop offset="1" stop-color="#d4d4e0"/></linearGradient>
<pattern id="dz" width="2" height="2" patternUnits="userSpaceOnUse"><rect width="2" height="2" fill="#fff"/><rect width="1" height="1" fill="#f0f0f0"/><rect x="1" y="1" width="1" height="1" fill="#f0f0f0"/></pattern>
<radialGradient id="gp" cx="0.5" cy="0.45" r="0.6"><stop offset="0" stop-color="#7dff7d"/><stop offset="1" stop-color="#0fb40f"/></radialGradient>
<linearGradient id="gc" x1="0" y1="0" x2="0" y2="1"><stop offset="0" stop-color="#4aa2f2"/><stop offset="1" stop-color="#0a4cb0"/></linearGradient>
</defs>
<text x="-5.3" y="16" font-family="'Liberation Sans','Noto Sans CJK SC',sans-serif" font-size="12" fill="#000" stroke="#000" stroke-width="0.25">新订单</text>
<path d="M43 15.6 L50.4 21 L58.8 13 L58.4 12.2 L50.4 19.6 Z" fill="#9a6408"/>
<path d="M48.6 6.2 C47.6 6.6 47.8 8 48.2 8.6 L43 15.2 L50.4 19.8 L58.4 12.6 Z" fill="url(#gy)" stroke="#a87008" stroke-width="0.7"/>
<path d="M44 16.6 L50.4 20.8 L58.6 13.2" fill="none" stroke="#e8c050" stroke-width="0.5"/>
<path d="M74 6.5 l3 -1.5 h7 v9 h-10z" fill="url(#gb)" stroke="#1a66c8" stroke-width="0.8"/><rect x="78.5" y="9" width="4" height="1.2" fill="#dff"/><path d="M77 6.5 v8" stroke="#bfe4ff" stroke-width="0.8"/>
<path d="M74 20.5 a3 3 0 0 1 0.5 -6 a3.4 3.4 0 0 1 6.2 -1 a3 3 0 0 1 4.3 1.6 a2.8 2.8 0 0 1 -0.6 5.4z" fill="url(#gw)" stroke="#7a96c8" stroke-width="0.9"/>
<circle cx="107" cy="12.8" r="8.2" fill="#e6eef8" opacity="0.8"/><path d="M107 12.8 L107 21 A8.2 8.2 0 0 0 111.5 6 Z" fill="#7cba7c" opacity="0.7"/>
<g fill="none" stroke="#4a78d8" stroke-width="0.9"><path d="M102.4 19.4 A8 8 0 0 1 103 6"/><path d="M104 17.2 A5.4 5.4 0 0 1 104.4 8.6"/><path d="M105.4 15 A2.8 2.8 0 0 1 105.8 10.6"/><path d="M109.8 8.4 A5.4 5.4 0 0 1 112.2 14" stroke="#6a9aa0" opacity="0.7"/></g>
<circle cx="107" cy="12.6" r="1.7" fill="#2a5ad0"/><path d="M107.4 13.4 V21" stroke="#18a818" stroke-width="1.7"/>
<path d="M127.5 13.5 L134 20.8 L141.5 12.5 L134 11 Z" fill="#f4d23c" stroke="#c89a10" stroke-width="0.7"/>
<ellipse cx="134" cy="10.6" rx="7.6" ry="2.8" fill="#58a8e0" stroke="#2a78b8" stroke-width="0.7"/><path d="M130 10 a4 4.6 0 0 1 8 0z" fill="#7cc4f0" stroke="#2a78b8" stroke-width="0.7"/>
<circle cx="138.4" cy="17" r="3.9" fill="#e02010" stroke="#a81408" stroke-width="0.6"/><rect x="136.7" y="15.3" width="3.4" height="3.4" fill="#fff"/>
<text x="147.5" y="16.2" font-family="'Liberation Sans','Noto Sans CJK SC',sans-serif" font-size="12" fill="#000" stroke="#000" stroke-width="0.25">自动交易</text>
<rect x="202" y="0" width="1" height="25" fill="#a0a0a0" shape-rendering="crispEdges"/><rect x="203" y="0" width="1" height="25" fill="#fff" shape-rendering="crispEdges"/>
<rect x="206" y="3" width="3" height="1" fill="#a8a8a8" shape-rendering="crispEdges"/>
<rect x="206" y="5" width="3" height="1" fill="#a8a8a8" shape-rendering="crispEdges"/>
<rect x="206" y="7" width="3" height="1" fill="#a8a8a8" shape-rendering="crispEdges"/>
<rect x="206" y="9" width="3" height="1" fill="#a8a8a8" shape-rendering="crispEdges"/>
<rect x="206" y="11" width="3" height="1" fill="#a8a8a8" shape-rendering="crispEdges"/>
<rect x="206" y="13" width="3" height="1" fill="#a8a8a8" shape-rendering="crispEdges"/>
<rect x="206" y="15" width="3" height="1" fill="#a8a8a8" shape-rendering="crispEdges"/>
<rect x="206" y="17" width="3" height="1" fill="#a8a8a8" shape-rendering="crispEdges"/>
<rect x="206" y="19" width="3" height="1" fill="#a8a8a8" shape-rendering="crispEdges"/>
<rect x="206" y="21" width="3" height="1" fill="#a8a8a8" shape-rendering="crispEdges"/>
<g stroke="#555" stroke-width="1.2" fill="none"><path d="M220.5 8 V21"/><path d="M218 18.5 H231"/></g>
<path d="M220.5 6.5 l-2 3 h4z M232.5 18.5 l-3 -2 v4z" fill="#555"/>
<path d="M227.5 8 V16.5 M227.5 9.5 h2.2 M227.5 15.5 h-3" stroke="#089008" stroke-width="1.3" fill="none"/>
<rect x="240" y="1" width="25" height="22" fill="url(#dz)" shape-rendering="crispEdges"/>
<rect x="240" y="1" width="25" height="1" fill="#a0a0a0" shape-rendering="crispEdges"/><rect x="240" y="1" width="1" height="22" fill="#a0a0a0" shape-rendering="crispEdges"/>
<rect x="264" y="1" width="1" height="22" fill="#fff" shape-rendering="crispEdges"/><rect x="240" y="22" width="25" height="1" fill="#fff" shape-rendering="crispEdges"/>
<g stroke="#555" stroke-width="1.2" fill="none"><path d="M248.5 8 V21"/><path d="M246 18.5 H259"/></g>
<path d="M248.5 6.5 l-2 3 h4z M260.5 18.5 l-3 -2 v4z" fill="#555"/>
<path d="M254.5 5 V17" stroke="#0a8a0a" stroke-width="1.2"/><rect x="252.3" y="7" width="4.5" height="8" fill="url(#gg)" stroke="#0a8a0a" stroke-width="0.8"/>
<g stroke="#555" stroke-width="1.2" fill="none"><path d="M276.5 8 V21"/><path d="M274 18.5 H287"/></g>
<path d="M276.5 6.5 l-2 3 h4z M288.5 18.5 l-3 -2 v4z" fill="#555"/>
<path d="M275.3 15.8 C279 13 281 9.5 283 10.2 C285 11 286 13.5 287.5 14.2" stroke="#18a018" stroke-width="1.3" fill="none"/>
<rect x="297" y="2" width="1" height="21" fill="#a0a0a0" shape-rendering="crispEdges"/>
<path d="M315.6 15 l5.2 5" stroke="#a88a10" stroke-width="3.2" stroke-linecap="round"/><path d="M315.6 14.8 l5 4.8" stroke="#f0d040" stroke-width="1.6" stroke-linecap="round"/>
<circle cx="312" cy="11" r="5.4" fill="url(#gl)" stroke="#3a7ad0" stroke-width="1.3"/>
<path d="M309 11 h6" stroke="#3a80b4" stroke-width="1.8"/>
<path d="M312 8 v6" stroke="#3a80b4" stroke-width="1.8"/>
<path d="M343.6 15 l5.2 5" stroke="#a88a10" stroke-width="3.2" stroke-linecap="round"/><path d="M343.6 14.8 l5 4.8" stroke="#f0d040" stroke-width="1.6" stroke-linecap="round"/>
<circle cx="340" cy="11" r="5.4" fill="url(#gl)" stroke="#3a7ad0" stroke-width="1.3"/>
<path d="M337 11 h6" stroke="#3a80b4" stroke-width="1.8"/>
<rect x="362" y="4.8" width="8" height="8" fill="#2aa01c"/><rect x="370" y="4.8" width="8" height="8" fill="#1c5ad8"/><rect x="362" y="12.8" width="8" height="8" fill="#1c5ad8"/><rect x="370" y="12.8" width="8" height="8" fill="#2aa01c"/>
<rect x="363.2" y="7.8" width="5.6" height="4" fill="#fff" opacity="0.95"/><rect x="364" y="10.0" width="4" height="0.9" fill="#2aa01c"/><rect x="362.8" y="5.7" width="1.1" height="1.1" fill="#fff" opacity="0.9"/>
<rect x="371.2" y="7.8" width="5.6" height="4" fill="#fff" opacity="0.95"/><rect x="372" y="10.0" width="4" height="0.9" fill="#1c5ad8"/><rect x="370.8" y="5.7" width="1.1" height="1.1" fill="#fff" opacity="0.9"/>
<rect x="363.2" y="15.8" width="5.6" height="4" fill="#fff" opacity="0.95"/><rect x="364" y="18.0" width="4" height="0.9" fill="#1c5ad8"/><rect x="362.8" y="13.700000000000001" width="1.1" height="1.1" fill="#fff" opacity="0.9"/>
<rect x="371.2" y="15.8" width="5.6" height="4" fill="#fff" opacity="0.95"/><rect x="372" y="18.0" width="4" height="0.9" fill="#2aa01c"/><rect x="370.8" y="13.700000000000001" width="1.1" height="1.1" fill="#fff" opacity="0.9"/>
<rect x="387" y="2" width="1" height="21" fill="#a0a0a0" shape-rendering="crispEdges"/>
<rect x="392" y="1" width="25" height="22" fill="url(#dz)" shape-rendering="crispEdges"/>
<rect x="392" y="1" width="25" height="1" fill="#a0a0a0" shape-rendering="crispEdges"/><rect x="392" y="1" width="1" height="22" fill="#a0a0a0" shape-rendering="crispEdges"/>
<rect x="416" y="1" width="1" height="22" fill="#fff" shape-rendering="crispEdges"/><rect x="392" y="22" width="25" height="1" fill="#fff" shape-rendering="crispEdges"/>
<g stroke="#555" stroke-width="1.2" fill="none"><path d="M400.5 9 V21"/><path d="M398 18.4 H410"/></g>
<path d="M400.5 7.5 l-2 3 h4z M411.5 18.4 l-3 -2 v4z" fill="#555"/>
<path d="M405.4 9.2 L409.2 12.6 L405.4 16 Z" fill="#30c030" stroke="#0a8a0a" stroke-width="0.8"/>
<rect x="420" y="1" width="25" height="22" fill="url(#dz)" shape-rendering="crispEdges"/>
<rect x="420" y="1" width="25" height="1" fill="#a0a0a0" shape-rendering="crispEdges"/><rect x="420" y="1" width="1" height="22" fill="#a0a0a0" shape-rendering="crispEdges"/>
<rect x="444" y="1" width="1" height="22" fill="#fff" shape-rendering="crispEdges"/><rect x="420" y="22" width="25" height="1" fill="#fff" shape-rendering="crispEdges"/>
<g stroke="#555" stroke-width="1.2" fill="none"><path d="M428.5 9 V21"/><path d="M426 18.4 H438"/></g>
<path d="M428.5 7.5 l-2 3 h4z M439.5 18.4 l-3 -2 v4z" fill="#555"/>
<path d="M434.6 7.3 V17" stroke="#1a6ab0" stroke-width="1.2"/><path d="M435.6 12.4 l2.8 -2 v1.4 h1.6 v1.2 h-1.6 v1.4z" fill="#d03000"/>
<rect x="449" y="2" width="1" height="21" fill="#a0a0a0" shape-rendering="crispEdges"/>
<path d="M459.8 5.5 h7.4 l3.4 3.2 v9.4 h-10.8z" fill="#fdfdfd" stroke="#8c8c8c" stroke-width="0.8"/><path d="M467.2 5.5 v3.2 h3.4" fill="none" stroke="#8c8c8c" stroke-width="0.7"/><path d="M465.6 8.2 c-1.6 -0.6 -2 0.6 -2 1.8 v5.4 c0 1.4 -0.4 1.8 -1.4 1.6 M462.2 11.4 h3" stroke="#333" stroke-width="0.9" fill="none"/>
<path d="M467 11.6 h3.8 v3.8 h3.8 v3.6 h-3.8 v3.8 h-3.8 v-3.8 h-3.6 v-3.6 h3.6z" fill="url(#gp)" stroke="#0a8a0a" stroke-width="0.8"/>
<path d="M481 12 h5.4 l-2.7 3z" fill="#000"/>
<circle cx="505" cy="12.9" r="6.8" fill="#f6f8fc" stroke="url(#gc)" stroke-width="2.4"/><circle cx="505" cy="12.9" r="8" fill="none" stroke="#0c4a9a" stroke-width="0.4"/>
<g stroke="#9aa0a8" stroke-width="0.7"><path d="M505 8.2 v1 M505 16.6 v1 M500.3 12.9 h1 M508.7 12.9 h1 M501.7 9.6 l0.7 0.7 M508.3 9.6 l-0.7 0.7 M501.7 16.2 l0.7 -0.7 M508.3 16.2 l-0.7 -0.7"/></g><path d="M504.6 9.4 V13.2 H507.4" stroke="#222" stroke-width="1.2" fill="none"/>
<path d="M520 12 h5.4 l-2.7 3z" fill="#000"/>
<rect x="536.5" y="6.5" width="15" height="13" fill="#fff" stroke="#2a6fd0" stroke-width="1"/><rect x="537" y="7" width="14" height="1.8" fill="url(#gb)"/><path d="M537 14.2 h14" stroke="#2a6fd0" stroke-width="0.6"/>
<path d="M538.5 12.4 l2.2 0 l1.8 -1.4 l2.4 0.6 l2.2 -0.2 l2.4 -1" stroke="#a02010" stroke-width="1.1" fill="none"/><path d="M538.8 17.6 l2.4 -0.6 l2 0.4 l2.6 -1.8 l1.6 0 l2 1.8" stroke="#18a030" stroke-width="1.1" fill="none"/>
<path d="M559 12 h5.4 l-2.7 3z" fill="#000"/>
<rect x="570" y="0" width="1" height="25" fill="#a0a0a0" shape-rendering="crispEdges"/><rect x="571" y="0" width="1" height="25" fill="#fff" shape-rendering="crispEdges"/>
<rect x="574" y="3" width="3" height="1" fill="#a8a8a8" shape-rendering="crispEdges"/>
<rect x="574" y="5" width="3" height="1" fill="#a8a8a8" shape-rendering="crispEdges"/>
<rect x="574" y="7" width="3" height="1" fill="#a8a8a8" shape-rendering="crispEdges"/>
<rect x="574" y="9" width="3" height="1" fill="#a8a8a8" shape-rendering="crispEdges"/>
<rect x="574" y="11" width="3" height="1" fill="#a8a8a8" shape-rendering="crispEdges"/>
<rect x="574" y="13" width="3" height="1" fill="#a8a8a8" shape-rendering="crispEdges"/>
<rect x="574" y="15" width="3" height="1" fill="#a8a8a8" shape-rendering="crispEdges"/>
<rect x="574" y="17" width="3" height="1" fill="#a8a8a8" shape-rendering="crispEdges"/>
<rect x="574" y="19" width="3" height="1" fill="#a8a8a8" shape-rendering="crispEdges"/>
<rect x="574" y="21" width="3" height="1" fill="#a8a8a8" shape-rendering="crispEdges"/>
<rect x="580" y="1" width="25" height="22" fill="url(#dz)" shape-rendering="crispEdges"/>
<rect x="580" y="1" width="25" height="1" fill="#a0a0a0" shape-rendering="crispEdges"/><rect x="580" y="1" width="1" height="22" fill="#a0a0a0" shape-rendering="crispEdges"/>
<rect x="604" y="1" width="1" height="22" fill="#fff" shape-rendering="crispEdges"/><rect x="580" y="22" width="25" height="1" fill="#fff" shape-rendering="crispEdges"/>
<path d="M588 6 V17.6 L590.8 15 L593.2 20.4 L595.3 19.4 L592.9 14.2 L596.6 14.2 Z" fill="#4a4a4a"/>
<path d="M612.8 13.5 h6.4 m2.8 0 h6.4 M620.5 6 v6 m0 3 v6" stroke="#555" stroke-width="1.2" fill="none"/><rect x="620" y="13" width="1" height="1" fill="#555"/>
<rect x="637" y="2" width="1" height="21" fill="#a0a0a0" shape-rendering="crispEdges"/>
<g stroke="#555" stroke-width="1.3" fill="none"><path d="M654.5 6.8 V20"/><path d="M676.8 13.4 H689"/><path d="M705 20 L717 7.8"/></g>
<g stroke="#555" stroke-width="1" fill="none"><path d="M730.5 14 L744.5 6"/><path d="M731.5 17 L745 9.2"/><path d="M733 19.6 L744 13.2"/><path d="M735.5 9.6 L733.6 19 M739.4 7.6 L737.4 17 M743.2 5.2 L741.2 14.6"/></g>
<text x="741.6" y="21.8" font-family="'Liberation Sans',sans-serif" font-weight="bold" font-size="6.8" fill="#444">E</text>
<path d="M759.8 6.3 h13.4" stroke="#555" stroke-width="1" stroke-dasharray="1 1" shape-rendering="crispEdges"/>
<path d="M759.8 9.7 h13.4" stroke="#555" stroke-width="1" stroke-dasharray="1 1" shape-rendering="crispEdges"/>
<path d="M759.8 13.6 h13.4" stroke="#555" stroke-width="1" stroke-dasharray="1 1" shape-rendering="crispEdges"/>
<path d="M759.8 17.5 h9" stroke="#555" stroke-width="1" stroke-dasharray="1 1" shape-rendering="crispEdges"/>
<text x="769.8" y="21.8" font-family="'Liberation Sans',sans-serif" font-weight="bold" font-size="6.8" fill="#444">F</text>
<text x="790.3" y="18" font-family="'Liberation Sans',sans-serif" font-size="12.4" fill="#555" stroke="#555" stroke-width="0.3">A</text>
<rect x="817.5" y="7.5" width="11" height="12" fill="none" stroke="#555" stroke-width="1" stroke-dasharray="1 1" shape-rendering="crispEdges"/><path d="M819.5 10.5 h7 M823 10.5 v7.5" stroke="#555" stroke-width="1.6" fill="none"/><rect x="816.5" y="6.2" width="2" height="1.4" fill="#555"/>
<path d="M847.4 6.8 l2.8 3.2 l-2.8 2.2 l-2.8 -2.2z M854.6 14.6 l3 2.6 l-3 3 l-3 -3z" fill="#4a4a4a"/><path d="M846.6 13.6 l2.2 2.4 l5.2 -5.4" stroke="#4a4a4a" stroke-width="1.5" fill="none"/>
<path d="M865 12 h5.4 l-2.7 3z" fill="#000"/>
<rect x="876" y="0" width="1" height="25" fill="#a0a0a0" shape-rendering="crispEdges"/><rect x="877" y="0" width="1" height="25" fill="#fff" shape-rendering="crispEdges"/>
<rect x="880" y="3" width="3" height="1" fill="#a8a8a8" shape-rendering="crispEdges"/>
<rect x="880" y="5" width="3" height="1" fill="#a8a8a8" shape-rendering="crispEdges"/>
<rect x="880" y="7" width="3" height="1" fill="#a8a8a8" shape-rendering="crispEdges"/>
<rect x="880" y="9" width="3" height="1" fill="#a8a8a8" shape-rendering="crispEdges"/>
<rect x="880" y="11" width="3" height="1" fill="#a8a8a8" shape-rendering="crispEdges"/>
<rect x="880" y="13" width="3" height="1" fill="#a8a8a8" shape-rendering="crispEdges"/>
<rect x="880" y="15" width="3" height="1" fill="#a8a8a8" shape-rendering="crispEdges"/>
<rect x="880" y="17" width="3" height="1" fill="#a8a8a8" shape-rendering="crispEdges"/>
<rect x="880" y="19" width="3" height="1" fill="#a8a8a8" shape-rendering="crispEdges"/>
<rect x="880" y="21" width="3" height="1" fill="#a8a8a8" shape-rendering="crispEdges"/>
<rect x="1026" y="1" width="26" height="22" fill="url(#dz)" shape-rendering="crispEdges"/>
<rect x="1026" y="1" width="26" height="1" fill="#a0a0a0" shape-rendering="crispEdges"/><rect x="1026" y="1" width="1" height="22" fill="#a0a0a0" shape-rendering="crispEdges"/>
<rect x="1051" y="1" width="1" height="22" fill="#fff" shape-rendering="crispEdges"/><rect x="1026" y="22" width="26" height="1" fill="#fff" shape-rendering="crispEdges"/>
<g font-family="'Liberation Sans',sans-serif" font-size="10.2" fill="#333" text-anchor="middle"><text x="897.8" y="17">M1</text><text x="926" y="17">M5</text><text x="954.4" y="17">M15</text><text x="982.4" y="17">M30</text><text x="1010.5" y="17">H1</text><text x="1038" y="17">H4</text><text x="1066.5" y="17">D1</text><text x="1095" y="17">W1</text><text x="1122" y="17">MN</text></g>
<rect x="1137" y="0" width="1" height="25" fill="#a0a0a0" shape-rendering="crispEdges"/><rect x="1138" y="0" width="1" height="25" fill="#fff" shape-rendering="crispEdges"/>
<path d="M1604.4 13.8 L1599.8 18" stroke="#1a50c8" stroke-width="2.6" stroke-linecap="round"/><circle cx="1607.6" cy="10.4" r="4" fill="#f8f8f8" stroke="#2a5fd6" stroke-width="1.3"/>
<path d="M1640.6 14.2 l2.6 2.8 l0 -3z" fill="#666"/><ellipse cx="1640" cy="9.9" rx="6.4" ry="4.7" fill="url(#gw)" stroke="#8a8a8a" stroke-width="0.9"/>
<path d="M1629.2 16.8 l-0.8 3 l3 -2.4z" fill="#666"/><ellipse cx="1631" cy="14" rx="5" ry="3.5" fill="url(#gw)" stroke="#8a8a8a" stroke-width="0.9"/>
</svg></div><div id="tbl1"></div><div id="tbl2"></div>

<div id="panelbg"></div><div id="panel">
 <div class="sellT"><span>SELL</span></div>
 <div class="buyT"><span>BUY</span></div>
 <div class="vol"><div class="sp l"><i class="dn"></i></div><div class="inp">1.00</div><div class="sp r"><i class="up"></i></div></div>
 <div class="sellB"><span class="s">17661</span><span class="dot">.</span><span class="b">0</span></div>
 <div class="buyB"><span class="s">17684</span><span class="dot">.</span><span class="b">0</span></div>
</div>

</body></html>
